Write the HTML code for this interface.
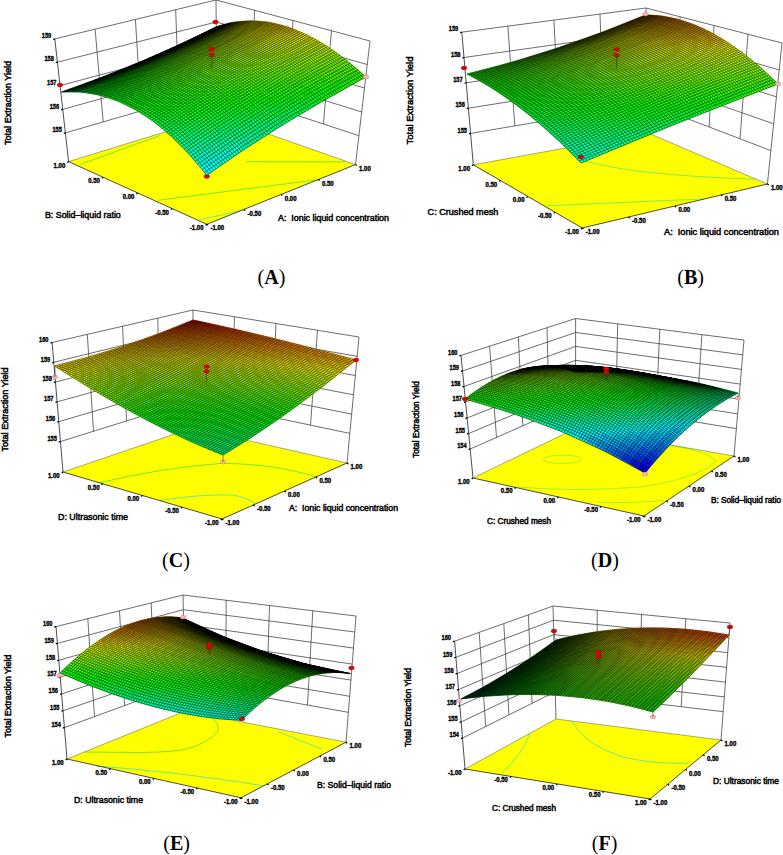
<!DOCTYPE html>
<html><head><meta charset="utf-8"><title>Response surface plots</title>
<style>
html,body{margin:0;padding:0;background:#fff;}
svg{display:block;font-family:"Liberation Sans",sans-serif;}
</style></head><body>
<svg width="783" height="855" viewBox="0 0 783 855">
<rect width="783" height="855" fill="#fff"/>
<g id="pA">
<polygon points="68.6,161.6 206.8,224.3 355.5,164.6 217,116" fill="#ffff00"/>
<path d="M80,164.5L160,135.5" fill="none" stroke="#38e038" stroke-width="0.7"/>
<path d="M158,200.3L318,179.7" fill="none" stroke="#38e038" stroke-width="0.7"/>
<path d="M199.9,219.7L244.4,210" fill="none" stroke="#30e0c0" stroke-width="0.7"/>
<path d="M246,161.7L345,161.9" fill="none" stroke="#38e038" stroke-width="0.7"/>
<path d="M68.6,161.6L217,116L355.5,164.6" fill="none" stroke="#555" stroke-width="0.5"/>
<path d="M95.1,29.2L103.2,121.9M254.5,10.2L252.3,100.6M135.4,19.4L141.1,110.9M293,20.5L287.8,112.3M175.7,9.7L178.9,99.9M331.5,30.8L323.4,124M216,0L217,116M370,41L355.5,164.6M54.8,38.9L216,0L370,41M57.4,62.2L216.2,22L367.2,64.5M60.1,85.6L216.4,44.1L364.5,88M62.7,109.4L216.6,66.7L361.7,112M65.4,132.9L216.8,88.9L358.9,135.7" fill="none" stroke="#3c3c3c" stroke-width="0.75"/>
<path d="M54.8,38.9L68.6,161.6L206.8,224.3L355.5,164.6" fill="none" stroke="#111" stroke-width="0.75"/>
<path d="M54.8,38.9l-1.6,0.4M57.4,62.2l-1.6,0.4M60.1,85.6l-1.6,0.4M62.7,109.4l-1.6,0.4M65.4,132.9l-1.6,0.4M68.6,161.6l-1.3,1.0M206.8,224.3l1.3,1.0M103.2,177.3l-1.3,1.0M244,209.4l1.3,1.0M137.7,192.9l-1.3,1.0M281.1,194.4l1.3,1.0M172.2,208.6l-1.3,1.0M318.3,179.5l1.3,1.0M206.8,224.3l-1.3,1.0M355.5,164.6l1.3,1.0" fill="none" stroke="#000" stroke-width="1.3"/>
<g fill="currentColor" stroke="currentColor" stroke-width="0.6"><polygon color="#0e1600" points="208.5,30.7 215.5,28.5 222.9,24.8 216,27"/><polygon color="#0c1500" points="201,34.4 208,32.2 215.5,28.5 208.5,30.7"/><polygon color="#2d3a00" points="215.5,28.5 222.5,26.8 229.9,23 222.9,24.8"/><polygon color="#0a1500" points="193.5,38 200.5,35.8 208,32.2 201,34.4"/><polygon color="#273a00" points="208,32.2 215.1,30.5 222.5,26.8 215.5,28.5"/><polygon color="#607000" points="222.5,26.8 229.6,25.5 237,21.8 229.9,23"/><polygon color="#081500" points="185.9,41.6 193,39.4 200.5,35.8 193.5,38"/><polygon color="#223a00" points="200.5,35.8 207.6,34.2 215.1,30.5 208,32.2"/><polygon color="#577000" points="215.1,30.5 222.2,29.3 229.6,25.5 222.5,26.8"/><polygon color="#acb600" points="229.6,25.5 236.7,24.8 244.1,21 237,21.8"/><polygon color="#061500" points="178.3,45.1 185.5,43 193,39.4 185.9,41.6"/><polygon color="#1d3a00" points="193,39.4 200.1,37.8 207.6,34.2 200.5,35.8"/><polygon color="#4e7000" points="207.6,34.2 214.7,33 222.2,29.3 215.1,30.5"/><polygon color="#9db700" points="222.2,29.3 229.3,28.6 236.7,24.8 229.6,25.5"/><polygon color="#f1ee00" points="236.7,24.8 243.9,24.6 251.2,20.8 244.1,21"/><polygon color="#051600" points="170.7,48.6 177.9,46.5 185.5,43 178.3,45.1"/><polygon color="#193b00" points="185.5,43 192.6,41.4 200.1,37.8 193,39.4"/><polygon color="#467200" points="200.1,37.8 207.3,36.7 214.7,33 207.6,34.2"/><polygon color="#90b900" points="214.7,33 221.9,32.3 229.3,28.6 222.2,29.3"/><polygon color="#e0f100" points="229.3,28.6 236.5,28.4 243.9,24.6 236.7,24.8"/><polygon color="#ffef00" points="243.9,24.6 251.1,24.9 258.5,21 251.2,20.8"/><polygon color="#031700" points="163.1,52 170.3,50 177.9,46.5 170.7,48.6"/><polygon color="#163d00" points="177.9,46.5 185.1,45 192.6,41.4 185.5,43"/><polygon color="#3e7500" points="192.6,41.4 199.8,40.4 207.3,36.7 200.1,37.8"/><polygon color="#83bc00" points="207.3,36.7 214.4,36.1 221.9,32.3 214.7,33"/><polygon color="#cef300" points="221.9,32.3 229,32.2 236.5,28.4 229.3,28.6"/><polygon color="#faff00" points="236.5,28.4 243.7,28.7 251.1,24.9 243.9,24.6"/><polygon color="#ffe500" points="251.1,24.9 258.3,25.7 265.8,21.7 258.5,21"/><polygon color="#021900" points="155.4,55.4 162.7,53.5 170.3,50 163.1,52"/><polygon color="#124000" points="170.3,50 177.5,48.6 185.1,45 177.9,46.5"/><polygon color="#377800" points="185.1,45 192.3,44 199.8,40.4 192.6,41.4"/><polygon color="#78c000" points="199.8,40.4 206.9,39.8 214.4,36.1 207.3,36.7"/><polygon color="#bdf500" points="214.4,36.1 221.6,36 229,32.2 221.9,32.3"/><polygon color="#e6ff00" points="229,32.2 236.2,32.6 243.7,28.7 236.5,28.4"/><polygon color="#fff900" points="243.7,28.7 250.9,29.6 258.3,25.7 251.1,24.9"/><polygon color="#ffe000" points="258.3,25.7 265.6,26.9 273.1,23 265.8,21.7"/><polygon color="#011c00" points="147.7,58.7 155,56.9 162.7,53.5 155.4,55.4"/><polygon color="#0f4400" points="162.7,53.5 169.9,52.1 177.5,48.6 170.3,50"/><polygon color="#317d00" points="177.5,48.6 184.7,47.6 192.3,44 185.1,45"/><polygon color="#6dc600" points="192.3,44 199.4,43.5 206.9,39.8 199.8,40.4"/><polygon color="#adf700" points="206.9,39.8 214.1,39.8 221.6,36 214.4,36.1"/><polygon color="#d3ff00" points="221.6,36 228.8,36.4 236.2,32.6 229,32.2"/><polygon color="#f0ff00" points="236.2,32.6 243.4,33.5 250.9,29.6 243.7,28.7"/><polygon color="#fff400" points="250.9,29.6 258.2,30.9 265.6,26.9 258.3,25.7"/><polygon color="#ffdf00" points="265.6,26.9 273,28.7 280.5,24.8 273.1,23"/><polygon color="#001e00" points="140,62 147.3,60.3 155,56.9 147.7,58.7"/><polygon color="#0b4800" points="155,56.9 162.3,55.6 169.9,52.1 162.7,53.5"/><polygon color="#2a8200" points="169.9,52.1 177.1,51.2 184.7,47.6 177.5,48.6"/><polygon color="#63cc00" points="184.7,47.6 191.9,47.2 199.4,43.5 192.3,44"/><polygon color="#9dfb00" points="199.4,43.5 206.6,43.5 214.1,39.8 206.9,39.8"/><polygon color="#c0ff00" points="214.1,39.8 221.3,40.3 228.8,36.4 221.6,36"/><polygon color="#ddff00" points="228.8,36.4 235.9,37.4 243.4,33.5 236.2,32.6"/><polygon color="#f6ff00" points="243.4,33.5 250.7,34.9 258.2,30.9 250.9,29.6"/><polygon color="#fff200" points="258.2,30.9 265.5,32.8 273,28.7 265.6,26.9"/><polygon color="#ffe100" points="273,28.7 280.4,31.1 288,27 280.5,24.8"/><polygon color="#002202" points="132.3,65.2 139.6,63.6 147.3,60.3 140,62"/><polygon color="#074d00" points="147.3,60.3 154.6,59 162.3,55.6 155,56.9"/><polygon color="#248900" points="162.3,55.6 169.5,54.8 177.1,51.2 169.9,52.1"/><polygon color="#59d400" points="177.1,51.2 184.3,50.9 191.9,47.2 184.7,47.6"/><polygon color="#8efe00" points="191.9,47.2 199.1,47.3 206.6,43.5 199.4,43.5"/><polygon color="#afff00" points="206.6,43.5 213.8,44.1 221.3,40.3 214.1,39.8"/><polygon color="#cbff00" points="221.3,40.3 228.4,41.3 235.9,37.4 228.8,36.4"/><polygon color="#e4ff00" points="235.9,37.4 243.1,38.8 250.7,34.9 243.4,33.5"/><polygon color="#f9ff00" points="250.7,34.9 257.9,36.8 265.5,32.8 258.2,30.9"/><polygon color="#fff400" points="265.5,32.8 272.8,35.1 280.4,31.1 273,28.7"/><polygon color="#ffe700" points="280.4,31.1 287.8,33.9 295.5,29.8 288,27"/><polygon color="#002704" points="124.5,68.4 131.9,66.9 139.6,63.6 132.3,65.2"/><polygon color="#045400" points="139.6,63.6 147,62.5 154.6,59 147.3,60.3"/><polygon color="#1e9100" points="154.6,59 161.9,58.3 169.5,54.8 162.3,55.6"/><polygon color="#4eda00" points="169.5,54.8 176.8,54.5 184.3,50.9 177.1,51.2"/><polygon color="#7eff00" points="184.3,50.9 191.5,51 199.1,47.3 191.9,47.2"/><polygon color="#9dff00" points="199.1,47.3 206.2,47.9 213.8,44.1 206.6,43.5"/><polygon color="#baff00" points="213.8,44.1 220.9,45.2 228.4,41.3 221.3,40.3"/><polygon color="#d2ff00" points="228.4,41.3 235.6,42.8 243.1,38.8 235.9,37.4"/><polygon color="#e7ff00" points="243.1,38.8 250.4,40.8 257.9,36.8 250.7,34.9"/><polygon color="#f7ff00" points="257.9,36.8 265.2,39.2 272.8,35.1 265.5,32.8"/><polygon color="#fffa00" points="272.8,35.1 280.2,38 287.8,33.9 280.4,31.1"/><polygon color="#fff200" points="287.8,33.9 295.3,37.2 303.1,33 295.5,29.8"/><polygon color="#002c07" points="116.7,71.5 124.1,70.1 131.9,66.9 124.5,68.4"/><polygon color="#005b00" points="131.9,66.9 139.3,65.9 147,62.5 139.6,63.6"/><polygon color="#179a00" points="147,62.5 154.3,61.9 161.9,58.3 154.6,59"/><polygon color="#42e000" points="161.9,58.3 169.2,58.2 176.8,54.5 169.5,54.8"/><polygon color="#6eff00" points="176.8,54.5 184,54.8 191.5,51 184.3,50.9"/><polygon color="#8dff00" points="191.5,51 198.7,51.7 206.2,47.9 199.1,47.3"/><polygon color="#a8ff00" points="206.2,47.9 213.4,49.1 220.9,45.2 213.8,44.1"/><polygon color="#c1ff00" points="220.9,45.2 228.1,46.7 235.6,42.8 228.4,41.3"/><polygon color="#d5ff00" points="235.6,42.8 242.8,44.8 250.4,40.8 243.1,38.8"/><polygon color="#e5ff00" points="250.4,40.8 257.6,43.3 265.2,39.2 257.9,36.8"/><polygon color="#f1ff00" points="265.2,39.2 272.5,42.1 280.2,38 272.8,35.1"/><polygon color="#faff00" points="280.2,38 287.6,41.4 295.3,37.2 287.8,33.9"/><polygon color="#fdff00" points="295.3,37.2 302.9,41 310.8,36.8 303.1,33"/><polygon color="#00320a" points="108.9,74.6 116.4,73.3 124.1,70.1 116.7,71.5"/><polygon color="#006304" points="124.1,70.1 131.5,69.2 139.3,65.9 131.9,66.9"/><polygon color="#10a400" points="139.3,65.9 146.6,65.4 154.3,61.9 147,62.5"/><polygon color="#37e500" points="154.3,61.9 161.5,61.8 169.2,58.2 161.9,58.3"/><polygon color="#5fff00" points="169.2,58.2 176.4,58.5 184,54.8 176.8,54.5"/><polygon color="#7dff00" points="184,54.8 191.1,55.6 198.7,51.7 191.5,51"/><polygon color="#98ff00" points="198.7,51.7 205.9,52.9 213.4,49.1 206.2,47.9"/><polygon color="#b0ff00" points="213.4,49.1 220.5,50.7 228.1,46.7 220.9,45.2"/><polygon color="#c4ff00" points="228.1,46.7 235.2,48.9 242.8,44.8 235.6,42.8"/><polygon color="#d4ff00" points="242.8,44.8 250,47.4 257.6,43.3 250.4,40.8"/><polygon color="#e0ff00" points="257.6,43.3 264.8,46.3 272.5,42.1 265.2,39.2"/><polygon color="#e8ff00" points="272.5,42.1 279.8,45.6 287.6,41.4 280.2,38"/><polygon color="#ecff00" points="287.6,41.4 295,45.3 302.9,41 295.3,37.2"/><polygon color="#ebff00" points="302.9,41 310.5,45.3 318.5,41 310.8,36.8"/><polygon color="#003a0d" points="101.1,77.6 108.6,76.5 116.4,73.3 108.9,74.6"/><polygon color="#006d09" points="116.4,73.3 123.8,72.5 131.5,69.2 124.1,70.1"/><polygon color="#09b000" points="131.5,69.2 138.9,68.8 146.6,65.4 139.3,65.9"/><polygon color="#2dec00" points="146.6,65.4 153.9,65.4 161.5,61.8 154.3,61.9"/><polygon color="#50ff00" points="161.5,61.8 168.8,62.2 176.4,58.5 169.2,58.2"/><polygon color="#6eff00" points="176.4,58.5 183.6,59.4 191.1,55.6 184,54.8"/><polygon color="#88ff00" points="191.1,55.6 198.3,56.8 205.9,52.9 198.7,51.7"/><polygon color="#9fff00" points="205.9,52.9 213,54.7 220.5,50.7 213.4,49.1"/><polygon color="#b3ff00" points="220.5,50.7 227.7,52.9 235.2,48.9 228.1,46.7"/><polygon color="#c3ff00" points="235.2,48.9 242.4,51.5 250,47.4 242.8,44.8"/><polygon color="#cfff00" points="250,47.4 257.2,50.5 264.8,46.3 257.6,43.3"/><polygon color="#d7ff00" points="264.8,46.3 272.1,49.8 279.8,45.6 272.5,42.1"/><polygon color="#dbff00" points="279.8,45.6 287.2,49.6 295,45.3 287.6,41.4"/><polygon color="#daff00" points="295,45.3 302.5,49.7 310.5,45.3 302.9,41"/><polygon color="#d6ff00" points="310.5,45.3 318.1,50.2 326.2,45.8 318.5,41"/><polygon color="#004211" points="93.2,80.6 100.7,79.6 108.6,76.5 101.1,77.6"/><polygon color="#00780f" points="108.6,76.5 116,75.8 123.8,72.5 116.4,73.3"/><polygon color="#02be00" points="123.8,72.5 131.2,72.3 138.9,68.8 131.5,69.2"/><polygon color="#22f300" points="138.9,68.8 146.2,69 153.9,65.4 146.6,65.4"/><polygon color="#42ff00" points="153.9,65.4 161.1,65.9 168.8,62.2 161.5,61.8"/><polygon color="#5fff00" points="168.8,62.2 176,63.2 183.6,59.4 176.4,58.5"/><polygon color="#79ff00" points="183.6,59.4 190.7,60.7 198.3,56.8 191.1,55.6"/><polygon color="#8fff00" points="198.3,56.8 205.4,58.7 213,54.7 205.9,52.9"/><polygon color="#a2ff00" points="213,54.7 220.1,56.9 227.7,52.9 220.5,50.7"/><polygon color="#b2ff00" points="227.7,52.9 234.8,55.6 242.4,51.5 235.2,48.9"/><polygon color="#beff00" points="242.4,51.5 249.5,54.6 257.2,50.5 250,47.4"/><polygon color="#c6ff00" points="257.2,50.5 264.4,54 272.1,49.8 264.8,46.3"/><polygon color="#c9ff00" points="272.1,49.8 279.4,53.8 287.2,49.6 279.8,45.6"/><polygon color="#c9ff00" points="287.2,49.6 294.6,54 302.5,49.7 295,45.3"/><polygon color="#c5ff00" points="302.5,49.7 310,54.6 318.1,50.2 310.5,45.3"/><polygon color="#bcff00" points="318.1,50.2 325.8,55.5 334.1,51 326.2,45.8"/><polygon color="#004c16" points="85.3,83.5 92.9,82.7 100.7,79.6 93.2,80.6"/><polygon color="#008515" points="100.7,79.6 108.2,79.1 116,75.8 108.6,76.5"/><polygon color="#00cd05" points="116,75.8 123.4,75.7 131.2,72.3 123.8,72.5"/><polygon color="#17fb00" points="131.2,72.3 138.5,72.5 146.2,69 138.9,68.8"/><polygon color="#36ff00" points="146.2,69 153.5,69.6 161.1,65.9 153.9,65.4"/><polygon color="#51ff00" points="161.1,65.9 168.3,67 176,63.2 168.8,62.2"/><polygon color="#6aff00" points="176,63.2 183.1,64.6 190.7,60.7 183.6,59.4"/><polygon color="#80ff00" points="190.7,60.7 197.8,62.6 205.4,58.7 198.3,56.8"/><polygon color="#92ff00" points="205.4,58.7 212.5,61 220.1,56.9 213,54.7"/><polygon color="#a1ff00" points="220.1,56.9 227.2,59.7 234.8,55.6 227.7,52.9"/><polygon color="#adff00" points="234.8,55.6 241.9,58.8 249.5,54.6 242.4,51.5"/><polygon color="#b5ff00" points="249.5,54.6 256.7,58.3 264.4,54 257.2,50.5"/><polygon color="#b9ff00" points="264.4,54 271.6,58.2 279.4,53.8 272.1,49.8"/><polygon color="#b8ff00" points="279.4,53.8 286.7,58.4 294.6,54 287.2,49.6"/><polygon color="#b4ff00" points="294.6,54 302,59 310,54.6 302.5,49.7"/><polygon color="#abff00" points="310,54.6 317.6,60 325.8,55.5 318.1,50.2"/><polygon color="#9eff00" points="325.8,55.5 333.5,61.3 342,56.8 334.1,51"/><polygon color="#00581b" points="77.4,86.4 85,85.7 92.9,82.7 85.3,83.5"/><polygon color="#00941b" points="92.9,82.7 100.4,82.3 108.2,79.1 100.7,79.6"/><polygon color="#00dd0e" points="108.2,79.1 115.6,79.1 123.4,75.7 116,75.8"/><polygon color="#0dff00" points="123.4,75.7 130.8,76.1 138.5,72.5 131.2,72.3"/><polygon color="#29ff00" points="138.5,72.5 145.8,73.3 153.5,69.6 146.2,69"/><polygon color="#44ff00" points="153.5,69.6 160.7,70.8 168.3,67 161.1,65.9"/><polygon color="#5bff00" points="168.3,67 175.5,68.5 183.1,64.6 176,63.2"/><polygon color="#71ff00" points="183.1,64.6 190.2,66.6 197.8,62.6 190.7,60.7"/><polygon color="#83ff00" points="197.8,62.6 204.9,65.1 212.5,61 205.4,58.7"/><polygon color="#91ff00" points="212.5,61 219.6,63.9 227.2,59.7 220.1,56.9"/><polygon color="#9dff00" points="227.2,59.7 234.3,63 241.9,58.8 234.8,55.6"/><polygon color="#a4ff00" points="241.9,58.8 249,62.6 256.7,58.3 249.5,54.6"/><polygon color="#a8ff00" points="256.7,58.3 263.8,62.5 271.6,58.2 264.4,54"/><polygon color="#a7ff00" points="271.6,58.2 278.8,62.8 286.7,58.4 279.4,53.8"/><polygon color="#a3ff00" points="286.7,58.4 294,63.5 302,59 294.6,54"/><polygon color="#9bff00" points="302,59 309.4,64.5 317.6,60 310,54.6"/><polygon color="#8eff00" points="317.6,60 325.2,65.9 333.5,61.3 325.8,55.5"/><polygon color="#7dff00" points="333.5,61.3 341.3,67.7 349.9,63 342,56.8"/><polygon color="#006621" points="69.5,89.2 77.1,88.7 85,85.7 77.4,86.4"/><polygon color="#00a423" points="85,85.7 92.5,85.5 100.4,82.3 92.9,82.7"/><polygon color="#00e616" points="100.4,82.3 107.8,82.5 115.6,79.1 108.2,79.1"/><polygon color="#03ff00" points="115.6,79.1 123,79.6 130.8,76.1 123.4,75.7"/><polygon color="#1eff00" points="130.8,76.1 138.1,76.9 145.8,73.3 138.5,72.5"/><polygon color="#37ff00" points="145.8,73.3 153,74.5 160.7,70.8 153.5,69.6"/><polygon color="#4eff00" points="160.7,70.8 167.9,72.4 175.5,68.5 168.3,67"/><polygon color="#62ff00" points="175.5,68.5 182.6,70.6 190.2,66.6 183.1,64.6"/><polygon color="#73ff00" points="190.2,66.6 197.3,69.1 204.9,65.1 197.8,62.6"/><polygon color="#82ff00" points="204.9,65.1 212,68 219.6,63.9 212.5,61"/><polygon color="#8dff00" points="219.6,63.9 226.7,67.2 234.3,63 227.2,59.7"/><polygon color="#94ff00" points="234.3,63 241.3,66.8 249,62.6 241.9,58.8"/><polygon color="#97ff00" points="249,62.6 256.1,66.8 263.8,62.5 256.7,58.3"/><polygon color="#97ff00" points="263.8,62.5 271,67.2 278.8,62.8 271.6,58.2"/><polygon color="#92ff00" points="278.8,62.8 286,67.9 294,63.5 286.7,58.4"/><polygon color="#8aff00" points="294,63.5 301.3,69.1 309.4,64.5 302,59"/><polygon color="#7dff00" points="309.4,64.5 316.9,70.5 325.2,65.9 317.6,60"/><polygon color="#6dff00" points="325.2,65.9 332.8,72.4 341.3,67.7 333.5,61.3"/><polygon color="#58ff00" points="341.3,67.7 349.1,74.5 357.9,69.8 349.9,63"/><polygon color="#007528" points="61.5,92 69.1,91.7 77.1,88.7 69.5,89.2"/><polygon color="#00b72a" points="77.1,88.7 84.6,88.7 92.5,85.5 85,85.7"/><polygon color="#00f01e" points="92.5,85.5 100,85.8 107.8,82.5 100.4,82.3"/><polygon color="#00ff05" points="107.8,82.5 115.2,83.1 123,79.6 115.6,79.1"/><polygon color="#13ff00" points="123,79.6 130.4,80.6 138.1,76.9 130.8,76.1"/><polygon color="#2bff00" points="138.1,76.9 145.4,78.3 153,74.5 145.8,73.3"/><polygon color="#41ff00" points="153,74.5 160.2,76.3 167.9,72.4 160.7,70.8"/><polygon color="#54ff00" points="167.9,72.4 175,74.6 182.6,70.6 175.5,68.5"/><polygon color="#65ff00" points="182.6,70.6 189.7,73.2 197.3,69.1 190.2,66.6"/><polygon color="#72ff00" points="197.3,69.1 204.4,72.2 212,68 204.9,65.1"/><polygon color="#7dff00" points="212,68 219,71.5 226.7,67.2 219.6,63.9"/><polygon color="#84ff00" points="226.7,67.2 233.7,71.1 241.3,66.8 234.3,63"/><polygon color="#87ff00" points="241.3,66.8 248.4,71.2 256.1,66.8 249,62.6"/><polygon color="#87ff00" points="256.1,66.8 263.2,71.6 271,67.2 263.8,62.5"/><polygon color="#82ff00" points="271,67.2 278.1,72.4 286,67.9 278.8,62.8"/><polygon color="#79ff00" points="286,67.9 293.2,73.6 301.3,69.1 294,63.5"/><polygon color="#6dff00" points="301.3,69.1 308.6,75.2 316.9,70.5 309.4,64.5"/><polygon color="#5cff00" points="316.9,70.5 324.3,77.1 332.8,72.4 325.2,65.9"/><polygon color="#47ff00" points="332.8,72.4 340.4,79.3 349.1,74.5 341.3,67.7"/><polygon color="#2fff00" points="349.1,74.5 357,81.9 366,77 357.9,69.8"/><polygon color="#00cb33" points="69.1,91.7 76.7,91.8 84.6,88.7 77.1,88.7"/><polygon color="#00fb26" points="84.6,88.7 92.1,89.1 100,85.8 92.5,85.5"/><polygon color="#00ff0e" points="100,85.8 107.4,86.6 115.2,83.1 107.8,82.5"/><polygon color="#09ff00" points="115.2,83.1 122.6,84.2 130.4,80.6 123,79.6"/><polygon color="#1fff00" points="130.4,80.6 137.6,82.1 145.4,78.3 138.1,76.9"/><polygon color="#34ff00" points="145.4,78.3 152.6,80.2 160.2,76.3 153,74.5"/><polygon color="#46ff00" points="160.2,76.3 167.4,78.6 175,74.6 167.9,72.4"/><polygon color="#56ff00" points="175,74.6 182.1,77.3 189.7,73.2 182.6,70.6"/><polygon color="#63ff00" points="189.7,73.2 196.8,76.3 204.4,72.2 197.3,69.1"/><polygon color="#6dff00" points="204.4,72.2 211.4,75.7 219,71.5 212,68"/><polygon color="#74ff00" points="219,71.5 226,75.4 233.7,71.1 226.7,67.2"/><polygon color="#77ff00" points="233.7,71.1 240.7,75.6 248.4,71.2 241.3,66.8"/><polygon color="#76ff00" points="248.4,71.2 255.4,76 263.2,71.6 256.1,66.8"/><polygon color="#72ff00" points="263.2,71.6 270.2,76.9 278.1,72.4 271,67.2"/><polygon color="#69ff00" points="278.1,72.4 285.2,78.2 293.2,73.6 286,67.9"/><polygon color="#5cff00" points="293.2,73.6 300.5,79.8 308.6,75.2 301.3,69.1"/><polygon color="#4cff00" points="308.6,75.2 316,81.8 324.3,77.1 316.9,70.5"/><polygon color="#37ff00" points="324.3,77.1 331.8,84.1 340.4,79.3 332.8,72.4"/><polygon color="#1eff00" points="340.4,79.3 348.1,86.8 357,81.9 349.1,74.5"/><polygon color="#00ff2c" points="76.7,91.8 84.2,92.4 92.1,89.1 84.6,88.7"/><polygon color="#00ff15" points="92.1,89.1 99.6,90.1 107.4,86.6 100,85.8"/><polygon color="#00ff00" points="107.4,86.6 114.8,87.9 122.6,84.2 115.2,83.1"/><polygon color="#15ff00" points="122.6,84.2 129.9,85.9 137.6,82.1 130.4,80.6"/><polygon color="#28ff00" points="137.6,82.1 144.9,84.1 152.6,80.2 145.4,78.3"/><polygon color="#39ff00" points="152.6,80.2 159.8,82.6 167.4,78.6 160.2,76.3"/><polygon color="#48ff00" points="167.4,78.6 174.5,81.4 182.1,77.3 175,74.6"/><polygon color="#55ff00" points="182.1,77.3 189.2,80.5 196.8,76.3 189.7,73.2"/><polygon color="#5eff00" points="196.8,76.3 203.8,79.9 211.4,75.7 204.4,72.2"/><polygon color="#64ff00" points="211.4,75.7 218.4,79.8 226,75.4 219,71.5"/><polygon color="#67ff00" points="226,75.4 233,79.9 240.7,75.6 233.7,71.1"/><polygon color="#66ff00" points="240.7,75.6 247.7,80.5 255.4,76 248.4,71.2"/><polygon color="#62ff00" points="255.4,76 262.4,81.4 270.2,76.9 263.2,71.6"/><polygon color="#59ff00" points="270.2,76.9 277.3,82.7 285.2,78.2 278.1,72.4"/><polygon color="#4cff00" points="285.2,78.2 292.4,84.4 300.5,79.8 293.2,73.6"/><polygon color="#3cff00" points="300.5,79.8 307.7,86.5 316,81.8 308.6,75.2"/><polygon color="#27ff00" points="316,81.8 323.3,88.9 331.8,84.1 324.3,77.1"/><polygon color="#0eff00" points="331.8,84.1 339.4,91.7 348.1,86.8 340.4,79.3"/><polygon color="#00ff1c" points="84.2,92.4 91.7,93.5 99.6,90.1 92.1,89.1"/><polygon color="#00ff08" points="99.6,90.1 107,91.5 114.8,87.9 107.4,86.6"/><polygon color="#0bff00" points="114.8,87.9 122.2,89.6 129.9,85.9 122.6,84.2"/><polygon color="#1dff00" points="129.9,85.9 137.2,88 144.9,84.1 137.6,82.1"/><polygon color="#2dff00" points="144.9,84.1 152.1,86.6 159.8,82.6 152.6,80.2"/><polygon color="#3bff00" points="159.8,82.6 166.9,85.5 174.5,81.4 167.4,78.6"/><polygon color="#47ff00" points="174.5,81.4 181.6,84.7 189.2,80.5 182.1,77.3"/><polygon color="#4fff00" points="189.2,80.5 196.2,84.2 203.8,79.9 196.8,76.3"/><polygon color="#55ff00" points="203.8,79.9 210.8,84.1 218.4,79.8 211.4,75.7"/><polygon color="#58ff00" points="218.4,79.8 225.4,84.3 233,79.9 226,75.4"/><polygon color="#56ff00" points="233,79.9 240,85 247.7,80.5 240.7,75.6"/><polygon color="#51ff00" points="247.7,80.5 254.6,86 262.4,81.4 255.4,76"/><polygon color="#49ff00" points="262.4,81.4 269.4,87.3 277.3,82.7 270.2,76.9"/><polygon color="#3cff00" points="277.3,82.7 284.3,89.1 292.4,84.4 285.2,78.2"/><polygon color="#2bff00" points="292.4,84.4 299.5,91.2 307.7,86.5 300.5,79.8"/><polygon color="#17ff00" points="307.7,86.5 314.9,93.7 323.3,88.9 316,81.8"/><polygon color="#00ff01" points="323.3,88.9 330.7,96.6 339.4,91.7 331.8,84.1"/><polygon color="#00ff10" points="91.7,93.5 99.2,95.1 107,91.5 99.6,90.1"/><polygon color="#01ff00" points="107,91.5 114.4,93.4 122.2,89.6 114.8,87.9"/><polygon color="#12ff00" points="122.2,89.6 129.5,91.9 137.2,88 129.9,85.9"/><polygon color="#21ff00" points="137.2,88 144.5,90.6 152.1,86.6 144.9,84.1"/><polygon color="#2eff00" points="152.1,86.6 159.3,89.6 166.9,85.5 159.8,82.6"/><polygon color="#39ff00" points="166.9,85.5 174,88.9 181.6,84.7 174.5,81.4"/><polygon color="#41ff00" points="181.6,84.7 188.6,88.5 196.2,84.2 189.2,80.5"/><polygon color="#46ff00" points="196.2,84.2 203.2,88.4 210.8,84.1 203.8,79.9"/><polygon color="#48ff00" points="210.8,84.1 217.7,88.8 225.4,84.3 218.4,79.8"/><polygon color="#47ff00" points="225.4,84.3 232.3,89.4 240,85 233,79.9"/><polygon color="#42ff00" points="240,85 246.9,90.5 254.6,86 247.7,80.5"/><polygon color="#39ff00" points="254.6,86 261.5,91.9 269.4,87.3 262.4,81.4"/><polygon color="#2cff00" points="269.4,87.3 276.4,93.8 284.3,89.1 277.3,82.7"/><polygon color="#1bff00" points="284.3,89.1 291.3,96 299.5,91.2 292.4,84.4"/><polygon color="#06ff00" points="299.5,91.2 306.6,98.5 314.9,93.7 307.7,86.5"/><polygon color="#00ff11" points="314.9,93.7 322.1,101.5 330.7,96.6 323.3,88.9"/><polygon color="#00ff07" points="99.2,95.1 106.6,97.1 114.4,93.4 107,91.5"/><polygon color="#07ff00" points="114.4,93.4 121.8,95.7 129.5,91.9 122.2,89.6"/><polygon color="#15ff00" points="129.5,91.9 136.8,94.6 144.5,90.6 137.2,88"/><polygon color="#21ff00" points="144.5,90.6 151.6,93.7 159.3,89.6 152.1,86.6"/><polygon color="#2bff00" points="159.3,89.6 166.4,93.1 174,88.9 166.9,85.5"/><polygon color="#33ff00" points="174,88.9 181.1,92.8 188.6,88.5 181.6,84.7"/><polygon color="#37ff00" points="188.6,88.5 195.6,92.8 203.2,88.4 196.2,84.2"/><polygon color="#39ff00" points="203.2,88.4 210.2,93.2 217.7,88.8 210.8,84.1"/><polygon color="#37ff00" points="217.7,88.8 224.7,93.9 232.3,89.4 225.4,84.3"/><polygon color="#32ff00" points="232.3,89.4 239.2,95.1 246.9,90.5 240,85"/><polygon color="#29ff00" points="246.9,90.5 253.8,96.6 261.5,91.9 254.6,86"/><polygon color="#1cff00" points="261.5,91.9 268.4,98.4 276.4,93.8 269.4,87.3"/><polygon color="#0bff00" points="276.4,93.8 283.3,100.7 291.3,96 284.3,89.1"/><polygon color="#00ff09" points="291.3,96 298.4,103.4 306.6,98.5 299.5,91.2"/><polygon color="#00ff21" points="306.6,98.5 313.7,106.4 322.1,101.5 314.9,93.7"/><polygon color="#00ff01" points="106.6,97.1 114,99.6 121.8,95.7 114.4,93.4"/><polygon color="#0aff00" points="121.8,95.7 129.1,98.6 136.8,94.6 129.5,91.9"/><polygon color="#15ff00" points="136.8,94.6 144,97.8 151.6,93.7 144.5,90.6"/><polygon color="#1eff00" points="151.6,93.7 158.8,97.3 166.4,93.1 159.3,89.6"/><polygon color="#25ff00" points="166.4,93.1 173.5,97.1 181.1,92.8 174,88.9"/><polygon color="#29ff00" points="181.1,92.8 188.1,97.2 195.6,92.8 188.6,88.5"/><polygon color="#2aff00" points="195.6,92.8 202.6,97.6 210.2,93.2 203.2,88.4"/><polygon color="#28ff00" points="210.2,93.2 217.1,98.4 224.7,93.9 217.7,88.8"/><polygon color="#22ff00" points="224.7,93.9 231.5,99.6 239.2,95.1 232.3,89.4"/><polygon color="#19ff00" points="239.2,95.1 246,101.2 253.8,96.6 246.9,90.5"/><polygon color="#0cff00" points="253.8,96.6 260.6,103.1 268.4,98.4 261.5,91.9"/><polygon color="#00ff04" points="268.4,98.4 275.3,105.5 283.3,100.7 276.4,93.8"/><polygon color="#00ff19" points="283.3,100.7 290.2,108.2 298.4,103.4 291.3,96"/><polygon color="#00ff31" points="298.4,103.4 305.4,111.3 313.7,106.4 306.6,98.5"/><polygon color="#00ff00" points="114,99.6 121.4,102.6 129.1,98.6 121.8,95.7"/><polygon color="#09ff00" points="129.1,98.6 136.4,101.9 144,97.8 136.8,94.6"/><polygon color="#11ff00" points="144,97.8 151.2,101.5 158.8,97.3 151.6,93.7"/><polygon color="#17ff00" points="158.8,97.3 165.9,101.4 173.5,97.1 166.4,93.1"/><polygon color="#1aff00" points="173.5,97.1 180.5,101.6 188.1,97.2 181.1,92.8"/><polygon color="#1bff00" points="188.1,97.2 195,102.1 202.6,97.6 195.6,92.8"/><polygon color="#18ff00" points="202.6,97.6 209.5,103 217.1,98.4 210.2,93.2"/><polygon color="#13ff00" points="217.1,98.4 223.9,104.2 231.5,99.6 224.7,93.9"/><polygon color="#09ff00" points="231.5,99.6 238.4,105.8 246,101.2 239.2,95.1"/><polygon color="#00ff03" points="246,101.2 252.8,107.8 260.6,103.1 253.8,96.6"/><polygon color="#00ff14" points="260.6,103.1 267.4,110.2 275.3,105.5 268.4,98.4"/><polygon color="#00ff29" points="275.3,105.5 282.2,113 290.2,108.2 283.3,100.7"/><polygon color="#00ff41" points="290.2,108.2 297.1,116.2 305.4,111.3 298.4,103.4"/><polygon color="#00ff01" points="121.4,102.6 128.7,106.1 136.4,101.9 129.1,98.6"/><polygon color="#05ff00" points="136.4,101.9 143.6,105.8 151.2,101.5 144,97.8"/><polygon color="#0aff00" points="151.2,101.5 158.3,105.7 165.9,101.4 158.8,97.3"/><polygon color="#0cff00" points="165.9,101.4 173,106 180.5,101.6 173.5,97.1"/><polygon color="#0cff00" points="180.5,101.6 187.5,106.6 195,102.1 188.1,97.2"/><polygon color="#09ff00" points="195,102.1 201.9,107.5 209.5,103 202.6,97.6"/><polygon color="#03ff00" points="209.5,103 216.3,108.8 223.9,104.2 217.1,98.4"/><polygon color="#00ff05" points="223.9,104.2 230.7,110.5 238.4,105.8 231.5,99.6"/><polygon color="#00ff13" points="238.4,105.8 245.1,112.6 252.8,107.8 246,101.2"/><polygon color="#00ff24" points="252.8,107.8 259.6,115 267.4,110.2 260.6,103.1"/><polygon color="#00ff38" points="267.4,110.2 274.2,117.9 282.2,113 275.3,105.5"/><polygon color="#00ff51" points="282.2,113 289,121.1 297.1,116.2 290.2,108.2"/><polygon color="#00ff06" points="128.7,106.1 136,110 143.6,105.8 136.4,101.9"/><polygon color="#00ff02" points="143.6,105.8 150.8,110.1 158.3,105.7 151.2,101.5"/><polygon color="#00ff00" points="158.3,105.7 165.5,110.4 173,106 165.9,101.4"/><polygon color="#00ff01" points="173,106 180,111.1 187.5,106.6 180.5,101.6"/><polygon color="#00ff04" points="187.5,106.6 194.4,112.1 201.9,107.5 195,102.1"/><polygon color="#00ff0b" points="201.9,107.5 208.8,113.4 216.3,108.8 209.5,103"/><polygon color="#00ff15" points="216.3,108.8 223.2,115.2 230.7,110.5 223.9,104.2"/><polygon color="#00ff22" points="230.7,110.5 237.5,117.3 245.1,112.6 238.4,105.8"/><polygon color="#00ff33" points="245.1,112.6 251.9,119.8 259.6,115 252.8,107.8"/><polygon color="#00ff48" points="259.6,115 266.4,122.7 274.2,117.9 267.4,110.2"/><polygon color="#00ff61" points="274.2,117.9 281,126 289,121.1 282.2,113"/><polygon color="#00ff0f" points="136,110 143.2,114.4 150.8,110.1 143.6,105.8"/><polygon color="#00ff0e" points="150.8,110.1 157.9,114.8 165.5,110.4 158.3,105.7"/><polygon color="#00ff0f" points="165.5,110.4 172.5,115.6 180,111.1 173,106"/><polygon color="#00ff13" points="180,111.1 187,116.6 194.4,112.1 187.5,106.6"/><polygon color="#00ff1a" points="194.4,112.1 201.3,118.1 208.8,113.4 201.9,107.5"/><polygon color="#00ff24" points="208.8,113.4 215.7,119.9 223.2,115.2 216.3,108.8"/><polygon color="#00ff32" points="223.2,115.2 229.9,122 237.5,117.3 230.7,110.5"/><polygon color="#00ff43" points="237.5,117.3 244.3,124.6 251.9,119.8 245.1,112.6"/><polygon color="#00ff58" points="251.9,119.8 258.6,127.6 266.4,122.7 259.6,115"/><polygon color="#00ff71" points="266.4,122.7 273.1,130.9 281,126 274.2,117.9"/><polygon color="#00ff1b" points="143.2,114.4 150.5,119.3 157.9,114.8 150.8,110.1"/><polygon color="#00ff1d" points="157.9,114.8 165.1,120.1 172.5,115.6 165.5,110.4"/><polygon color="#00ff22" points="172.5,115.6 179.5,121.2 187,116.6 180,111.1"/><polygon color="#00ff29" points="187,116.6 193.9,122.7 201.3,118.1 194.4,112.1"/><polygon color="#00ff33" points="201.3,118.1 208.2,124.6 215.7,119.9 208.8,113.4"/><polygon color="#00ff41" points="215.7,119.9 222.4,126.8 229.9,122 223.2,115.2"/><polygon color="#00ff53" points="229.9,122 236.7,129.4 244.3,124.6 237.5,117.3"/><polygon color="#00ff68" points="244.3,124.6 250.9,132.4 258.6,127.6 251.9,119.8"/><polygon color="#00ff81" points="258.6,127.6 265.3,135.8 273.1,130.9 266.4,122.7"/><polygon color="#00ff2b" points="150.5,119.3 157.6,124.6 165.1,120.1 157.9,114.8"/><polygon color="#00ff30" points="165.1,120.1 172.1,125.8 179.5,121.2 172.5,115.6"/><polygon color="#00ff38" points="179.5,121.2 186.5,127.4 193.9,122.7 187,116.6"/><polygon color="#00ff43" points="193.9,122.7 200.8,129.3 208.2,124.6 201.3,118.1"/><polygon color="#00ff51" points="208.2,124.6 215,131.6 222.4,126.8 215.7,119.9"/><polygon color="#00ff62" points="222.4,126.8 229.2,134.2 236.7,129.4 229.9,122"/><polygon color="#00ff77" points="236.7,129.4 243.4,137.3 250.9,132.4 244.3,124.6"/><polygon color="#00ff90" points="250.9,132.4 257.6,140.8 265.3,135.8 258.6,127.6"/><polygon color="#00ff3e" points="157.6,124.6 164.8,130.4 172.1,125.8 165.1,120.1"/><polygon color="#00ff47" points="172.1,125.8 179.2,132 186.5,127.4 179.5,121.2"/><polygon color="#00ff52" points="186.5,127.4 193.5,134 200.8,129.3 193.9,122.7"/><polygon color="#00ff60" points="200.8,129.3 207.6,136.3 215,131.6 208.2,124.6"/><polygon color="#00ff72" points="215,131.6 221.8,139.1 229.2,134.2 222.4,126.8"/><polygon color="#00ff87" points="229.2,134.2 235.9,142.2 243.4,137.3 236.7,129.4"/><polygon color="#00ffa0" points="243.4,137.3 250,145.7 257.6,140.8 250.9,132.4"/><polygon color="#00ff55" points="164.8,130.4 171.9,136.7 179.2,132 172.1,125.8"/><polygon color="#00ff61" points="179.2,132 186.2,138.7 193.5,134 186.5,127.4"/><polygon color="#00ff6f" points="193.5,134 200.3,141.1 207.6,136.3 200.8,129.3"/><polygon color="#00ff81" points="207.6,136.3 214.4,143.9 221.8,139.1 215,131.6"/><polygon color="#00ff96" points="221.8,139.1 228.5,147 235.9,142.2 229.2,134.2"/><polygon color="#00ffaf" points="235.9,142.2 242.6,150.6 250,145.7 243.4,137.3"/><polygon color="#00ff70" points="171.9,136.7 178.9,143.5 186.2,138.7 179.2,132"/><polygon color="#00ff7e" points="186.2,138.7 193.1,145.9 200.3,141.1 193.5,134"/><polygon color="#00ff90" points="200.3,141.1 207.2,148.7 214.4,143.9 207.6,136.3"/><polygon color="#00ffa6" points="214.4,143.9 221.2,151.9 228.5,147 221.8,139.1"/><polygon color="#00ffbf" points="228.5,147 235.2,155.5 242.6,150.6 235.9,142.2"/><polygon color="#00ff8d" points="178.9,143.5 185.9,150.7 193.1,145.9 186.2,138.7"/><polygon color="#00ffa0" points="193.1,145.9 200,153.6 207.2,148.7 200.3,141.1"/><polygon color="#00ffb5" points="207.2,148.7 214,156.8 221.2,151.9 214.4,143.9"/><polygon color="#00ffce" points="221.2,151.9 227.9,160.5 235.2,155.5 228.5,147"/><polygon color="#00ffaf" points="185.9,150.7 192.9,158.5 200,153.6 193.1,145.9"/><polygon color="#00ffc4" points="200,153.6 206.9,161.7 214,156.8 207.2,148.7"/><polygon color="#00ffde" points="214,156.8 220.8,165.4 227.9,160.5 221.2,151.9"/><polygon color="#00ffd4" points="192.9,158.5 199.9,166.6 206.9,161.7 200,153.6"/><polygon color="#00ffed" points="206.9,161.7 213.7,170.4 220.8,165.4 214,156.8"/><polygon color="#00fffc" points="199.9,166.6 206.8,175.3 213.7,170.4 206.9,161.7"/></g>
<g fill="none" stroke="#000" stroke-opacity="0.56" stroke-width="0.85"><path d="M61.5,92Q141.2,64.5 216,27"/><path d="M61.5,92Q137.8,86.3 206.8,175.3"/><path d="M63.2,91.9Q142.9,64 217.5,26.5"/><path d="M64.2,91.1Q140.4,84.8 209.1,173.7"/><path d="M64.9,91.8Q144.6,63.5 219.1,25.9"/><path d="M66.8,90.2Q143,83.3 211.4,172"/><path d="M66.6,91.7Q146.2,63 220.7,25.4"/><path d="M69.4,89.2Q145.5,81.8 213.7,170.4"/><path d="M68.4,91.7Q147.9,62.5 222.2,24.9"/><path d="M72,88.3Q148.1,80.2 216,168.8"/><path d="M70.1,91.7Q149.6,62.1 223.8,24.5"/><path d="M74.6,87.4Q150.6,78.7 218.3,167.2"/><path d="M71.9,91.7Q151.3,61.7 225.4,24.1"/><path d="M77.2,86.5Q153.1,77.3 220.6,165.6"/><path d="M73.6,91.7Q153,61.3 227.1,23.7"/><path d="M79.7,85.6Q155.6,75.8 222.9,164"/><path d="M75.4,91.8Q154.7,60.9 228.7,23.3"/><path d="M82.3,84.6Q158.1,74.3 225.2,162.4"/><path d="M77.2,91.8Q156.4,60.6 230.4,22.9"/><path d="M84.8,83.7Q160.5,72.9 227.5,160.8"/><path d="M79,92Q158.2,60.3 232,22.6"/><path d="M87.3,82.8Q162.9,71.4 229.8,159.2"/><path d="M80.8,92.1Q159.9,60 233.7,22.3"/><path d="M89.8,81.9Q165.4,70 232.1,157.6"/><path d="M82.6,92.3Q161.6,59.8 235.4,22"/><path d="M92.3,80.9Q167.8,68.6 234.4,156.1"/><path d="M84.4,92.5Q163.4,59.6 237.1,21.7"/><path d="M94.8,80Q170.2,67.2 236.7,154.5"/><path d="M86.2,92.7Q165.1,59.4 238.8,21.5"/><path d="M97.3,79.1Q172.5,65.8 239,153"/><path d="M88,92.9Q166.9,59.3 240.6,21.3"/><path d="M99.7,78.1Q174.9,64.4 241.3,151.5"/><path d="M89.9,93.2Q168.6,59.1 242.3,21.1"/><path d="M102.1,77.2Q177.2,63 243.6,149.9"/><path d="M91.7,93.5Q170.4,59.1 244.1,21"/><path d="M104.5,76.3Q179.5,61.7 245.9,148.4"/><path d="M93.6,93.9Q172.2,59 245.9,20.9"/><path d="M106.9,75.4Q181.9,60.3 248.1,146.9"/><path d="M95.5,94.2Q174,59 247.7,20.8"/><path d="M109.3,74.4Q184.2,59 250.4,145.4"/><path d="M97.4,94.7Q175.8,59 249.5,20.8"/><path d="M111.7,73.5Q186.4,57.6 252.7,143.9"/><path d="M99.3,95.1Q177.6,59.1 251.3,20.8"/><path d="M114.1,72.6Q188.7,56.3 255,142.4"/><path d="M101.2,95.6Q179.4,59.2 253.1,20.8"/><path d="M116.4,71.6Q190.9,55 257.3,141"/><path d="M103.1,96.1Q181.2,59.3 255,20.8"/><path d="M118.7,70.7Q193.2,53.7 259.6,139.5"/><path d="M105,96.6Q183,59.5 256.9,20.9"/><path d="M121,69.8Q195.4,52.4 261.9,138"/><path d="M106.9,97.2Q184.8,59.7 258.8,21"/><path d="M123.3,68.9Q197.6,51.2 264.1,136.6"/><path d="M108.9,97.8Q186.7,59.9 260.7,21.2"/><path d="M125.6,67.9Q199.8,49.9 266.4,135.1"/><path d="M110.8,98.5Q188.5,60.2 262.6,21.4"/><path d="M127.9,67Q202,48.6 268.7,133.7"/><path d="M112.8,99.2Q190.3,60.6 264.5,21.6"/><path d="M130.2,66.1Q204.1,47.4 271,132.3"/><path d="M114.7,99.9Q192.2,60.9 266.5,21.8"/><path d="M132.4,65.2Q206.3,46.2 273.2,130.8"/><path d="M116.7,100.7Q194,61.3 268.4,22.1"/><path d="M134.6,64.2Q208.4,44.9 275.5,129.4"/><path d="M118.7,101.5Q195.9,61.8 270.4,22.5"/><path d="M136.8,63.3Q210.5,43.7 277.8,128"/><path d="M120.7,102.3Q197.7,62.3 272.4,22.9"/><path d="M139,62.4Q212.6,42.5 280,126.6"/><path d="M122.7,103.2Q199.6,62.8 274.4,23.3"/><path d="M141.2,61.5Q214.7,41.3 282.3,125.2"/><path d="M124.7,104.1Q201.5,63.4 276.4,23.7"/><path d="M143.4,60.6Q216.7,40.1 284.5,123.8"/><path d="M126.7,105.1Q203.4,64 278.5,24.2"/><path d="M145.6,59.6Q218.8,39 286.8,122.5"/><path d="M128.7,106.1Q205.2,64.7 280.5,24.8"/><path d="M147.7,58.7Q220.8,37.8 289,121.1"/><path d="M130.7,107.1Q207.1,65.4 282.6,25.3"/><path d="M149.8,57.8Q222.9,36.6 291.3,119.7"/><path d="M132.8,108.2Q209,66.2 284.7,25.9"/><path d="M152,56.9Q224.9,35.5 293.5,118.4"/><path d="M134.8,109.3Q210.9,67 286.8,26.6"/><path d="M154.1,56Q226.9,34.4 295.7,117"/><path d="M136.9,110.5Q212.8,67.9 288.9,27.3"/><path d="M156.2,55.1Q228.9,33.2 297.9,115.7"/><path d="M139,111.7Q214.7,68.8 291.1,28.1"/><path d="M158.2,54.2Q230.8,32.1 300.2,114.4"/><path d="M141,113Q216.6,69.8 293.2,28.9"/><path d="M160.3,53.2Q232.8,31 302.4,113"/><path d="M143.1,114.3Q218.6,70.8 295.4,29.7"/><path d="M162.3,52.3Q234.7,29.9 304.6,111.7"/><path d="M145.2,115.7Q220.5,71.8 297.6,30.6"/><path d="M164.4,51.4Q236.6,28.8 306.8,110.4"/><path d="M147.3,117.1Q222.4,73 299.8,31.5"/><path d="M166.4,50.5Q238.5,27.8 309,109.1"/><path d="M149.4,118.5Q224.3,74.1 302,32.5"/><path d="M168.4,49.6Q240.4,26.7 311.2,107.8"/><path d="M151.5,120Q226.3,75.4 304.3,33.5"/><path d="M170.4,48.7Q242.3,25.6 313.4,106.5"/><path d="M153.6,121.6Q228.2,76.7 306.5,34.6"/><path d="M172.4,47.8Q244.2,24.6 315.6,105.3"/><path d="M155.8,123.2Q230.1,78 308.8,35.7"/><path d="M174.4,46.9Q246.1,23.5 317.8,104"/><path d="M157.9,124.8Q232.1,79.4 311.1,36.9"/><path d="M176.3,46Q247.9,22.5 319.9,102.7"/><path d="M160.1,126.6Q234,80.8 313.4,38.1"/><path d="M178.3,45.1Q249.7,21.5 322.1,101.5"/><path d="M162.2,128.3Q236,82.3 315.7,39.4"/><path d="M180.2,44.3Q251.5,20.5 324.3,100.3"/><path d="M164.4,130.1Q237.9,83.9 318.1,40.8"/><path d="M182.1,43.4Q253.3,19.5 326.4,99"/><path d="M166.5,132Q239.9,85.5 320.4,42.1"/><path d="M184,42.5Q255.1,18.5 328.6,97.8"/><path d="M168.7,133.9Q241.9,87.2 322.8,43.6"/><path d="M185.9,41.6Q256.9,17.5 330.7,96.6"/><path d="M170.9,135.9Q243.8,89 325.2,45.1"/><path d="M187.8,40.7Q258.7,16.5 332.8,95.4"/><path d="M173.1,137.9Q245.8,90.8 327.6,46.6"/><path d="M189.6,39.8Q260.4,15.5 335,94.1"/><path d="M175.3,140Q247.8,92.6 330,48.2"/><path d="M191.5,39Q262.1,14.6 337.1,93"/><path d="M177.5,142.1Q249.7,94.6 332.5,49.9"/><path d="M193.3,38.1Q263.8,13.6 339.2,91.8"/><path d="M179.7,144.3Q251.7,96.6 335,51.6"/><path d="M195.1,37.2Q265.6,12.7 341.3,90.6"/><path d="M181.9,146.5Q253.7,98.6 337.4,53.4"/><path d="M196.9,36.4Q267.2,11.7 343.4,89.4"/><path d="M184.2,148.8Q255.7,100.8 339.9,55.2"/><path d="M198.7,35.5Q268.9,10.8 345.5,88.2"/><path d="M186.4,151.2Q257.7,103 342.5,57.1"/><path d="M200.5,34.6Q270.6,9.9 347.6,87.1"/><path d="M188.6,153.6Q259.6,105.2 345,59.1"/><path d="M202.3,33.8Q272.2,9 349.7,85.9"/><path d="M190.9,156.1Q261.6,107.6 347.6,61.1"/><path d="M204.1,32.9Q273.9,8.1 351.7,84.8"/><path d="M193.1,158.7Q263.6,110 350.1,63.2"/><path d="M205.8,32.1Q275.5,7.2 353.8,83.7"/><path d="M195.4,161.3Q265.6,112.4 352.7,65.3"/><path d="M207.5,31.2Q277.1,6.3 355.9,82.5"/><path d="M197.7,164Q267.6,115 355.4,67.5"/><path d="M209.3,30.4Q278.7,5.4 357.9,81.4"/><path d="M199.9,166.7Q269.6,117.6 358,69.8"/><path d="M211,29.5Q280.3,4.6 359.9,80.3"/><path d="M202.2,169.5Q271.6,120.3 360.6,72.1"/><path d="M212.7,28.7Q281.9,3.7 362,79.2"/><path d="M204.5,172.4Q273.6,123 363.3,74.5"/><path d="M214.3,27.8Q283.5,2.8 364,78.1"/><path d="M206.8,175.3Q275.6,125.8 366,77"/><path d="M216,27Q285,2 366,77"/></g>
<ellipse cx="60" cy="85" rx="2.8" ry="1.9" fill="#e60000" stroke="#701010" stroke-width="0.4"/>
<ellipse cx="206.8" cy="176.5" rx="2.8" ry="1.9" fill="#e60000" stroke="#701010" stroke-width="0.4"/>
<ellipse cx="215.5" cy="22" rx="2.8" ry="1.9" fill="#e60000" stroke="#701010" stroke-width="0.4"/>
<ellipse cx="211.7" cy="49.3" rx="2.8" ry="1.9" fill="#e60000" stroke="#701010" stroke-width="0.4"/>
<ellipse cx="211.7" cy="54.9" rx="2.8" ry="1.9" fill="#e60000" stroke="#701010" stroke-width="0.4"/>
<ellipse cx="366" cy="77" rx="2.8" ry="1.9" fill="#ffb4bc" stroke="#b07070" stroke-width="0.4"/>
<path d="M211.7,55L211.7,68" stroke="#222" stroke-width="0.5"/>
<g font-size="6.4" font-weight="bold" fill="#000" stroke="#000" stroke-width="0.35"><text x="51.2" y="38.1" text-anchor="end" textLength="9.4" lengthAdjust="spacingAndGlyphs">159</text><text x="53.8" y="61.4" text-anchor="end" textLength="9.4" lengthAdjust="spacingAndGlyphs">158</text><text x="56.5" y="84.8" text-anchor="end" textLength="9.4" lengthAdjust="spacingAndGlyphs">157</text><text x="59.1" y="108.6" text-anchor="end" textLength="9.4" lengthAdjust="spacingAndGlyphs">156</text><text x="61.8" y="132.1" text-anchor="end" textLength="9.4" lengthAdjust="spacingAndGlyphs">155</text><text x="65.3" y="167.5" text-anchor="end" textLength="11.7" lengthAdjust="spacingAndGlyphs">1.00</text><text x="99.9" y="183.2" text-anchor="end" textLength="11.7" lengthAdjust="spacingAndGlyphs">0.50</text><text x="134.4" y="198.8" text-anchor="end" textLength="11.7" lengthAdjust="spacingAndGlyphs">0.00</text><text x="168.9" y="214.5" text-anchor="end" textLength="13.7" lengthAdjust="spacingAndGlyphs">-0.50</text><text x="203.5" y="230.2" text-anchor="end" textLength="13.7" lengthAdjust="spacingAndGlyphs">-1.00</text><text x="210.4" y="230.4" textLength="13.7" lengthAdjust="spacingAndGlyphs">-1.00</text><text x="247.6" y="215.5" textLength="13.7" lengthAdjust="spacingAndGlyphs">-0.50</text><text x="284.8" y="200.5" textLength="11.7" lengthAdjust="spacingAndGlyphs">0.00</text><text x="321.9" y="185.6" textLength="11.7" lengthAdjust="spacingAndGlyphs">0.50</text><text x="359.1" y="170.7" textLength="11.7" lengthAdjust="spacingAndGlyphs">1.00</text></g>
<g font-size="9" fill="#111" stroke="#000" stroke-width="0.5"><text x="44.9" y="217.5" textLength="75.9" lengthAdjust="spacingAndGlyphs">B: Solid–liquid ratio</text><text x="278" y="220.6" textLength="111" lengthAdjust="spacingAndGlyphs" xml:space="preserve">A:  Ionic liquid concentration</text><text transform="translate(10.9,145) rotate(-90)" textLength="84" lengthAdjust="spacingAndGlyphs">Total Extraction Yield</text></g>
<text x="271.5" y="283.8" text-anchor="middle" font-family="'Liberation Serif',serif" font-size="20" fill="#000">(<tspan font-weight="bold">A</tspan>)</text>
</g>
<g id="pB">
<polygon points="473.3,164.8 582.2,228 767.4,184 648,133" fill="#ffff00"/>
<path d="M585,161Q610,168 649,172.4T755,179.3" fill="none" stroke="#48e878" stroke-width="0.7"/>
<path d="M547.4,205.7L704,198.9" fill="none" stroke="#48e878" stroke-width="0.7"/>
<path d="M473.3,164.8L648,133L767.4,184" fill="none" stroke="#555" stroke-width="0.5"/>
<path d="M507.9,26.2L514.8,125.9M680,16.8L678.4,115.2M553.9,20.1L559.1,118.4M714,25.5L709.2,127M600,14.1L603.3,110.9M748,34.2L740,138.8M646,8L648,133M782,43L767.4,184M461.8,32.2L646,8L782,43M464,57.5L646.4,31.8L779.2,69.9M466.2,82.8L646.8,55.7L776.4,96.8M468.4,108.2L647.1,79.6L773.6,123.8M470.6,133.4L647.5,103.4L770.9,150.6" fill="none" stroke="#3c3c3c" stroke-width="0.75"/>
<path d="M461.8,32.2L473.3,164.8L582.2,228L767.4,184" fill="none" stroke="#111" stroke-width="0.75"/>
<path d="M461.8,32.2l-1.6,0.4M464,57.5l-1.6,0.4M466.2,82.8l-1.6,0.4M468.4,108.2l-1.6,0.4M470.6,133.4l-1.6,0.4M473.3,164.8l-1.3,1.0M582.2,228l1.3,1.0M500.5,180.6l-1.3,1.0M628.5,217l1.3,1.0M527.8,196.4l-1.3,1.0M674.8,206l1.3,1.0M555,212.2l-1.3,1.0M721.1,195l1.3,1.0M582.2,228l-1.3,1.0M767.4,184l1.3,1.0" fill="none" stroke="#000" stroke-width="1.3"/>
<g fill="currentColor" stroke="currentColor" stroke-width="0.6"><polygon color="#be8100" points="636.4,18.7 642.7,18.8 651.7,15.1 645.4,15"/><polygon color="#b89000" points="627.5,22.3 633.8,22.4 642.7,18.8 636.4,18.7"/><polygon color="#d98c00" points="642.7,18.8 649.1,19.2 658,15.6 651.7,15.1"/><polygon color="#b39f00" points="618.5,25.9 624.8,25.9 633.8,22.4 627.5,22.3"/><polygon color="#d49e00" points="633.8,22.4 640.1,22.8 649.1,19.2 642.7,18.8"/><polygon color="#f59700" points="649.1,19.2 655.4,20 664.4,16.4 658,15.6"/><polygon color="#afad00" points="609.6,29.4 615.9,29.4 624.8,25.9 618.5,25.9"/><polygon color="#d0b000" points="624.8,25.9 631.1,26.4 640.1,22.8 633.8,22.4"/><polygon color="#f1ac00" points="640.1,22.8 646.4,23.6 655.4,20 649.1,19.2"/><polygon color="#ff9900" points="655.4,20 661.8,21.2 670.8,17.6 664.4,16.4"/><polygon color="#9fad00" points="600.6,32.8 606.9,32.8 615.9,29.4 609.6,29.4"/><polygon color="#cdc100" points="615.9,29.4 622.1,29.9 631.1,26.4 624.8,25.9"/><polygon color="#edc100" points="631.1,26.4 637.4,27.1 646.4,23.6 640.1,22.8"/><polygon color="#ffb100" points="646.4,23.6 652.8,24.7 661.8,21.2 655.4,20"/><polygon color="#ff9800" points="661.8,21.2 668.2,22.7 677.3,19.1 670.8,17.6"/><polygon color="#8fad00" points="591.7,36.1 597.9,36.2 606.9,32.8 600.6,32.8"/><polygon color="#c6cc00" points="606.9,32.8 613.2,33.3 622.1,29.9 615.9,29.4"/><polygon color="#ecd500" points="622.1,29.9 628.4,30.6 637.4,27.1 631.1,26.4"/><polygon color="#ffc900" points="637.4,27.1 643.8,28.3 652.8,24.7 646.4,23.6"/><polygon color="#ffaf00" points="652.8,24.7 659.2,26.2 668.2,22.7 661.8,21.2"/><polygon color="#ff9900" points="668.2,22.7 674.7,24.5 683.8,21 677.3,19.1"/><polygon color="#81ad00" points="582.8,39.3 589,39.5 597.9,36.2 591.7,36.1"/><polygon color="#b4cc00" points="597.9,36.2 604.2,36.7 613.2,33.3 606.9,32.8"/><polygon color="#ebe900" points="613.2,33.3 619.4,34.1 628.4,30.6 622.1,29.9"/><polygon color="#ffdf00" points="628.4,30.6 634.8,31.8 643.8,28.3 637.4,27.1"/><polygon color="#ffc500" points="643.8,28.3 650.1,29.8 659.2,26.2 652.8,24.7"/><polygon color="#ffaf00" points="659.2,26.2 665.6,28.1 674.7,24.5 668.2,22.7"/><polygon color="#ff9d00" points="674.7,24.5 681.2,26.7 690.3,23.2 683.8,21"/><polygon color="#75af00" points="573.8,42.4 580,42.7 589,39.5 582.8,39.3"/><polygon color="#a4cd00" points="589,39.5 595.2,40.1 604.2,36.7 597.9,36.2"/><polygon color="#d9eb00" points="604.2,36.7 610.4,37.6 619.4,34.1 613.2,33.3"/><polygon color="#fff500" points="619.4,34.1 625.7,35.3 634.8,31.8 628.4,30.6"/><polygon color="#ffdb00" points="634.8,31.8 641.1,33.3 650.1,29.8 643.8,28.3"/><polygon color="#ffc500" points="650.1,29.8 656.5,31.6 665.6,28.1 659.2,26.2"/><polygon color="#ffb200" points="665.6,28.1 672,30.3 681.2,26.7 674.7,24.5"/><polygon color="#ffa300" points="681.2,26.7 687.7,29.3 696.8,25.8 690.3,23.2"/><polygon color="#6ab300" points="564.9,45.5 571.1,45.9 580,42.7 573.8,42.4"/><polygon color="#96d000" points="580,42.7 586.2,43.4 595.2,40.1 589,39.5"/><polygon color="#c7ed00" points="595.2,40.1 601.4,41 610.4,37.6 604.2,36.7"/><polygon color="#f2ff00" points="610.4,37.6 616.7,38.8 625.7,35.3 619.4,34.1"/><polygon color="#fff100" points="625.7,35.3 632,36.9 641.1,33.3 634.8,31.8"/><polygon color="#ffda00" points="641.1,33.3 647.4,35.2 656.5,31.6 650.1,29.8"/><polygon color="#ffc700" points="656.5,31.6 662.9,33.8 672,30.3 665.6,28.1"/><polygon color="#ffb800" points="672,30.3 678.5,32.9 687.7,29.3 681.2,26.7"/><polygon color="#ffad00" points="687.7,29.3 694.2,32.2 703.4,28.7 696.8,25.8"/><polygon color="#61b800" points="556,48.5 562.1,49 571.1,45.9 564.9,45.5"/><polygon color="#89d400" points="571.1,45.9 577.2,46.7 586.2,43.4 580,42.7"/><polygon color="#b7f000" points="586.2,43.4 592.4,44.4 601.4,41 595.2,40.1"/><polygon color="#deff00" points="601.4,41 607.6,42.3 616.7,38.8 610.4,37.6"/><polygon color="#f7ff00" points="616.7,38.8 622.9,40.4 632,36.9 625.7,35.3"/><polygon color="#ffef00" points="632,36.9 638.3,38.8 647.4,35.2 641.1,33.3"/><polygon color="#ffdc00" points="647.4,35.2 653.8,37.4 662.9,33.8 656.5,31.6"/><polygon color="#ffcc00" points="662.9,33.8 669.3,36.4 678.5,32.9 672,30.3"/><polygon color="#ffc000" points="678.5,32.9 685,35.8 694.2,32.2 687.7,29.3"/><polygon color="#ffb800" points="694.2,32.2 700.7,35.5 710,32 703.4,28.7"/><polygon color="#58bf00" points="547.1,51.4 553.1,52.1 562.1,49 556,48.5"/><polygon color="#7dd900" points="562.1,49 568.2,49.9 577.2,46.7 571.1,45.9"/><polygon color="#a8f400" points="577.2,46.7 583.3,47.8 592.4,44.4 586.2,43.4"/><polygon color="#caff00" points="592.4,44.4 598.6,45.8 607.6,42.3 601.4,41"/><polygon color="#e3ff00" points="607.6,42.3 613.8,43.9 622.9,40.4 616.7,38.8"/><polygon color="#faff00" points="622.9,40.4 629.2,42.3 638.3,38.8 632,36.9"/><polygon color="#fff000" points="638.3,38.8 644.6,41 653.8,37.4 647.4,35.2"/><polygon color="#ffe000" points="653.8,37.4 660.1,40 669.3,36.4 662.9,33.8"/><polygon color="#ffd300" points="669.3,36.4 675.8,39.4 685,35.8 678.5,32.9"/><polygon color="#ffcb00" points="685,35.8 691.5,39.1 700.7,35.5 694.2,32.2"/><polygon color="#ffc700" points="700.7,35.5 707.3,39.2 716.6,35.6 710,32"/><polygon color="#50c700" points="538.2,54.2 544.2,55.1 553.1,52.1 547.1,51.4"/><polygon color="#72e000" points="553.1,52.1 559.2,53.1 568.2,49.9 562.1,49"/><polygon color="#9afa00" points="568.2,49.9 574.3,51.1 583.3,47.8 577.2,46.7"/><polygon color="#b7ff00" points="583.3,47.8 589.5,49.2 598.6,45.8 592.4,44.4"/><polygon color="#d0ff00" points="598.6,45.8 604.7,47.5 613.8,43.9 607.6,42.3"/><polygon color="#e6ff00" points="613.8,43.9 620.1,45.9 629.2,42.3 622.9,40.4"/><polygon color="#f9ff00" points="629.2,42.3 635.5,44.7 644.6,41 638.3,38.8"/><polygon color="#fff300" points="644.6,41 650.9,43.7 660.1,40 653.8,37.4"/><polygon color="#ffe600" points="660.1,40 666.5,43 675.8,39.4 669.3,36.4"/><polygon color="#ffdd00" points="675.8,39.4 682.2,42.7 691.5,39.1 685,35.8"/><polygon color="#ffd800" points="691.5,39.1 698,42.7 707.3,39.2 700.7,35.5"/><polygon color="#ffd700" points="707.3,39.2 713.9,43.1 723.3,39.6 716.6,35.6"/><polygon color="#49d100" points="529.3,57 535.2,58 544.2,55.1 538.2,54.2"/><polygon color="#68e800" points="544.2,55.1 550.2,56.3 559.2,53.1 553.1,52.1"/><polygon color="#8cff00" points="559.2,53.1 565.3,54.4 574.3,51.1 568.2,49.9"/><polygon color="#a5ff00" points="574.3,51.1 580.4,52.7 589.5,49.2 583.3,47.8"/><polygon color="#bdff00" points="589.5,49.2 595.6,51 604.7,47.5 598.6,45.8"/><polygon color="#d2ff00" points="604.7,47.5 610.9,49.5 620.1,45.9 613.8,43.9"/><polygon color="#e6ff00" points="620.1,45.9 626.3,48.3 635.5,44.7 629.2,42.3"/><polygon color="#f6ff00" points="635.5,44.7 641.7,47.3 650.9,43.7 644.6,41"/><polygon color="#fff900" points="650.9,43.7 657.3,46.6 666.5,43 660.1,40"/><polygon color="#fff000" points="666.5,43 672.9,46.3 682.2,42.7 675.8,39.4"/><polygon color="#ffea00" points="682.2,42.7 688.7,46.3 698,42.7 691.5,39.1"/><polygon color="#ffe800" points="698,42.7 704.6,46.7 713.9,43.1 707.3,39.2"/><polygon color="#ffeb00" points="713.9,43.1 720.6,47.5 730,43.9 723.3,39.6"/><polygon color="#42dc00" points="520.4,59.7 526.3,60.9 535.2,58 529.3,57"/><polygon color="#5ff200" points="535.2,58 541.2,59.4 550.2,56.3 544.2,55.1"/><polygon color="#7cff00" points="550.2,56.3 556.2,57.7 565.3,54.4 559.2,53.1"/><polygon color="#93ff00" points="565.3,54.4 571.3,56.1 580.4,52.7 574.3,51.1"/><polygon color="#aaff00" points="580.4,52.7 586.5,54.6 595.6,51 589.5,49.2"/><polygon color="#bfff00" points="595.6,51 601.8,53.2 610.9,49.5 604.7,47.5"/><polygon color="#d3ff00" points="610.9,49.5 617.1,52 626.3,48.3 620.1,45.9"/><polygon color="#e3ff00" points="626.3,48.3 632.5,51 641.7,47.3 635.5,44.7"/><polygon color="#f1ff00" points="641.7,47.3 648,50.3 657.3,46.6 650.9,43.7"/><polygon color="#fbff00" points="657.3,46.6 663.6,50 672.9,46.3 666.5,43"/><polygon color="#fffc00" points="672.9,46.3 679.3,50 688.7,46.3 682.2,42.7"/><polygon color="#fffa00" points="688.7,46.3 695.2,50.4 704.6,46.7 698,42.7"/><polygon color="#fffb00" points="704.6,46.7 711.1,51.1 720.6,47.5 713.9,43.1"/><polygon color="#fcff00" points="720.6,47.5 727.3,52.2 736.8,48.6 730,43.9"/><polygon color="#3ce900" points="511.4,62.2 517.3,63.7 526.3,60.9 520.4,59.7"/><polygon color="#56fc00" points="526.3,60.9 532.2,62.4 541.2,59.4 535.2,58"/><polygon color="#6cff00" points="541.2,59.4 547.1,61 556.2,57.7 550.2,56.3"/><polygon color="#82ff00" points="556.2,57.7 562.2,59.5 571.3,56.1 565.3,54.4"/><polygon color="#98ff00" points="571.3,56.1 577.4,58.1 586.5,54.6 580.4,52.7"/><polygon color="#adff00" points="586.5,54.6 592.6,56.8 601.8,53.2 595.6,51"/><polygon color="#c0ff00" points="601.8,53.2 607.9,55.6 617.1,52 610.9,49.5"/><polygon color="#d0ff00" points="617.1,52 623.3,54.7 632.5,51 626.3,48.3"/><polygon color="#deff00" points="632.5,51 638.8,54.1 648,50.3 641.7,47.3"/><polygon color="#e8ff00" points="648,50.3 654.3,53.7 663.6,50 657.3,46.6"/><polygon color="#efff00" points="663.6,50 670,53.7 679.3,50 672.9,46.3"/><polygon color="#f2ff00" points="679.3,50 685.8,54.1 695.2,50.4 688.7,46.3"/><polygon color="#f1ff00" points="695.2,50.4 701.7,54.8 711.1,51.1 704.6,46.7"/><polygon color="#ecff00" points="711.1,51.1 717.7,55.8 727.3,52.2 720.6,47.5"/><polygon color="#e3ff00" points="727.3,52.2 734,57.2 743.6,53.6 736.8,48.6"/><polygon color="#36f700" points="502.6,64.8 508.3,66.5 517.3,63.7 511.4,62.2"/><polygon color="#4aff00" points="517.3,63.7 523.2,65.4 532.2,62.4 526.3,60.9"/><polygon color="#5eff00" points="532.2,62.4 538.1,64.2 547.1,61 541.2,59.4"/><polygon color="#72ff00" points="547.1,61 553.1,62.9 562.2,59.5 556.2,57.7"/><polygon color="#87ff00" points="562.2,59.5 568.2,61.6 577.4,58.1 571.3,56.1"/><polygon color="#9bff00" points="577.4,58.1 583.4,60.4 592.6,56.8 586.5,54.6"/><polygon color="#adff00" points="592.6,56.8 598.7,59.3 607.9,55.6 601.8,53.2"/><polygon color="#bdff00" points="607.9,55.6 614.1,58.5 623.3,54.7 617.1,52"/><polygon color="#cbff00" points="623.3,54.7 629.5,57.8 638.8,54.1 632.5,51"/><polygon color="#d6ff00" points="638.8,54.1 645,57.5 654.3,53.7 648,50.3"/><polygon color="#ddff00" points="654.3,53.7 660.6,57.5 670,53.7 663.6,50"/><polygon color="#e1ff00" points="670,53.7 676.3,57.8 685.8,54.1 679.3,50"/><polygon color="#e0ff00" points="685.8,54.1 692.2,58.5 701.7,54.8 695.2,50.4"/><polygon color="#dcff00" points="701.7,54.8 708.2,59.5 717.7,55.8 711.1,51.1"/><polygon color="#d4ff00" points="717.7,55.8 724.3,60.9 734,57.2 727.3,52.2"/><polygon color="#c8ff00" points="734,57.2 740.7,62.7 750.4,59 743.6,53.6"/><polygon color="#30ff00" points="493.7,67.2 499.4,69.1 508.3,66.5 502.6,64.8"/><polygon color="#3fff00" points="508.3,66.5 514.1,68.4 523.2,65.4 517.3,63.7"/><polygon color="#50ff00" points="523.2,65.4 529,67.4 538.1,64.2 532.2,62.4"/><polygon color="#63ff00" points="538.1,64.2 544,66.3 553.1,62.9 547.1,61"/><polygon color="#76ff00" points="553.1,62.9 559.1,65.2 568.2,61.6 562.2,59.5"/><polygon color="#89ff00" points="568.2,61.6 574.2,64.1 583.4,60.4 577.4,58.1"/><polygon color="#9bff00" points="583.4,60.4 589.5,63.1 598.7,59.3 592.6,56.8"/><polygon color="#abff00" points="598.7,59.3 604.8,62.2 614.1,58.5 607.9,55.6"/><polygon color="#b8ff00" points="614.1,58.5 620.2,61.6 629.5,57.8 623.3,54.7"/><polygon color="#c3ff00" points="629.5,57.8 635.7,61.3 645,57.5 638.8,54.1"/><polygon color="#cbff00" points="645,57.5 651.3,61.3 660.6,57.5 654.3,53.7"/><polygon color="#cfff00" points="660.6,57.5 666.9,61.6 676.3,57.8 670,53.7"/><polygon color="#d0ff00" points="676.3,57.8 682.7,62.2 692.2,58.5 685.8,54.1"/><polygon color="#ccff00" points="692.2,58.5 698.6,63.2 708.2,59.5 701.7,54.8"/><polygon color="#c5ff00" points="708.2,59.5 714.7,64.6 724.3,60.9 717.7,55.8"/><polygon color="#b9ff00" points="724.3,60.9 731,66.4 740.7,62.7 734,57.2"/><polygon color="#aaff00" points="740.7,62.7 747.4,68.4 757.2,64.7 750.4,59"/><polygon color="#28ff00" points="484.8,69.5 490.4,71.8 499.4,69.1 493.7,67.2"/><polygon color="#35ff00" points="499.4,69.1 505.1,71.3 514.1,68.4 508.3,66.5"/><polygon color="#44ff00" points="514.1,68.4 519.9,70.6 529,67.4 523.2,65.4"/><polygon color="#54ff00" points="529,67.4 534.9,69.7 544,66.3 538.1,64.2"/><polygon color="#66ff00" points="544,66.3 549.9,68.7 559.1,65.2 553.1,62.9"/><polygon color="#78ff00" points="559.1,65.2 565,67.7 574.2,64.1 568.2,61.6"/><polygon color="#89ff00" points="574.2,64.1 580.2,66.8 589.5,63.1 583.4,60.4"/><polygon color="#98ff00" points="589.5,63.1 595.5,66 604.8,62.2 598.7,59.3"/><polygon color="#a6ff00" points="604.8,62.2 610.9,65.4 620.2,61.6 614.1,58.5"/><polygon color="#b1ff00" points="620.2,61.6 626.3,65.1 635.7,61.3 629.5,57.8"/><polygon color="#b9ff00" points="635.7,61.3 641.9,65.1 651.3,61.3 645,57.5"/><polygon color="#beff00" points="651.3,61.3 657.5,65.4 666.9,61.6 660.6,57.5"/><polygon color="#bfff00" points="666.9,61.6 673.2,66 682.7,62.2 676.3,57.8"/><polygon color="#bcff00" points="682.7,62.2 689.1,67 698.6,63.2 692.2,58.5"/><polygon color="#b5ff00" points="698.6,63.2 705.1,68.4 714.7,64.6 708.2,59.5"/><polygon color="#abff00" points="714.7,64.6 721.3,70.1 731,66.4 724.3,60.9"/><polygon color="#9cff00" points="731,66.4 737.6,72.2 747.4,68.4 740.7,62.7"/><polygon color="#8aff00" points="747.4,68.4 754.2,74.5 764.1,70.8 757.2,64.7"/><polygon color="#22ff00" points="475.9,71.8 481.5,74.3 490.4,71.8 484.8,69.5"/><polygon color="#2bff00" points="490.4,71.8 496.1,74.2 505.1,71.3 499.4,69.1"/><polygon color="#38ff00" points="505.1,71.3 510.9,73.7 519.9,70.6 514.1,68.4"/><polygon color="#46ff00" points="519.9,70.6 525.8,73.1 534.9,69.7 529,67.4"/><polygon color="#56ff00" points="534.9,69.7 540.7,72.2 549.9,68.7 544,66.3"/><polygon color="#67ff00" points="549.9,68.7 555.8,71.4 565,67.7 559.1,65.2"/><polygon color="#77ff00" points="565,67.7 571,70.5 580.2,66.8 574.2,64.1"/><polygon color="#86ff00" points="580.2,66.8 586.3,69.8 595.5,66 589.5,63.1"/><polygon color="#94ff00" points="595.5,66 601.6,69.3 610.9,65.4 604.8,62.2"/><polygon color="#9fff00" points="610.9,65.4 617,69 626.3,65.1 620.2,61.6"/><polygon color="#a7ff00" points="626.3,65.1 632.5,69 641.9,65.1 635.7,61.3"/><polygon color="#acff00" points="641.9,65.1 648.1,69.2 657.5,65.4 651.3,61.3"/><polygon color="#aeff00" points="657.5,65.4 663.8,69.9 673.2,66 666.9,61.6"/><polygon color="#abff00" points="673.2,66 679.6,70.8 689.1,67 682.7,62.2"/><polygon color="#a5ff00" points="689.1,67 695.5,72.2 705.1,68.4 698.6,63.2"/><polygon color="#9bff00" points="705.1,68.4 711.6,73.9 721.3,70.1 714.7,64.6"/><polygon color="#8eff00" points="721.3,70.1 727.9,75.9 737.6,72.2 731,66.4"/><polygon color="#7cff00" points="737.6,72.2 744.3,78.3 754.2,74.5 747.4,68.4"/><polygon color="#67ff00" points="754.2,74.5 761,81 771,77.2 764.1,70.8"/><polygon color="#1eff00" points="467,74 472.5,76.8 481.5,74.3 475.9,71.8"/><polygon color="#23ff00" points="481.5,74.3 487.1,77 496.1,74.2 490.4,71.8"/><polygon color="#2dff00" points="496.1,74.2 501.8,76.9 510.9,73.7 505.1,71.3"/><polygon color="#39ff00" points="510.9,73.7 516.6,76.4 525.8,73.1 519.9,70.6"/><polygon color="#48ff00" points="525.8,73.1 531.6,75.8 540.7,72.2 534.9,69.7"/><polygon color="#57ff00" points="540.7,72.2 546.6,75 555.8,71.4 549.9,68.7"/><polygon color="#66ff00" points="555.8,71.4 561.8,74.3 571,70.5 565,67.7"/><polygon color="#74ff00" points="571,70.5 577,73.7 586.3,69.8 580.2,66.8"/><polygon color="#81ff00" points="586.3,69.8 592.3,73.2 601.6,69.3 595.5,66"/><polygon color="#8cff00" points="601.6,69.3 607.6,72.9 617,69 610.9,65.4"/><polygon color="#95ff00" points="617,69 623.1,72.9 632.5,69 626.3,65.1"/><polygon color="#9aff00" points="632.5,69 638.6,73.2 648.1,69.2 641.9,65.1"/><polygon color="#9cff00" points="648.1,69.2 654.3,73.8 663.8,69.9 657.5,65.4"/><polygon color="#9bff00" points="663.8,69.9 670,74.7 679.6,70.8 673.2,66"/><polygon color="#96ff00" points="679.6,70.8 685.9,76 695.5,72.2 689.1,67"/><polygon color="#8cff00" points="695.5,72.2 701.9,77.7 711.6,73.9 705.1,68.4"/><polygon color="#7fff00" points="711.6,73.9 718.1,79.7 727.9,75.9 721.3,70.1"/><polygon color="#6eff00" points="727.9,75.9 734.4,82.1 744.3,78.3 737.6,72.2"/><polygon color="#59ff00" points="744.3,78.3 751,84.8 761,81 754.2,74.5"/><polygon color="#41ff00" points="761,81 767.9,87.9 778,84 771,77.2"/><polygon color="#1cff00" points="472.5,76.8 478,79.8 487.1,77 481.5,74.3"/><polygon color="#23ff00" points="487.1,77 492.7,80 501.8,76.9 496.1,74.2"/><polygon color="#2dff00" points="501.8,76.9 507.5,79.7 516.6,76.4 510.9,73.7"/><polygon color="#39ff00" points="516.6,76.4 522.4,79.3 531.6,75.8 525.8,73.1"/><polygon color="#47ff00" points="531.6,75.8 537.4,78.7 546.6,75 540.7,72.2"/><polygon color="#55ff00" points="546.6,75 552.5,78.1 561.8,74.3 555.8,71.4"/><polygon color="#63ff00" points="561.8,74.3 567.7,77.6 577,73.7 571,70.5"/><polygon color="#6fff00" points="577,73.7 582.9,77.1 592.3,73.2 586.3,69.8"/><polygon color="#7aff00" points="592.3,73.2 598.3,76.9 607.6,72.9 601.6,69.3"/><polygon color="#83ff00" points="607.6,72.9 613.7,76.9 623.1,72.9 617,69"/><polygon color="#88ff00" points="623.1,72.9 629.2,77.1 638.6,73.2 632.5,69"/><polygon color="#8bff00" points="638.6,73.2 644.8,77.7 654.3,73.8 648.1,69.2"/><polygon color="#8aff00" points="654.3,73.8 660.5,78.6 670,74.7 663.8,69.9"/><polygon color="#85ff00" points="670,74.7 676.3,79.9 685.9,76 679.6,70.8"/><polygon color="#7dff00" points="685.9,76 692.2,81.5 701.9,77.7 695.5,72.2"/><polygon color="#70ff00" points="701.9,77.7 708.3,83.6 718.1,79.7 711.6,73.9"/><polygon color="#60ff00" points="718.1,79.7 724.6,86 734.4,82.1 727.9,75.9"/><polygon color="#4cff00" points="734.4,82.1 741.1,88.7 751,84.8 744.3,78.3"/><polygon color="#34ff00" points="751,84.8 757.8,91.7 767.9,87.9 761,81"/><polygon color="#1aff00" points="478,79.8 483.6,83 492.7,80 487.1,77"/><polygon color="#21ff00" points="492.7,80 498.3,83.1 507.5,79.7 501.8,76.9"/><polygon color="#2bff00" points="507.5,79.7 513.2,82.8 522.4,79.3 516.6,76.4"/><polygon color="#37ff00" points="522.4,79.3 528.1,82.4 537.4,78.7 531.6,75.8"/><polygon color="#44ff00" points="537.4,78.7 543.2,81.9 552.5,78.1 546.6,75"/><polygon color="#51ff00" points="552.5,78.1 558.4,81.5 567.7,77.6 561.8,74.3"/><polygon color="#5dff00" points="567.7,77.6 573.6,81.1 582.9,77.1 577,73.7"/><polygon color="#68ff00" points="582.9,77.1 588.9,80.9 598.3,76.9 592.3,73.2"/><polygon color="#70ff00" points="598.3,76.9 604.3,80.9 613.7,76.9 607.6,72.9"/><polygon color="#76ff00" points="613.7,76.9 619.8,81.1 629.2,77.1 623.1,72.9"/><polygon color="#79ff00" points="629.2,77.1 635.3,81.7 644.8,77.7 638.6,73.2"/><polygon color="#79ff00" points="644.8,77.7 650.9,82.6 660.5,78.6 654.3,73.8"/><polygon color="#75ff00" points="660.5,78.6 666.7,83.8 676.3,79.9 670,74.7"/><polygon color="#6dff00" points="676.3,79.9 682.6,85.4 692.2,81.5 685.9,76"/><polygon color="#62ff00" points="692.2,81.5 698.6,87.4 708.3,83.6 701.9,77.7"/><polygon color="#52ff00" points="708.3,83.6 714.7,89.8 724.6,86 718.1,79.7"/><polygon color="#3eff00" points="724.6,86 731.1,92.5 741.1,88.7 734.4,82.1"/><polygon color="#27ff00" points="741.1,88.7 747.7,95.6 757.8,91.7 751,84.8"/><polygon color="#16ff00" points="483.6,83 489.2,86.4 498.3,83.1 492.7,80"/><polygon color="#1eff00" points="498.3,83.1 504,86.3 513.2,82.8 507.5,79.7"/><polygon color="#28ff00" points="513.2,82.8 518.9,86.1 528.1,82.4 522.4,79.3"/><polygon color="#34ff00" points="528.1,82.4 533.9,85.8 543.2,81.9 537.4,78.7"/><polygon color="#40ff00" points="543.2,81.9 549,85.4 558.4,81.5 552.5,78.1"/><polygon color="#4bff00" points="558.4,81.5 564.2,85.1 573.6,81.1 567.7,77.6"/><polygon color="#56ff00" points="573.6,81.1 579.5,84.9 588.9,80.9 582.9,77.1"/><polygon color="#5eff00" points="588.9,80.9 594.9,84.9 604.3,80.9 598.3,76.9"/><polygon color="#64ff00" points="604.3,80.9 610.3,85.2 619.8,81.1 613.7,76.9"/><polygon color="#68ff00" points="619.8,81.1 625.8,85.7 635.3,81.7 629.2,77.1"/><polygon color="#68ff00" points="635.3,81.7 641.4,86.6 650.9,82.6 644.8,77.7"/><polygon color="#65ff00" points="650.9,82.6 657.1,87.8 666.7,83.8 660.5,78.6"/><polygon color="#5eff00" points="666.7,83.8 672.9,89.4 682.6,85.4 676.3,79.9"/><polygon color="#53ff00" points="682.6,85.4 688.8,91.4 698.6,87.4 692.2,81.5"/><polygon color="#44ff00" points="698.6,87.4 704.9,93.7 714.7,89.8 708.3,83.6"/><polygon color="#31ff00" points="714.7,89.8 721.2,96.4 731.1,92.5 724.6,86"/><polygon color="#1aff00" points="731.1,92.5 737.6,99.5 747.7,95.6 741.1,88.7"/><polygon color="#11ff00" points="489.2,86.4 494.8,89.9 504,86.3 498.3,83.1"/><polygon color="#1aff00" points="504,86.3 509.6,89.8 518.9,86.1 513.2,82.8"/><polygon color="#24ff00" points="518.9,86.1 524.6,89.6 533.9,85.8 528.1,82.4"/><polygon color="#2fff00" points="533.9,85.8 539.7,89.4 549,85.4 543.2,81.9"/><polygon color="#39ff00" points="549,85.4 554.9,89.1 564.2,85.1 558.4,81.5"/><polygon color="#43ff00" points="564.2,85.1 570.1,89 579.5,84.9 573.6,81.1"/><polygon color="#4cff00" points="579.5,84.9 585.4,89 594.9,84.9 588.9,80.9"/><polygon color="#52ff00" points="594.9,84.9 600.8,89.3 610.3,85.2 604.3,80.9"/><polygon color="#56ff00" points="610.3,85.2 616.3,89.8 625.8,85.7 619.8,81.1"/><polygon color="#57ff00" points="625.8,85.7 631.9,90.6 641.4,86.6 635.3,81.7"/><polygon color="#54ff00" points="641.4,86.6 647.5,91.8 657.1,87.8 650.9,82.6"/><polygon color="#4eff00" points="657.1,87.8 663.2,93.4 672.9,89.4 666.7,83.8"/><polygon color="#43ff00" points="672.9,89.4 679.1,95.3 688.8,91.4 682.6,85.4"/><polygon color="#35ff00" points="688.8,91.4 695.1,97.6 704.9,93.7 698.6,87.4"/><polygon color="#23ff00" points="704.9,93.7 711.3,100.3 721.2,96.4 714.7,89.8"/><polygon color="#0dff00" points="721.2,96.4 727.6,103.4 737.6,99.5 731.1,92.5"/><polygon color="#0cff00" points="494.8,89.9 500.4,93.6 509.6,89.8 504,86.3"/><polygon color="#14ff00" points="509.6,89.8 515.3,93.5 524.6,89.6 518.9,86.1"/><polygon color="#1eff00" points="524.6,89.6 530.4,93.4 539.7,89.4 533.9,85.8"/><polygon color="#28ff00" points="539.7,89.4 545.5,93.2 554.9,89.1 549,85.4"/><polygon color="#31ff00" points="554.9,89.1 560.7,93.1 570.1,89 564.2,85.1"/><polygon color="#3aff00" points="570.1,89 576,93.2 585.4,89 579.5,84.9"/><polygon color="#40ff00" points="585.4,89 591.4,93.4 600.8,89.3 594.9,84.9"/><polygon color="#44ff00" points="600.8,89.3 606.8,93.9 616.3,89.8 610.3,85.2"/><polygon color="#45ff00" points="616.3,89.8 622.3,94.7 631.9,90.6 625.8,85.7"/><polygon color="#43ff00" points="631.9,90.6 637.9,95.9 647.5,91.8 641.4,86.6"/><polygon color="#3eff00" points="647.5,91.8 653.6,97.4 663.2,93.4 657.1,87.8"/><polygon color="#34ff00" points="663.2,93.4 669.4,99.3 679.1,95.3 672.9,89.4"/><polygon color="#27ff00" points="679.1,95.3 685.3,101.6 695.1,97.6 688.8,91.4"/><polygon color="#15ff00" points="695.1,97.6 701.4,104.2 711.3,100.3 704.9,93.7"/><polygon color="#00ff00" points="711.3,100.3 717.6,107.3 727.6,103.4 721.2,96.4"/><polygon color="#05ff00" points="500.4,93.6 506,97.4 515.3,93.5 509.6,89.8"/><polygon color="#0dff00" points="515.3,93.5 521,97.4 530.4,93.4 524.6,89.6"/><polygon color="#16ff00" points="530.4,93.4 536.1,97.3 545.5,93.2 539.7,89.4"/><polygon color="#1fff00" points="545.5,93.2 551.3,97.3 560.7,93.1 554.9,89.1"/><polygon color="#27ff00" points="560.7,93.1 566.6,97.4 576,93.2 570.1,89"/><polygon color="#2eff00" points="576,93.2 581.9,97.6 591.4,93.4 585.4,89"/><polygon color="#32ff00" points="591.4,93.4 597.3,98.1 606.8,93.9 600.8,89.3"/><polygon color="#34ff00" points="606.8,93.9 612.8,98.9 622.3,94.7 616.3,89.8"/><polygon color="#32ff00" points="622.3,94.7 628.3,100 637.9,95.9 631.9,90.6"/><polygon color="#2dff00" points="637.9,95.9 644,101.4 653.6,97.4 647.5,91.8"/><polygon color="#25ff00" points="653.6,97.4 659.7,103.3 669.4,99.3 663.2,93.4"/><polygon color="#18ff00" points="669.4,99.3 675.6,105.5 685.3,101.6 679.1,95.3"/><polygon color="#07ff00" points="685.3,101.6 691.5,108.2 701.4,104.2 695.1,97.6"/><polygon color="#00ff0d" points="701.4,104.2 707.7,111.2 717.6,107.3 711.3,100.3"/><polygon color="#00ff03" points="506,97.4 511.6,101.4 521,97.4 515.3,93.5"/><polygon color="#05ff00" points="521,97.4 526.7,101.5 536.1,97.3 530.4,93.4"/><polygon color="#0dff00" points="536.1,97.3 541.9,101.5 551.3,97.3 545.5,93.2"/><polygon color="#15ff00" points="551.3,97.3 557.1,101.6 566.6,97.4 560.7,93.1"/><polygon color="#1bff00" points="566.6,97.4 572.4,101.8 581.9,97.6 576,93.2"/><polygon color="#20ff00" points="581.9,97.6 587.8,102.3 597.3,98.1 591.4,93.4"/><polygon color="#22ff00" points="597.3,98.1 603.2,103.1 612.8,98.9 606.8,93.9"/><polygon color="#21ff00" points="612.8,98.9 618.7,104.1 628.3,100 622.3,94.7"/><polygon color="#1dff00" points="628.3,100 634.3,105.5 644,101.4 637.9,95.9"/><polygon color="#15ff00" points="644,101.4 650,107.3 659.7,103.3 653.6,97.4"/><polygon color="#09ff00" points="659.7,103.3 665.8,109.5 675.6,105.5 669.4,99.3"/><polygon color="#00ff06" points="675.6,105.5 681.7,112.1 691.5,108.2 685.3,101.6"/><polygon color="#00ff1a" points="691.5,108.2 697.8,115.1 707.7,111.2 701.4,104.2"/><polygon color="#00ff0c" points="511.6,101.4 517.3,105.6 526.7,101.5 521,97.4"/><polygon color="#00ff04" points="526.7,101.5 532.4,105.7 541.9,101.5 536.1,97.3"/><polygon color="#02ff00" points="541.9,101.5 547.7,105.9 557.1,101.6 551.3,97.3"/><polygon color="#09ff00" points="557.1,101.6 562.9,106.1 572.4,101.8 566.6,97.4"/><polygon color="#0eff00" points="572.4,101.8 578.3,106.6 587.8,102.3 581.9,97.6"/><polygon color="#10ff00" points="587.8,102.3 593.7,107.3 603.2,103.1 597.3,98.1"/><polygon color="#10ff00" points="603.2,103.1 609.2,108.3 618.7,104.1 612.8,98.9"/><polygon color="#0cff00" points="618.7,104.1 624.7,109.7 634.3,105.5 628.3,100"/><polygon color="#05ff00" points="634.3,105.5 640.3,111.4 650,107.3 644,101.4"/><polygon color="#00ff05" points="650,107.3 656.1,113.5 665.8,109.5 659.7,103.3"/><polygon color="#00ff14" points="665.8,109.5 671.9,116.1 681.7,112.1 675.6,105.5"/><polygon color="#00ff27" points="681.7,112.1 687.9,119.1 697.8,115.1 691.5,108.2"/><polygon color="#00ff16" points="517.3,105.6 523,110 532.4,105.7 526.7,101.5"/><polygon color="#00ff0f" points="532.4,105.7 538.2,110.2 547.7,105.9 541.9,101.5"/><polygon color="#00ff09" points="547.7,105.9 553.4,110.4 562.9,106.1 557.1,101.6"/><polygon color="#00ff04" points="562.9,106.1 568.8,110.9 578.3,106.6 572.4,101.8"/><polygon color="#00ff01" points="578.3,106.6 584.1,111.6 593.7,107.3 587.8,102.3"/><polygon color="#00ff01" points="593.7,107.3 599.6,112.5 609.2,108.3 603.2,103.1"/><polygon color="#00ff03" points="609.2,108.3 615.1,113.9 624.7,109.7 618.7,104.1"/><polygon color="#00ff0a" points="624.7,109.7 630.7,115.5 640.3,111.4 634.3,105.5"/><polygon color="#00ff14" points="640.3,111.4 646.3,117.6 656.1,113.5 650,107.3"/><polygon color="#00ff22" points="656.1,113.5 662.1,120.1 671.9,116.1 665.8,109.5"/><polygon color="#00ff35" points="671.9,116.1 678,123 687.9,119.1 681.7,112.1"/><polygon color="#00ff22" points="523,110 528.7,114.5 538.2,110.2 532.4,105.7"/><polygon color="#00ff1b" points="538.2,110.2 543.9,114.8 553.4,110.4 547.7,105.9"/><polygon color="#00ff16" points="553.4,110.4 559.2,115.3 568.8,110.9 562.9,106.1"/><polygon color="#00ff13" points="568.8,110.9 574.6,115.9 584.1,111.6 578.3,106.6"/><polygon color="#00ff12" points="584.1,111.6 590,116.8 599.6,112.5 593.7,107.3"/><polygon color="#00ff14" points="599.6,112.5 605.5,118.1 615.1,113.9 609.2,108.3"/><polygon color="#00ff1a" points="615.1,113.9 621,119.7 630.7,115.5 624.7,109.7"/><polygon color="#00ff23" points="630.7,115.5 636.6,121.7 646.3,117.6 640.3,111.4"/><polygon color="#00ff30" points="646.3,117.6 652.4,124.1 662.1,120.1 656.1,113.5"/><polygon color="#00ff42" points="662.1,120.1 668.2,127 678,123 671.9,116.1"/><polygon color="#00ff2e" points="528.7,114.5 534.4,119.2 543.9,114.8 538.2,110.2"/><polygon color="#00ff29" points="543.9,114.8 549.7,119.7 559.2,115.3 553.4,110.4"/><polygon color="#00ff25" points="559.2,115.3 565.1,120.3 574.6,115.9 568.8,110.9"/><polygon color="#00ff24" points="574.6,115.9 580.4,121.1 590,116.8 584.1,111.6"/><polygon color="#00ff25" points="590,116.8 595.9,122.3 605.5,118.1 599.6,112.5"/><polygon color="#00ff2a" points="605.5,118.1 611.4,123.9 621,119.7 615.1,113.9"/><polygon color="#00ff32" points="621,119.7 627,125.8 636.6,121.7 630.7,115.5"/><polygon color="#00ff3f" points="636.6,121.7 642.6,128.1 652.4,124.1 646.3,117.6"/><polygon color="#00ff4f" points="652.4,124.1 658.4,130.9 668.2,127 662.1,120.1"/><polygon color="#00ff3c" points="534.4,119.2 540.2,124.1 549.7,119.7 543.9,114.8"/><polygon color="#00ff38" points="549.7,119.7 555.5,124.7 565.1,120.3 559.2,115.3"/><polygon color="#00ff36" points="565.1,120.3 570.9,125.5 580.4,121.1 574.6,115.9"/><polygon color="#00ff37" points="580.4,121.1 586.3,126.6 595.9,122.3 590,116.8"/><polygon color="#00ff3b" points="595.9,122.3 601.8,128.1 611.4,123.9 605.5,118.1"/><polygon color="#00ff42" points="611.4,123.9 617.3,129.9 627,125.8 621,119.7"/><polygon color="#00ff4d" points="627,125.8 632.9,132.2 642.6,128.1 636.6,121.7"/><polygon color="#00ff5d" points="642.6,128.1 648.6,134.9 658.4,130.9 652.4,124.1"/><polygon color="#00ff4b" points="540.2,124.1 546,129.2 555.5,124.7 549.7,119.7"/><polygon color="#00ff48" points="555.5,124.7 561.3,129.9 570.9,125.5 565.1,120.3"/><polygon color="#00ff48" points="570.9,125.5 576.7,131 586.3,126.6 580.4,121.1"/><polygon color="#00ff4b" points="586.3,126.6 592.2,132.3 601.8,128.1 595.9,122.3"/><polygon color="#00ff51" points="601.8,128.1 607.7,134.1 617.3,129.9 611.4,123.9"/><polygon color="#00ff5c" points="617.3,129.9 623.2,136.3 632.9,132.2 627,125.8"/><polygon color="#00ff6a" points="632.9,132.2 638.8,138.9 648.6,134.9 642.6,128.1"/><polygon color="#00ff5b" points="546,129.2 551.8,134.4 561.3,129.9 555.5,124.7"/><polygon color="#00ff5a" points="561.3,129.9 567.1,135.3 576.7,131 570.9,125.5"/><polygon color="#00ff5c" points="576.7,131 582.6,136.6 592.2,132.3 586.3,126.6"/><polygon color="#00ff61" points="592.2,132.3 598,138.3 607.7,134.1 601.8,128.1"/><polygon color="#00ff6a" points="607.7,134.1 613.5,140.4 623.2,136.3 617.3,129.9"/><polygon color="#00ff77" points="623.2,136.3 629.1,142.9 638.8,138.9 632.9,132.2"/><polygon color="#00ff6c" points="551.8,134.4 557.6,139.8 567.1,135.3 561.3,129.9"/><polygon color="#00ff6d" points="567.1,135.3 573,141 582.6,136.6 576.7,131"/><polygon color="#00ff71" points="582.6,136.6 588.4,142.5 598,138.3 592.2,132.3"/><polygon color="#00ff79" points="598,138.3 603.9,144.5 613.5,140.4 607.7,134.1"/><polygon color="#00ff85" points="613.5,140.4 619.4,146.9 629.1,142.9 623.2,136.3"/><polygon color="#00ff7e" points="557.6,139.8 563.4,145.3 573,141 567.1,135.3"/><polygon color="#00ff81" points="573,141 578.8,146.8 588.4,142.5 582.6,136.6"/><polygon color="#00ff88" points="588.4,142.5 594.3,148.6 603.9,144.5 598,138.3"/><polygon color="#00ff92" points="603.9,144.5 609.8,150.9 619.4,146.9 613.5,140.4"/><polygon color="#00ff91" points="563.4,145.3 569.2,151 578.8,146.8 573,141"/><polygon color="#00ff97" points="578.8,146.8 584.7,152.8 594.3,148.6 588.4,142.5"/><polygon color="#00ffa0" points="594.3,148.6 600.2,154.9 609.8,150.9 603.9,144.5"/><polygon color="#00ffa6" points="569.2,151 575.1,156.9 584.7,152.8 578.8,146.8"/><polygon color="#00ffad" points="584.7,152.8 590.6,159 600.2,154.9 594.3,148.6"/><polygon color="#00ffbb" points="575.1,156.9 581,163 590.6,159 584.7,152.8"/></g>
<g fill="none" stroke="#000" stroke-opacity="0.56" stroke-width="0.85"><path d="M467,74Q555.8,52.5 645.4,15"/><path d="M467,74Q522,101.5 581,163"/><path d="M468.2,74.6Q557.2,52.4 646.8,15"/><path d="M470,73.3Q525.2,99.7 584.2,161.7"/><path d="M469.5,75.2Q558.6,52.3 648.2,15"/><path d="M472.9,72.6Q528.4,97.9 587.3,160.3"/><path d="M470.7,75.9Q560,52.2 649.6,15"/><path d="M475.8,71.8Q531.6,96.1 590.5,159"/><path d="M472,76.5Q561.5,52.1 651.1,15.1"/><path d="M478.7,71.1Q534.8,94.3 593.6,157.7"/><path d="M473.2,77.2Q562.9,52.1 652.5,15.2"/><path d="M481.6,70.3Q537.9,92.6 596.8,156.3"/><path d="M474.5,77.9Q564.4,52.1 654,15.3"/><path d="M484.5,69.6Q541,90.9 599.9,155"/><path d="M475.8,78.6Q565.8,52.1 655.5,15.4"/><path d="M487.4,68.9Q544.1,89.2 603,153.7"/><path d="M477.1,79.3Q567.3,52.1 656.9,15.5"/><path d="M490.3,68.1Q547.2,87.5 606.1,152.4"/><path d="M478.4,80Q568.7,52.1 658.4,15.6"/><path d="M493.1,67.3Q550.3,85.8 609.2,151.1"/><path d="M479.7,80.8Q570.2,52.2 660,15.8"/><path d="M495.9,66.6Q553.3,84.2 612.3,149.9"/><path d="M481,81.5Q571.7,52.3 661.5,16"/><path d="M498.8,65.8Q556.4,82.6 615.3,148.6"/><path d="M482.4,82.3Q573.2,52.4 663,16.2"/><path d="M501.6,65Q559.4,81 618.4,147.3"/><path d="M483.7,83.1Q574.7,52.6 664.5,16.4"/><path d="M504.4,64.3Q562.4,79.4 621.4,146.1"/><path d="M485,83.9Q576.2,52.7 666.1,16.7"/><path d="M507.1,63.5Q565.4,77.8 624.4,144.8"/><path d="M486.4,84.7Q577.7,52.9 667.7,17"/><path d="M509.9,62.7Q568.3,76.3 627.4,143.6"/><path d="M487.8,85.5Q579.3,53.1 669.2,17.3"/><path d="M512.7,61.9Q571.3,74.8 630.4,142.3"/><path d="M489.2,86.4Q580.8,53.4 670.8,17.6"/><path d="M515.4,61.1Q574.2,73.3 633.4,141.1"/><path d="M490.6,87.2Q582.4,53.7 672.4,17.9"/><path d="M518.1,60.3Q577.1,71.8 636.4,139.9"/><path d="M492,88.1Q583.9,54 674.1,18.3"/><path d="M520.8,59.5Q580,70.3 639.4,138.7"/><path d="M493.4,89Q585.5,54.3 675.7,18.7"/><path d="M523.5,58.7Q582.8,68.9 642.3,137.5"/><path d="M494.8,89.9Q587,54.6 677.3,19.1"/><path d="M526.2,57.9Q585.7,67.4 645.3,136.2"/><path d="M496.2,90.8Q588.6,55 679,19.6"/><path d="M528.9,57.1Q588.5,66 648.2,135.1"/><path d="M497.7,91.8Q590.2,55.4 680.6,20.1"/><path d="M531.6,56.3Q591.3,64.6 651.1,133.9"/><path d="M499.1,92.7Q591.8,55.9 682.3,20.6"/><path d="M534.2,55.5Q594.1,63.2 654,132.7"/><path d="M500.6,93.7Q593.4,56.4 684,21.1"/><path d="M536.8,54.7Q596.9,61.9 656.9,131.5"/><path d="M502,94.7Q595,56.9 685.7,21.6"/><path d="M539.5,53.8Q599.7,60.5 659.8,130.3"/><path d="M503.5,95.7Q596.6,57.4 687.4,22.2"/><path d="M542.1,53Q602.4,59.2 662.6,129.2"/><path d="M505,96.7Q598.2,58 689.1,22.8"/><path d="M544.7,52.2Q605.1,57.9 665.5,128"/><path d="M506.5,97.8Q599.8,58.6 690.9,23.5"/><path d="M547.2,51.4Q607.8,56.6 668.3,126.9"/><path d="M508,98.8Q601.5,59.2 692.6,24.1"/><path d="M549.8,50.5Q610.5,55.3 671.2,125.7"/><path d="M509.5,99.9Q603.1,59.9 694.4,24.8"/><path d="M552.4,49.7Q613.2,54 674,124.6"/><path d="M511.1,101Q604.8,60.6 696.2,25.5"/><path d="M554.9,48.9Q615.8,52.8 676.8,123.5"/><path d="M512.6,102.2Q606.4,61.3 697.9,26.3"/><path d="M557.4,48Q618.5,51.6 679.6,122.4"/><path d="M514.2,103.3Q608.1,62.1 699.7,27.1"/><path d="M559.9,47.2Q621.1,50.3 682.4,121.3"/><path d="M515.7,104.5Q609.8,62.9 701.6,27.9"/><path d="M562.4,46.4Q623.7,49.1 685.1,120.2"/><path d="M517.3,105.6Q611.5,63.7 703.4,28.7"/><path d="M564.9,45.5Q626.3,48 687.9,119.1"/><path d="M518.9,106.8Q613.1,64.6 705.2,29.6"/><path d="M567.4,44.7Q628.9,46.8 690.6,118"/><path d="M520.5,108.1Q614.8,65.5 707.1,30.5"/><path d="M569.9,43.8Q631.4,45.6 693.3,116.9"/><path d="M522.1,109.3Q616.5,66.4 708.9,31.5"/><path d="M572.3,43Q634,44.5 696,115.8"/><path d="M523.7,110.6Q618.2,67.4 710.8,32.4"/><path d="M574.7,42.1Q636.5,43.4 698.7,114.7"/><path d="M525.3,111.8Q620,68.5 712.7,33.4"/><path d="M577.1,41.3Q639,42.3 701.4,113.7"/><path d="M527,113.1Q621.7,69.5 714.6,34.5"/><path d="M579.6,40.4Q641.5,41.2 704.1,112.6"/><path d="M528.6,114.5Q623.4,70.6 716.5,35.6"/><path d="M581.9,39.6Q643.9,40.1 706.8,111.6"/><path d="M530.3,115.8Q625.2,71.8 718.5,36.7"/><path d="M584.3,38.7Q646.4,39 709.4,110.5"/><path d="M531.9,117.2Q626.9,73 720.4,37.8"/><path d="M586.7,37.9Q648.8,38 712,109.5"/><path d="M533.6,118.5Q628.6,74.2 722.4,39"/><path d="M589,37Q651.2,36.9 714.7,108.5"/><path d="M535.3,120Q630.4,75.5 724.3,40.2"/><path d="M591.4,36.2Q653.6,35.9 717.3,107.4"/><path d="M537,121.4Q632.2,76.8 726.3,41.5"/><path d="M593.7,35.3Q656,34.9 719.9,106.4"/><path d="M538.7,122.8Q633.9,78.1 728.3,42.8"/><path d="M596,34.5Q658.4,33.9 722.4,105.4"/><path d="M540.4,124.3Q635.7,79.5 730.3,44.1"/><path d="M598.3,33.6Q660.7,32.9 725,104.4"/><path d="M542.2,125.8Q637.5,81 732.3,45.5"/><path d="M600.6,32.8Q663,32 727.6,103.4"/><path d="M543.9,127.3Q639.3,82.5 734.4,46.9"/><path d="M602.9,31.9Q665.4,31 730.1,102.4"/><path d="M545.6,128.9Q641.1,84 736.4,48.3"/><path d="M605.1,31.1Q667.7,30.1 732.6,101.4"/><path d="M547.4,130.4Q642.9,85.6 738.5,49.8"/><path d="M607.4,30.2Q669.9,29.1 735.1,100.5"/><path d="M549.2,132Q644.7,87.2 740.6,51.4"/><path d="M609.6,29.4Q672.2,28.2 737.6,99.5"/><path d="M551,133.7Q646.5,88.9 742.7,52.9"/><path d="M611.8,28.5Q674.5,27.3 740.1,98.5"/><path d="M552.8,135.3Q648.4,90.6 744.8,54.5"/><path d="M614,27.7Q676.7,26.4 742.6,97.6"/><path d="M554.6,137Q650.2,92.4 746.9,56.2"/><path d="M616.2,26.8Q678.9,25.6 745,96.6"/><path d="M556.4,138.7Q652,94.2 749,57.9"/><path d="M618.4,26Q681.1,24.7 747.5,95.7"/><path d="M558.2,140.4Q653.9,96 751.2,59.6"/><path d="M620.5,25.1Q683.3,23.8 749.9,94.7"/><path d="M560,142.1Q655.7,98 753.3,61.4"/><path d="M622.7,24.3Q685.5,23 752.3,93.8"/><path d="M561.9,143.9Q657.6,99.9 755.5,63.2"/><path d="M624.8,23.4Q687.6,22.2 754.7,92.9"/><path d="M563.8,145.7Q659.4,101.9 757.7,65.1"/><path d="M626.9,22.6Q689.8,21.3 757.1,92"/><path d="M565.6,147.5Q661.3,104 759.9,67"/><path d="M629,21.7Q691.9,20.5 759.5,91.1"/><path d="M567.5,149.3Q663.2,106.1 762.1,69"/><path d="M631.1,20.9Q694,19.7 761.9,90.1"/><path d="M569.4,151.2Q665.1,108.3 764.3,71"/><path d="M633.2,20Q696.1,19 764.2,89.2"/><path d="M571.3,153.1Q667,110.5 766.6,73"/><path d="M635.3,19.2Q698.2,18.2 766.5,88.4"/><path d="M573.2,155Q668.9,112.8 768.8,75.1"/><path d="M637.3,18.3Q700.2,17.4 768.9,87.5"/><path d="M575.2,157Q670.8,115.2 771.1,77.3"/><path d="M639.4,17.5Q702.3,16.7 771.2,86.6"/><path d="M577.1,159Q672.7,117.5 773.4,79.5"/><path d="M641.4,16.7Q704.3,15.9 773.5,85.7"/><path d="M579,161Q674.6,120 775.7,81.7"/><path d="M643.4,15.8Q706.3,15.2 775.7,84.9"/><path d="M581,163Q676.5,122.5 778,84"/><path d="M645.4,15Q708.3,14.5 778,84"/></g>
<ellipse cx="464" cy="68" rx="2.8" ry="1.9" fill="#e60000" stroke="#701010" stroke-width="0.4"/>
<ellipse cx="581" cy="157" rx="2.8" ry="1.9" fill="#e60000" stroke="#701010" stroke-width="0.4"/>
<ellipse cx="616.6" cy="49.3" rx="2.8" ry="1.9" fill="#e60000" stroke="#701010" stroke-width="0.4"/>
<ellipse cx="616.6" cy="55.2" rx="2.8" ry="1.9" fill="#e60000" stroke="#701010" stroke-width="0.4"/>
<ellipse cx="645.4" cy="14.1" rx="2.8" ry="1.9" fill="#ffb4bc" stroke="#b07070" stroke-width="0.4"/>
<ellipse cx="778" cy="84" rx="2.8" ry="1.9" fill="#ffb4bc" stroke="#b07070" stroke-width="0.4"/>
<path d="M616.6,55L616.6,69" stroke="#222" stroke-width="0.5"/>
<g font-size="6.4" font-weight="bold" fill="#000" stroke="#000" stroke-width="0.35"><text x="458.2" y="31.4" text-anchor="end" textLength="9.4" lengthAdjust="spacingAndGlyphs">159</text><text x="460.4" y="56.7" text-anchor="end" textLength="9.4" lengthAdjust="spacingAndGlyphs">158</text><text x="462.6" y="82" text-anchor="end" textLength="9.4" lengthAdjust="spacingAndGlyphs">157</text><text x="464.8" y="107.4" text-anchor="end" textLength="9.4" lengthAdjust="spacingAndGlyphs">156</text><text x="467" y="132.6" text-anchor="end" textLength="9.4" lengthAdjust="spacingAndGlyphs">155</text><text x="470" y="170.7" text-anchor="end" textLength="11.7" lengthAdjust="spacingAndGlyphs">1.00</text><text x="497.2" y="186.5" text-anchor="end" textLength="11.7" lengthAdjust="spacingAndGlyphs">0.50</text><text x="524.5" y="202.3" text-anchor="end" textLength="11.7" lengthAdjust="spacingAndGlyphs">0.00</text><text x="551.7" y="218.1" text-anchor="end" textLength="13.7" lengthAdjust="spacingAndGlyphs">-0.50</text><text x="578.9" y="233.9" text-anchor="end" textLength="13.7" lengthAdjust="spacingAndGlyphs">-1.00</text><text x="585.8" y="234.1" textLength="13.7" lengthAdjust="spacingAndGlyphs">-1.00</text><text x="632.1" y="223.1" textLength="13.7" lengthAdjust="spacingAndGlyphs">-0.50</text><text x="678.4" y="212.1" textLength="11.7" lengthAdjust="spacingAndGlyphs">0.00</text><text x="724.7" y="201.1" textLength="11.7" lengthAdjust="spacingAndGlyphs">0.50</text><text x="771" y="190.1" textLength="11.7" lengthAdjust="spacingAndGlyphs">1.00</text></g>
<g font-size="9" fill="#111" stroke="#000" stroke-width="0.5"><text x="427.6" y="215.4" textLength="70.69999999999999" lengthAdjust="spacingAndGlyphs">C: Crushed mesh</text><text x="664" y="234.5" textLength="115" lengthAdjust="spacingAndGlyphs" xml:space="preserve">A:  Ionic liquid concentration</text><text transform="translate(413,144.5) rotate(-90)" textLength="88.0" lengthAdjust="spacingAndGlyphs">Total Extraction Yield</text></g>
<text x="690.6" y="283.8" text-anchor="middle" font-family="'Liberation Serif',serif" font-size="20" fill="#000">(<tspan font-weight="bold">B</tspan>)</text>
</g>
<g id="pC">
<polygon points="63,472 222,519 347,463 192.5,428" fill="#ffff00"/>
<path d="M99.4,482.8Q160,468 223,463.2Q275,464 316.1,476.7" fill="none" stroke="#38e038" stroke-width="0.7"/>
<path d="M160,500.5Q200,494 232,495Q246,497 255.2,503.8" fill="none" stroke="#30e0c0" stroke-width="0.7"/>
<path d="M63,472L192.5,428L347,463" fill="none" stroke="#555" stroke-width="0.5"/>
<path d="M87.3,334.4L93.5,431.3M234.5,316.8L231.9,408.6M122.6,326.2L126.5,420.9M276,323.5L271.2,416.9M157.8,318.1L159.6,410.6M317.5,330.2L310.5,425.1M193,310L192.5,428M359,337L347,463M52.1,342.5L193,310L359,337M53.8,362.3L192.9,328L357.2,356.3M55.4,382.1L192.8,346.1L355.3,375.5M57.1,401.9L192.8,364.1L353.5,394.8M58.8,421.7L192.7,382.2L351.7,414.1M60.4,441.6L192.6,400.3L349.8,433.4" fill="none" stroke="#3c3c3c" stroke-width="0.75"/>
<path d="M52.1,342.5L63,472L222,519L347,463" fill="none" stroke="#111" stroke-width="0.75"/>
<path d="M52.1,342.5l-1.6,0.4M53.8,362.3l-1.6,0.4M55.4,382.1l-1.6,0.4M57.1,401.9l-1.6,0.4M58.8,421.7l-1.6,0.4M60.4,441.6l-1.6,0.4M63,472l-1.3,1.0M222,519l1.3,1.0M102.8,483.8l-1.3,1.0M253.2,505l1.3,1.0M142.5,495.5l-1.3,1.0M284.5,491l1.3,1.0M182.2,507.2l-1.3,1.0M315.8,477l1.3,1.0M222,519l-1.3,1.0M347,463l1.3,1.0" fill="none" stroke="#000" stroke-width="1.3"/>
<g fill="currentColor" stroke="currentColor" stroke-width="0.6"><polygon color="#ff2300" points="186.1,322.9 193.9,324.7 200.7,321.6 193,320"/><polygon color="#ff3a00" points="179.2,325.7 187.1,327.8 193.9,324.7 186.1,322.9"/><polygon color="#ff2d00" points="193.9,324.7 201.7,326.6 208.4,323.3 200.7,321.6"/><polygon color="#ff5000" points="172.4,328.4 180.3,330.7 187.1,327.8 179.2,325.7"/><polygon color="#ff4500" points="187.1,327.8 194.9,329.9 201.7,326.6 193.9,324.7"/><polygon color="#ff3700" points="201.7,326.6 209.5,328.5 216.2,325 208.4,323.3"/><polygon color="#ff6400" points="165.5,331.1 173.4,333.7 180.3,330.7 172.4,328.4"/><polygon color="#ff5c00" points="180.3,330.7 188.2,333 194.9,329.9 187.1,327.8"/><polygon color="#ff5000" points="194.9,329.9 202.8,332 209.5,328.5 201.7,326.6"/><polygon color="#ff4100" points="209.5,328.5 217.4,330.5 224,326.7 216.2,325"/><polygon color="#ff7700" points="158.6,333.8 166.6,336.5 173.4,333.7 165.5,331.1"/><polygon color="#ff7100" points="173.4,333.7 181.4,336.2 188.2,333 180.3,330.7"/><polygon color="#ff6700" points="188.2,333 196.1,335.4 202.8,332 194.9,329.9"/><polygon color="#ff5a00" points="202.8,332 210.7,334.1 217.4,330.5 209.5,328.5"/><polygon color="#ff4a00" points="217.4,330.5 225.3,332.4 231.9,328.5 224,326.7"/><polygon color="#ff8900" points="151.7,336.3 159.8,339.3 166.6,336.5 158.6,333.8"/><polygon color="#ff8500" points="166.6,336.5 174.7,339.2 181.4,336.2 173.4,333.7"/><polygon color="#ff7e00" points="181.4,336.2 189.4,338.7 196.1,335.4 188.2,333"/><polygon color="#ff7300" points="196.1,335.4 204.1,337.7 210.7,334.1 202.8,332"/><polygon color="#ff6500" points="210.7,334.1 218.7,336.3 225.3,332.4 217.4,330.5"/><polygon color="#ff5400" points="225.3,332.4 233.2,334.4 239.8,330.3 231.9,328.5"/><polygon color="#ff9900" points="144.8,338.8 153,342 159.8,339.3 151.7,336.3"/><polygon color="#ff9800" points="159.8,339.3 167.9,342.2 174.7,339.2 166.6,336.5"/><polygon color="#ff9200" points="174.7,339.2 182.7,342 189.4,338.7 181.4,336.2"/><polygon color="#ff8a00" points="189.4,338.7 197.4,341.2 204.1,337.7 196.1,335.4"/><polygon color="#ff7e00" points="204.1,337.7 212.1,340.1 218.7,336.3 210.7,334.1"/><polygon color="#ff6f00" points="218.7,336.3 226.7,338.5 233.2,334.4 225.3,332.4"/><polygon color="#ff5d00" points="233.2,334.4 241.2,336.5 247.8,332.2 239.8,330.3"/><polygon color="#ffa800" points="137.8,341.3 146.1,344.7 153,342 144.8,338.8"/><polygon color="#ffa900" points="153,342 161.2,345.2 167.9,342.2 159.8,339.3"/><polygon color="#ffa600" points="167.9,342.2 176,345.2 182.7,342 174.7,339.2"/><polygon color="#ffa000" points="182.7,342 190.8,344.7 197.4,341.2 189.4,338.7"/><polygon color="#ff9600" points="197.4,341.2 205.5,343.8 212.1,340.1 204.1,337.7"/><polygon color="#ff8900" points="212.1,340.1 220.1,342.4 226.7,338.5 218.7,336.3"/><polygon color="#ff7900" points="226.7,338.5 234.7,340.7 241.2,336.5 233.2,334.4"/><polygon color="#ff6600" points="241.2,336.5 249.3,338.5 255.8,334.1 247.8,332.2"/><polygon color="#ffb500" points="130.9,343.7 139.3,347.3 146.1,344.7 137.8,341.3"/><polygon color="#ffb900" points="146.1,344.7 154.4,348 161.2,345.2 153,342"/><polygon color="#ffb800" points="161.2,345.2 169.3,348.3 176,345.2 167.9,342.2"/><polygon color="#ffb400" points="176,345.2 184.2,348.1 190.8,344.7 182.7,342"/><polygon color="#ffac00" points="190.8,344.7 198.9,347.4 205.5,343.8 197.4,341.2"/><polygon color="#ffa200" points="205.5,343.8 213.5,346.3 220.1,342.4 212.1,340.1"/><polygon color="#ff9400" points="220.1,342.4 228.1,344.8 234.7,340.7 226.7,338.5"/><polygon color="#ff8300" points="234.7,340.7 242.7,342.9 249.3,338.5 241.2,336.5"/><polygon color="#ff6f00" points="249.3,338.5 257.3,340.6 263.9,336 255.8,334.1"/><polygon color="#ffc100" points="124,346 132.4,349.8 139.3,347.3 130.9,343.7"/><polygon color="#ffc700" points="139.3,347.3 147.6,350.9 154.4,348 146.1,344.7"/><polygon color="#ffc900" points="154.4,348 162.6,351.4 169.3,348.3 161.2,345.2"/><polygon color="#ffc700" points="169.3,348.3 177.5,351.4 184.2,348.1 176,345.2"/><polygon color="#ffc200" points="184.2,348.1 192.3,351 198.9,347.4 190.8,344.7"/><polygon color="#ffb900" points="198.9,347.4 207,350.1 213.5,346.3 205.5,343.8"/><polygon color="#ffad00" points="213.5,346.3 221.6,348.9 228.1,344.8 220.1,342.4"/><polygon color="#ff9e00" points="228.1,344.8 236.2,347.2 242.7,342.9 234.7,340.7"/><polygon color="#ff8d00" points="242.7,342.9 250.8,345.2 257.3,340.6 249.3,338.5"/><polygon color="#ff7800" points="257.3,340.6 265.5,342.8 272,338 263.9,336"/><polygon color="#ffcb00" points="117.1,348.3 125.6,352.3 132.4,349.8 124,346"/><polygon color="#ffd400" points="132.4,349.8 140.8,353.6 147.6,350.9 139.3,347.3"/><polygon color="#ffd800" points="147.6,350.9 155.9,354.4 162.6,351.4 154.4,348"/><polygon color="#ffd900" points="162.6,351.4 170.9,354.7 177.5,351.4 169.3,348.3"/><polygon color="#ffd600" points="177.5,351.4 185.7,354.5 192.3,351 184.2,348.1"/><polygon color="#ffcf00" points="192.3,351 200.4,353.9 207,350.1 198.9,347.4"/><polygon color="#ffc500" points="207,350.1 215.1,352.9 221.6,348.9 213.5,346.3"/><polygon color="#ffb800" points="221.6,348.9 229.7,351.4 236.2,347.2 228.1,344.8"/><polygon color="#ffa900" points="236.2,347.2 244.3,349.6 250.8,345.2 242.7,342.9"/><polygon color="#ff9600" points="250.8,345.2 258.9,347.4 265.5,342.8 257.3,340.6"/><polygon color="#ff8000" points="265.5,342.8 273.6,344.9 280.2,340 272,338"/><polygon color="#ffd400" points="110.1,350.5 118.7,354.7 125.6,352.3 117.1,348.3"/><polygon color="#ffe000" points="125.6,352.3 134.1,356.3 140.8,353.6 132.4,349.8"/><polygon color="#ffe700" points="140.8,353.6 149.2,357.3 155.9,354.4 147.6,350.9"/><polygon color="#ffe900" points="155.9,354.4 164.2,357.9 170.9,354.7 162.6,351.4"/><polygon color="#ffe900" points="170.9,354.7 179.1,358 185.7,354.5 177.5,351.4"/><polygon color="#ffe400" points="185.7,354.5 193.8,357.6 200.4,353.9 192.3,351"/><polygon color="#ffdc00" points="200.4,353.9 208.5,356.8 215.1,352.9 207,350.1"/><polygon color="#ffd100" points="215.1,352.9 223.2,355.6 229.7,351.4 221.6,348.9"/><polygon color="#ffc300" points="229.7,351.4 237.8,354 244.3,349.6 236.2,347.2"/><polygon color="#ffb300" points="244.3,349.6 252.4,352 258.9,347.4 250.8,345.2"/><polygon color="#ff9f00" points="258.9,347.4 267.1,349.7 273.6,344.9 265.5,342.8"/><polygon color="#ff8900" points="273.6,344.9 281.8,347.1 288.4,342.1 280.2,340"/><polygon color="#ffdc00" points="103.2,352.6 111.9,357.1 118.7,354.7 110.1,350.5"/><polygon color="#ffea00" points="118.7,354.7 127.3,358.9 134.1,356.3 125.6,352.3"/><polygon color="#fff300" points="134.1,356.3 142.5,360.2 149.2,357.3 140.8,353.6"/><polygon color="#fff900" points="149.2,357.3 157.6,361 164.2,357.9 155.9,354.4"/><polygon color="#fffa00" points="164.2,357.9 172.5,361.3 179.1,358 170.9,354.7"/><polygon color="#fff800" points="179.1,358 187.3,361.2 193.8,357.6 185.7,354.5"/><polygon color="#fff200" points="193.8,357.6 202,360.6 208.5,356.8 200.4,353.9"/><polygon color="#ffe900" points="208.5,356.8 216.6,359.7 223.2,355.6 215.1,352.9"/><polygon color="#ffdd00" points="223.2,355.6 231.3,358.3 237.8,354 229.7,351.4"/><polygon color="#ffce00" points="237.8,354 245.9,356.6 252.4,352 244.3,349.6"/><polygon color="#ffbd00" points="252.4,352 260.5,354.5 267.1,349.7 258.9,347.4"/><polygon color="#ffa800" points="267.1,349.7 275.2,352.1 281.8,347.1 273.6,344.9"/><polygon color="#ff9100" points="281.8,347.1 290.1,349.3 296.7,344.2 288.4,342.1"/><polygon color="#ffe200" points="96.3,354.7 105,359.4 111.9,357.1 103.2,352.6"/><polygon color="#fff300" points="111.9,357.1 120.5,361.4 127.3,358.9 118.7,354.7"/><polygon color="#feff00" points="127.3,358.9 135.8,363 142.5,360.2 134.1,356.3"/><polygon color="#f7ff00" points="142.5,360.2 150.9,364.1 157.6,361 149.2,357.3"/><polygon color="#f3ff00" points="157.6,361 165.9,364.6 172.5,361.3 164.2,357.9"/><polygon color="#f3ff00" points="172.5,361.3 180.7,364.7 187.3,361.2 179.1,358"/><polygon color="#f7ff00" points="187.3,361.2 195.5,364.4 202,360.6 193.8,357.6"/><polygon color="#fdff00" points="202,360.6 210.1,363.7 216.6,359.7 208.5,356.8"/><polygon color="#fff600" points="216.6,359.7 224.8,362.5 231.3,358.3 223.2,355.6"/><polygon color="#ffe900" points="231.3,358.3 239.4,361 245.9,356.6 237.8,354"/><polygon color="#ffd900" points="245.9,356.6 254,359.1 260.5,354.5 252.4,352"/><polygon color="#ffc600" points="260.5,354.5 268.7,356.9 275.2,352.1 267.1,349.7"/><polygon color="#ffb100" points="275.2,352.1 283.4,354.4 290.1,349.3 281.8,347.1"/><polygon color="#ff9900" points="290.1,349.3 298.3,351.6 305,346.3 296.7,344.2"/><polygon color="#ffe700" points="89.3,356.7 98.1,361.6 105,359.4 96.3,354.7"/><polygon color="#fffa00" points="105,359.4 113.7,363.9 120.5,361.4 111.9,357.1"/><polygon color="#f4ff00" points="120.5,361.4 129.1,365.8 135.8,363 127.3,358.9"/><polygon color="#eaff00" points="135.8,363 144.2,367 150.9,364.1 142.5,360.2"/><polygon color="#e4ff00" points="150.9,364.1 159.3,367.9 165.9,364.6 157.6,361"/><polygon color="#e2ff00" points="165.9,364.6 174.2,368.2 180.7,364.7 172.5,361.3"/><polygon color="#e3ff00" points="180.7,364.7 188.9,368.1 195.5,364.4 187.3,361.2"/><polygon color="#e8ff00" points="195.5,364.4 203.6,367.6 210.1,363.7 202,360.6"/><polygon color="#f0ff00" points="210.1,363.7 218.3,366.7 224.8,362.5 216.6,359.7"/><polygon color="#fbff00" points="224.8,362.5 232.9,365.4 239.4,361 231.3,358.3"/><polygon color="#fff400" points="239.4,361 247.5,363.7 254,359.1 245.9,356.6"/><polygon color="#ffe300" points="254,359.1 262.1,361.7 268.7,356.9 260.5,354.5"/><polygon color="#ffd000" points="268.7,356.9 276.9,359.4 283.4,354.4 275.2,352.1"/><polygon color="#ffb900" points="283.4,354.4 291.7,356.8 298.3,351.6 290.1,349.3"/><polygon color="#ffa100" points="298.3,351.6 306.7,353.9 313.4,348.5 305,346.3"/><polygon color="#ffea00" points="82.4,358.7 91.3,363.8 98.1,361.6 89.3,356.7"/><polygon color="#fdff00" points="98.1,361.6 106.9,366.4 113.7,363.9 105,359.4"/><polygon color="#ebff00" points="113.7,363.9 122.3,368.4 129.1,365.8 120.5,361.4"/><polygon color="#dfff00" points="129.1,365.8 137.6,370 144.2,367 135.8,363"/><polygon color="#d6ff00" points="144.2,367 152.7,371 159.3,367.9 150.9,364.1"/><polygon color="#d2ff00" points="159.3,367.9 167.6,371.6 174.2,368.2 165.9,364.6"/><polygon color="#d1ff00" points="174.2,368.2 182.4,371.7 188.9,368.1 180.7,364.7"/><polygon color="#d4ff00" points="188.9,368.1 197.1,371.4 203.6,367.6 195.5,364.4"/><polygon color="#daff00" points="203.6,367.6 211.8,370.7 218.3,366.7 210.1,363.7"/><polygon color="#e3ff00" points="218.3,366.7 226.4,369.6 232.9,365.4 224.8,362.5"/><polygon color="#f0ff00" points="232.9,365.4 241,368.2 247.5,363.7 239.4,361"/><polygon color="#feff00" points="247.5,363.7 255.6,366.4 262.1,361.7 254,359.1"/><polygon color="#ffed00" points="262.1,361.7 270.3,364.3 276.9,359.4 268.7,356.9"/><polygon color="#ffd900" points="276.9,359.4 285.1,361.9 291.7,356.8 283.4,354.4"/><polygon color="#ffc200" points="291.7,356.8 300,359.2 306.7,353.9 298.3,351.6"/><polygon color="#ffa800" points="306.7,353.9 315,356.2 321.8,350.7 313.4,348.5"/><polygon color="#ffec00" points="75.4,360.6 84.4,365.9 91.3,363.8 82.4,358.7"/><polygon color="#f8ff00" points="91.3,363.8 100.1,368.7 106.9,366.4 98.1,361.6"/><polygon color="#e4ff00" points="106.9,366.4 115.6,371 122.3,368.4 113.7,363.9"/><polygon color="#d5ff00" points="122.3,368.4 130.9,372.8 137.6,370 129.1,365.8"/><polygon color="#caff00" points="137.6,370 146.1,374.1 152.7,371 144.2,367"/><polygon color="#c3ff00" points="152.7,371 161,374.9 167.6,371.6 159.3,367.9"/><polygon color="#c1ff00" points="167.6,371.6 175.9,375.3 182.4,371.7 174.2,368.2"/><polygon color="#c1ff00" points="182.4,371.7 190.6,375.2 197.1,371.4 188.9,368.1"/><polygon color="#c6ff00" points="197.1,371.4 205.3,374.7 211.8,370.7 203.6,367.6"/><polygon color="#cdff00" points="211.8,370.7 219.9,373.8 226.4,369.6 218.3,366.7"/><polygon color="#d7ff00" points="226.4,369.6 234.5,372.6 241,368.2 232.9,365.4"/><polygon color="#e4ff00" points="241,368.2 249.1,371 255.6,366.4 247.5,363.7"/><polygon color="#f4ff00" points="255.6,366.4 263.8,369.1 270.3,364.3 262.1,361.7"/><polygon color="#fff700" points="270.3,364.3 278.5,366.9 285.1,361.9 276.9,359.4"/><polygon color="#ffe200" points="285.1,361.9 293.3,364.4 300,359.2 291.7,356.8"/><polygon color="#ffca00" points="300,359.2 308.3,361.6 315,356.2 306.7,353.9"/><polygon color="#ffb000" points="315,356.2 323.4,358.6 330.3,353 321.8,350.7"/><polygon color="#ffec00" points="68.4,362.4 77.5,367.9 84.4,365.9 75.4,360.6"/><polygon color="#f5ff00" points="84.4,365.9 93.3,371 100.1,368.7 91.3,363.8"/><polygon color="#deff00" points="100.1,368.7 108.9,373.6 115.6,371 106.9,366.4"/><polygon color="#ccff00" points="115.6,371 124.3,375.6 130.9,372.8 122.3,368.4"/><polygon color="#bfff00" points="130.9,372.8 139.5,377.1 146.1,374.1 137.6,370"/><polygon color="#b6ff00" points="146.1,374.1 154.5,378.2 161,374.9 152.7,371"/><polygon color="#b1ff00" points="161,374.9 169.4,378.8 175.9,375.3 167.6,371.6"/><polygon color="#b0ff00" points="175.9,375.3 184.2,378.9 190.6,375.2 182.4,371.7"/><polygon color="#b2ff00" points="190.6,375.2 198.8,378.6 205.3,374.7 197.1,371.4"/><polygon color="#b7ff00" points="205.3,374.7 213.5,378 219.9,373.8 211.8,370.7"/><polygon color="#c0ff00" points="219.9,373.8 228,376.9 234.5,372.6 226.4,369.6"/><polygon color="#cbff00" points="234.5,372.6 242.6,375.5 249.1,371 241,368.2"/><polygon color="#d9ff00" points="249.1,371 257.2,373.8 263.8,369.1 255.6,366.4"/><polygon color="#eaff00" points="263.8,369.1 271.9,371.8 278.5,366.9 270.3,364.3"/><polygon color="#fdff00" points="278.5,366.9 286.7,369.5 293.3,364.4 285.1,361.9"/><polygon color="#ffea00" points="293.3,364.4 301.5,366.9 308.3,361.6 300,359.2"/><polygon color="#ffd200" points="308.3,361.6 316.6,364 323.4,358.6 315,356.2"/><polygon color="#ffb700" points="323.4,358.6 331.9,360.9 338.8,355.3 330.3,353"/><polygon color="#ffeb00" points="61.5,364.2 70.6,369.9 77.5,367.9 68.4,362.4"/><polygon color="#f3ff00" points="77.5,367.9 86.5,373.3 93.3,371 84.4,365.9"/><polygon color="#d9ff00" points="93.3,371 102.2,376.1 108.9,373.6 100.1,368.7"/><polygon color="#c5ff00" points="108.9,373.6 117.6,378.3 124.3,375.6 115.6,371"/><polygon color="#b5ff00" points="124.3,375.6 132.9,380.1 139.5,377.1 130.9,372.8"/><polygon color="#aaff00" points="139.5,377.1 147.9,381.4 154.5,378.2 146.1,374.1"/><polygon color="#a3ff00" points="154.5,378.2 162.9,382.2 169.4,378.8 161,374.9"/><polygon color="#9fff00" points="169.4,378.8 177.7,382.5 184.2,378.9 175.9,375.3"/><polygon color="#a0ff00" points="184.2,378.9 192.4,382.5 198.8,378.6 190.6,375.2"/><polygon color="#a3ff00" points="198.8,378.6 207,382 213.5,378 205.3,374.7"/><polygon color="#aaff00" points="213.5,378 221.6,381.2 228,376.9 219.9,373.8"/><polygon color="#b3ff00" points="228,376.9 236.1,380 242.6,375.5 234.5,372.6"/><polygon color="#bfff00" points="242.6,375.5 250.7,378.5 257.2,373.8 249.1,371"/><polygon color="#ceff00" points="257.2,373.8 265.3,376.6 271.9,371.8 263.8,369.1"/><polygon color="#e0ff00" points="271.9,371.8 280,374.5 286.7,369.5 278.5,366.9"/><polygon color="#f4ff00" points="286.7,369.5 294.9,372.1 301.5,366.9 293.3,364.4"/><polygon color="#fff300" points="301.5,366.9 309.8,369.4 316.6,364 308.3,361.6"/><polygon color="#ffda00" points="316.6,364 325,366.5 331.9,360.9 323.4,358.6"/><polygon color="#ffbe00" points="331.9,360.9 340.3,363.3 347.4,357.6 338.8,355.3"/><polygon color="#ffe800" points="54.5,365.9 63.7,371.8 70.6,369.9 61.5,364.2"/><polygon color="#f2ff00" points="70.6,369.9 79.7,375.4 86.5,373.3 77.5,367.9"/><polygon color="#d6ff00" points="86.5,373.3 95.4,378.5 102.2,376.1 93.3,371"/><polygon color="#bfff00" points="102.2,376.1 110.9,381 117.6,378.3 108.9,373.6"/><polygon color="#adff00" points="117.6,378.3 126.2,383 132.9,380.1 124.3,375.6"/><polygon color="#9fff00" points="132.9,380.1 141.4,384.5 147.9,381.4 139.5,377.1"/><polygon color="#96ff00" points="147.9,381.4 156.4,385.5 162.9,382.2 154.5,378.2"/><polygon color="#90ff00" points="162.9,382.2 171.2,386.1 177.7,382.5 169.4,378.8"/><polygon color="#8fff00" points="177.7,382.5 185.9,386.2 192.4,382.5 184.2,378.9"/><polygon color="#90ff00" points="192.4,382.5 200.6,386 207,382 198.8,378.6"/><polygon color="#95ff00" points="207,382 215.1,385.3 221.6,381.2 213.5,378"/><polygon color="#9cff00" points="221.6,381.2 229.7,384.3 236.1,380 228,376.9"/><polygon color="#a7ff00" points="236.1,380 244.2,383 250.7,378.5 242.6,375.5"/><polygon color="#b4ff00" points="250.7,378.5 258.8,381.3 265.3,376.6 257.2,373.8"/><polygon color="#c4ff00" points="265.3,376.6 273.5,379.4 280,374.5 271.9,371.8"/><polygon color="#d6ff00" points="280,374.5 288.2,377.2 294.9,372.1 286.7,369.5"/><polygon color="#ebff00" points="294.9,372.1 303.1,374.7 309.8,369.4 301.5,366.9"/><polygon color="#fffb00" points="309.8,369.4 318.1,371.9 325,366.5 316.6,364"/><polygon color="#ffe100" points="325,366.5 333.4,369 340.3,363.3 331.9,360.9"/><polygon color="#ffc500" points="340.3,363.3 348.9,365.8 356,360 347.4,357.6"/><polygon color="#f3ff00" points="63.7,371.8 72.9,377.5 79.7,375.4 70.6,369.9"/><polygon color="#d4ff00" points="79.7,375.4 88.7,380.8 95.4,378.5 86.5,373.3"/><polygon color="#baff00" points="95.4,378.5 104.3,383.6 110.9,381 102.2,376.1"/><polygon color="#a6ff00" points="110.9,381 119.6,385.8 126.2,383 117.6,378.3"/><polygon color="#96ff00" points="126.2,383 134.8,387.5 141.4,384.5 132.9,380.1"/><polygon color="#8aff00" points="141.4,384.5 149.8,388.8 156.4,385.5 147.9,381.4"/><polygon color="#83ff00" points="156.4,385.5 164.7,389.5 171.2,386.1 162.9,382.2"/><polygon color="#7fff00" points="171.2,386.1 179.5,389.9 185.9,386.2 177.7,382.5"/><polygon color="#7eff00" points="185.9,386.2 194.1,389.8 200.6,386 192.4,382.5"/><polygon color="#81ff00" points="200.6,386 208.7,389.4 215.1,385.3 207,382"/><polygon color="#87ff00" points="215.1,385.3 223.2,388.6 229.7,384.3 221.6,381.2"/><polygon color="#8fff00" points="229.7,384.3 237.8,387.5 244.2,383 236.1,380"/><polygon color="#9bff00" points="244.2,383 252.3,386 258.8,381.3 250.7,378.5"/><polygon color="#a9ff00" points="258.8,381.3 266.9,384.2 273.5,379.4 265.3,376.6"/><polygon color="#b9ff00" points="273.5,379.4 281.6,382.2 288.2,377.2 280,374.5"/><polygon color="#ccff00" points="288.2,377.2 296.4,379.9 303.1,374.7 294.9,372.1"/><polygon color="#e2ff00" points="303.1,374.7 311.3,377.3 318.1,371.9 309.8,369.4"/><polygon color="#faff00" points="318.1,371.9 326.4,374.5 333.4,369 325,366.5"/><polygon color="#ffe900" points="333.4,369 341.8,371.5 348.9,365.8 340.3,363.3"/><polygon color="#d3ff00" points="72.9,377.5 81.9,383.1 88.7,380.8 79.7,375.4"/><polygon color="#b7ff00" points="88.7,380.8 97.6,386.1 104.3,383.6 95.4,378.5"/><polygon color="#a0ff00" points="104.3,383.6 113,388.5 119.6,385.8 110.9,381"/><polygon color="#8dff00" points="119.6,385.8 128.3,390.5 134.8,387.5 126.2,383"/><polygon color="#80ff00" points="134.8,387.5 143.3,391.9 149.8,388.8 141.4,384.5"/><polygon color="#76ff00" points="149.8,388.8 158.2,392.9 164.7,389.5 156.4,385.5"/><polygon color="#70ff00" points="164.7,389.5 173,393.5 179.5,389.9 171.2,386.1"/><polygon color="#6eff00" points="179.5,389.9 187.7,393.6 194.1,389.8 185.9,386.2"/><polygon color="#6fff00" points="194.1,389.8 202.3,393.4 208.7,389.4 200.6,386"/><polygon color="#73ff00" points="208.7,389.4 216.8,392.8 223.2,388.6 215.1,385.3"/><polygon color="#79ff00" points="223.2,388.6 231.3,391.8 237.8,387.5 229.7,384.3"/><polygon color="#83ff00" points="237.8,387.5 245.8,390.5 252.3,386 244.2,383"/><polygon color="#8fff00" points="252.3,386 260.4,388.9 266.9,384.2 258.8,381.3"/><polygon color="#9eff00" points="266.9,384.2 275,387.1 281.6,382.2 273.5,379.4"/><polygon color="#afff00" points="281.6,382.2 289.7,384.9 296.4,379.9 288.2,377.2"/><polygon color="#c3ff00" points="296.4,379.9 304.5,382.5 311.3,377.3 303.1,374.7"/><polygon color="#d9ff00" points="311.3,377.3 319.5,379.9 326.4,374.5 318.1,371.9"/><polygon color="#f2ff00" points="326.4,374.5 334.8,377.1 341.8,371.5 333.4,369"/><polygon color="#b5ff00" points="81.9,383.1 90.9,388.6 97.6,386.1 88.7,380.8"/><polygon color="#9bff00" points="97.6,386.1 106.4,391.2 113,388.5 104.3,383.6"/><polygon color="#86ff00" points="113,388.5 121.7,393.4 128.3,390.5 119.6,385.8"/><polygon color="#76ff00" points="128.3,390.5 136.8,395.1 143.3,391.9 134.8,387.5"/><polygon color="#6aff00" points="143.3,391.9 151.8,396.3 158.2,392.9 149.8,388.8"/><polygon color="#63ff00" points="158.2,392.9 166.6,397 173,393.5 164.7,389.5"/><polygon color="#5eff00" points="173,393.5 181.3,397.4 187.7,393.6 179.5,389.9"/><polygon color="#5dff00" points="187.7,393.6 195.9,397.3 202.3,393.4 194.1,389.8"/><polygon color="#60ff00" points="202.3,393.4 210.4,396.9 216.8,392.8 208.7,389.4"/><polygon color="#65ff00" points="216.8,392.8 224.9,396.1 231.3,391.8 223.2,388.6"/><polygon color="#6dff00" points="231.3,391.8 239.4,395 245.8,390.5 237.8,387.5"/><polygon color="#77ff00" points="245.8,390.5 253.9,393.6 260.4,388.9 252.3,386"/><polygon color="#84ff00" points="260.4,388.9 268.4,391.9 275,387.1 266.9,384.2"/><polygon color="#94ff00" points="275,387.1 283,389.9 289.7,384.9 281.6,382.2"/><polygon color="#a6ff00" points="289.7,384.9 297.8,387.7 304.5,382.5 296.4,379.9"/><polygon color="#baff00" points="304.5,382.5 312.7,385.2 319.5,379.9 311.3,377.3"/><polygon color="#d1ff00" points="319.5,379.9 327.8,382.5 334.8,377.1 326.4,374.5"/><polygon color="#98ff00" points="90.9,388.6 99.8,393.8 106.4,391.2 97.6,386.1"/><polygon color="#81ff00" points="106.4,391.2 115.2,396.2 121.7,393.4 113,388.5"/><polygon color="#6eff00" points="121.7,393.4 130.3,398.1 136.8,395.1 128.3,390.5"/><polygon color="#60ff00" points="136.8,395.1 145.3,399.5 151.8,396.3 143.3,391.9"/><polygon color="#56ff00" points="151.8,396.3 160.2,400.5 166.6,397 158.2,392.9"/><polygon color="#50ff00" points="166.6,397 174.9,401 181.3,397.4 173,393.5"/><polygon color="#4dff00" points="181.3,397.4 189.5,401.1 195.9,397.3 187.7,393.6"/><polygon color="#4eff00" points="195.9,397.3 204,400.9 210.4,396.9 202.3,393.4"/><polygon color="#51ff00" points="210.4,396.9 218.5,400.3 224.9,396.1 216.8,392.8"/><polygon color="#57ff00" points="224.9,396.1 232.9,399.4 239.4,395 231.3,391.8"/><polygon color="#60ff00" points="239.4,395 247.4,398.1 253.9,393.6 245.8,390.5"/><polygon color="#6cff00" points="253.9,393.6 261.9,396.6 268.4,391.9 260.4,388.9"/><polygon color="#7aff00" points="268.4,391.9 276.4,394.8 283,389.9 275,387.1"/><polygon color="#8aff00" points="283,389.9 291.1,392.7 297.8,387.7 289.7,384.9"/><polygon color="#9dff00" points="297.8,387.7 305.9,390.4 312.7,385.2 304.5,382.5"/><polygon color="#b2ff00" points="312.7,385.2 320.9,387.9 327.8,382.5 319.5,379.9"/><polygon color="#7cff00" points="99.8,393.8 108.6,399 115.2,396.2 106.4,391.2"/><polygon color="#67ff00" points="115.2,396.2 123.8,401.1 130.3,398.1 121.7,393.4"/><polygon color="#57ff00" points="130.3,398.1 138.9,402.7 145.3,399.5 136.8,395.1"/><polygon color="#4bff00" points="145.3,399.5 153.7,403.8 160.2,400.5 151.8,396.3"/><polygon color="#43ff00" points="160.2,400.5 168.5,404.6 174.9,401 166.6,397"/><polygon color="#3fff00" points="174.9,401 183.1,404.9 189.5,401.1 181.3,397.4"/><polygon color="#3dff00" points="189.5,401.1 197.6,404.8 204,400.9 195.9,397.3"/><polygon color="#3fff00" points="204,400.9 212.1,404.4 218.5,400.3 210.4,396.9"/><polygon color="#44ff00" points="218.5,400.3 226.5,403.6 232.9,399.4 224.9,396.1"/><polygon color="#4bff00" points="232.9,399.4 240.9,402.6 247.4,398.1 239.4,395"/><polygon color="#55ff00" points="247.4,398.1 255.4,401.2 261.9,396.6 253.9,393.6"/><polygon color="#61ff00" points="261.9,396.6 269.9,399.5 276.4,394.8 268.4,391.9"/><polygon color="#70ff00" points="276.4,394.8 284.4,397.6 291.1,392.7 283,389.9"/><polygon color="#80ff00" points="291.1,392.7 299.1,395.5 305.9,390.4 297.8,387.7"/><polygon color="#94ff00" points="305.9,390.4 314,393.1 320.9,387.9 312.7,385.2"/><polygon color="#62ff00" points="108.6,399 117.3,404 123.8,401.1 115.2,396.2"/><polygon color="#4fff00" points="123.8,401.1 132.4,405.8 138.9,402.7 130.3,398.1"/><polygon color="#41ff00" points="138.9,402.7 147.3,407.1 153.7,403.8 145.3,399.5"/><polygon color="#37ff00" points="153.7,403.8 162.1,408 168.5,404.6 160.2,400.5"/><polygon color="#31ff00" points="168.5,404.6 176.7,408.5 183.1,404.9 174.9,401"/><polygon color="#2eff00" points="183.1,404.9 191.3,408.7 197.6,404.8 189.5,401.1"/><polygon color="#2eff00" points="197.6,404.8 205.7,408.4 212.1,404.4 204,400.9"/><polygon color="#31ff00" points="212.1,404.4 220.1,407.8 226.5,403.6 218.5,400.3"/><polygon color="#37ff00" points="226.5,403.6 234.5,406.9 240.9,402.6 232.9,399.4"/><polygon color="#3fff00" points="240.9,402.6 248.9,405.7 255.4,401.2 247.4,398.1"/><polygon color="#49ff00" points="255.4,401.2 263.3,404.2 269.9,399.5 261.9,396.6"/><polygon color="#56ff00" points="269.9,399.5 277.8,402.5 284.4,397.6 276.4,394.8"/><polygon color="#66ff00" points="284.4,397.6 292.4,400.5 299.1,395.5 291.1,392.7"/><polygon color="#77ff00" points="299.1,395.5 307.2,398.3 314,393.1 305.9,390.4"/><polygon color="#49ff00" points="117.3,404 126,408.8 132.4,405.8 123.8,401.1"/><polygon color="#39ff00" points="132.4,405.8 140.9,410.3 147.3,407.1 138.9,402.7"/><polygon color="#2dff00" points="147.3,407.1 155.7,411.4 162.1,408 153.7,403.8"/><polygon color="#25ff00" points="162.1,408 170.4,412.1 176.7,408.5 168.5,404.6"/><polygon color="#20ff00" points="176.7,408.5 184.9,412.4 191.3,408.7 183.1,404.9"/><polygon color="#1eff00" points="191.3,408.7 199.4,412.4 205.7,408.4 197.6,404.8"/><polygon color="#1fff00" points="205.7,408.4 213.7,411.9 220.1,407.8 212.1,404.4"/><polygon color="#24ff00" points="220.1,407.8 228.1,411.2 234.5,406.9 226.5,403.6"/><polygon color="#2aff00" points="234.5,406.9 242.4,410.1 248.9,405.7 240.9,402.6"/><polygon color="#33ff00" points="248.9,405.7 256.8,408.8 263.3,404.2 255.4,401.2"/><polygon color="#3fff00" points="263.3,404.2 271.2,407.2 277.8,402.5 269.9,399.5"/><polygon color="#4cff00" points="277.8,402.5 285.8,405.4 292.4,400.5 284.4,397.6"/><polygon color="#5cff00" points="292.4,400.5 300.4,403.3 307.2,398.3 299.1,395.5"/><polygon color="#31ff00" points="126,408.8 134.5,413.5 140.9,410.3 132.4,405.8"/><polygon color="#24ff00" points="140.9,410.3 149.4,414.8 155.7,411.4 147.3,407.1"/><polygon color="#19ff00" points="155.7,411.4 164,415.6 170.4,412.1 162.1,408"/><polygon color="#13ff00" points="170.4,412.1 178.6,416.1 184.9,412.4 176.7,408.5"/><polygon color="#10ff00" points="184.9,412.4 193,416.2 199.4,412.4 191.3,408.7"/><polygon color="#0fff00" points="199.4,412.4 207.4,415.9 213.7,411.9 205.7,408.4"/><polygon color="#12ff00" points="213.7,411.9 221.7,415.4 228.1,411.2 220.1,407.8"/><polygon color="#17ff00" points="228.1,411.2 236,414.5 242.4,410.1 234.5,406.9"/><polygon color="#1eff00" points="242.4,410.1 250.3,413.3 256.8,408.8 248.9,405.7"/><polygon color="#28ff00" points="256.8,408.8 264.7,411.8 271.2,407.2 263.3,404.2"/><polygon color="#34ff00" points="271.2,407.2 279.1,410.1 285.8,405.4 277.8,402.5"/><polygon color="#43ff00" points="285.8,405.4 293.7,408.2 300.4,403.3 292.4,400.5"/><polygon color="#1bff00" points="134.5,413.5 143,418 149.4,414.8 140.9,410.3"/><polygon color="#10ff00" points="149.4,414.8 157.7,419 164,415.6 155.7,411.4"/><polygon color="#07ff00" points="164,415.6 172.3,419.7 178.6,416.1 170.4,412.1"/><polygon color="#02ff00" points="178.6,416.1 186.7,419.9 193,416.2 184.9,412.4"/><polygon color="#00ff00" points="193,416.2 201.1,419.9 207.4,415.9 199.4,412.4"/><polygon color="#01ff00" points="207.4,415.9 215.4,419.4 221.7,415.4 213.7,411.9"/><polygon color="#05ff00" points="221.7,415.4 229.7,418.7 236,414.5 228.1,411.2"/><polygon color="#0bff00" points="236,414.5 243.9,417.7 250.3,413.3 242.4,410.1"/><polygon color="#13ff00" points="250.3,413.3 258.2,416.3 264.7,411.8 256.8,408.8"/><polygon color="#1eff00" points="264.7,411.8 272.6,414.8 279.1,410.1 271.2,407.2"/><polygon color="#2bff00" points="279.1,410.1 287,413 293.7,408.2 285.8,405.4"/><polygon color="#07ff00" points="143,418 151.4,422.4 157.7,419 149.4,414.8"/><polygon color="#00ff02" points="157.7,419 166,423.2 172.3,419.7 164,415.6"/><polygon color="#00ff09" points="172.3,419.7 180.4,423.6 186.7,419.9 178.6,416.1"/><polygon color="#00ff0c" points="186.7,419.9 194.8,423.7 201.1,419.9 193,416.2"/><polygon color="#00ff0d" points="201.1,419.9 209.1,423.4 215.4,419.4 207.4,415.9"/><polygon color="#00ff0b" points="215.4,419.4 223.3,422.8 229.7,418.7 221.7,415.4"/><polygon color="#00ff06" points="229.7,418.7 237.5,421.9 243.9,417.7 236,414.5"/><polygon color="#00ff00" points="243.9,417.7 251.8,420.8 258.2,416.3 250.3,413.3"/><polygon color="#09ff00" points="258.2,416.3 266,419.3 272.6,414.8 264.7,411.8"/><polygon color="#14ff00" points="272.6,414.8 280.4,417.7 287,413 279.1,410.1"/><polygon color="#00ff0b" points="151.4,422.4 159.7,426.6 166,423.2 157.7,419"/><polygon color="#00ff14" points="166,423.2 174.1,427.2 180.4,423.6 172.3,419.7"/><polygon color="#00ff19" points="180.4,423.6 188.5,427.4 194.8,423.7 186.7,419.9"/><polygon color="#00ff1b" points="194.8,423.7 202.8,427.3 209.1,423.4 201.1,419.9"/><polygon color="#00ff1a" points="209.1,423.4 217,426.8 223.3,422.8 215.4,419.4"/><polygon color="#00ff17" points="223.3,422.8 231.2,426.1 237.5,421.9 229.7,418.7"/><polygon color="#00ff11" points="237.5,421.9 245.3,425.1 251.8,420.8 243.9,417.7"/><polygon color="#00ff0a" points="251.8,420.8 259.5,423.8 266,419.3 258.2,416.3"/><polygon color="#00ff00" points="266,419.3 273.8,422.3 280.4,417.7 272.6,414.8"/><polygon color="#00ff1d" points="159.7,426.6 167.9,430.7 174.1,427.2 166,423.2"/><polygon color="#00ff24" points="174.1,427.2 182.3,431.1 188.5,427.4 180.4,423.6"/><polygon color="#00ff27" points="188.5,427.4 196.5,431.1 202.8,427.3 194.8,423.7"/><polygon color="#00ff28" points="202.8,427.3 210.7,430.8 217,426.8 209.1,423.4"/><polygon color="#00ff26" points="217,426.8 224.8,430.2 231.2,426.1 223.3,422.8"/><polygon color="#00ff22" points="231.2,426.1 239,429.3 245.3,425.1 237.5,421.9"/><polygon color="#00ff1c" points="245.3,425.1 253.1,428.1 259.5,423.8 251.8,420.8"/><polygon color="#00ff13" points="259.5,423.8 267.3,426.8 273.8,422.3 266,419.3"/><polygon color="#00ff2e" points="167.9,430.7 176,434.6 182.3,431.1 174.1,427.2"/><polygon color="#00ff33" points="182.3,431.1 190.3,434.8 196.5,431.1 188.5,427.4"/><polygon color="#00ff35" points="196.5,431.1 204.4,434.6 210.7,430.8 202.8,427.3"/><polygon color="#00ff34" points="210.7,430.8 218.5,434.2 224.8,430.2 217,426.8"/><polygon color="#00ff32" points="224.8,430.2 232.6,433.4 239,429.3 231.2,426.1"/><polygon color="#00ff2c" points="239,429.3 246.7,432.4 253.1,428.1 245.3,425.1"/><polygon color="#00ff25" points="253.1,428.1 260.8,431.1 267.3,426.8 259.5,423.8"/><polygon color="#00ff3d" points="176,434.6 184.1,438.4 190.3,434.8 182.3,431.1"/><polygon color="#00ff40" points="190.3,434.8 198.2,438.4 204.4,434.6 196.5,431.1"/><polygon color="#00ff41" points="204.4,434.6 212.3,438 218.5,434.2 210.7,430.8"/><polygon color="#00ff40" points="218.5,434.2 226.3,437.4 232.6,433.4 224.8,430.2"/><polygon color="#00ff3c" points="232.6,433.4 240.3,436.5 246.7,432.4 239,429.3"/><polygon color="#00ff36" points="246.7,432.4 254.4,435.4 260.8,431.1 253.1,428.1"/><polygon color="#00ff4a" points="184.1,438.4 192,442 198.2,438.4 190.3,434.8"/><polygon color="#00ff4c" points="198.2,438.4 206.1,441.8 212.3,438 204.4,434.6"/><polygon color="#00ff4c" points="212.3,438 220.1,441.3 226.3,437.4 218.5,434.2"/><polygon color="#00ff4a" points="226.3,437.4 234,440.5 240.3,436.5 232.6,433.4"/><polygon color="#00ff45" points="240.3,436.5 248,439.5 254.4,435.4 246.7,432.4"/><polygon color="#00ff56" points="192,442 199.9,445.5 206.1,441.8 198.2,438.4"/><polygon color="#00ff57" points="206.1,441.8 213.9,445.1 220.1,441.3 212.3,438"/><polygon color="#00ff56" points="220.1,441.3 227.8,444.5 234,440.5 226.3,437.4"/><polygon color="#00ff53" points="234,440.5 241.7,443.6 248,439.5 240.3,436.5"/><polygon color="#00ff61" points="199.9,445.5 207.7,448.8 213.9,445.1 206.1,441.8"/><polygon color="#00ff61" points="213.9,445.1 221.6,448.3 227.8,444.5 220.1,441.3"/><polygon color="#00ff5f" points="227.8,444.5 235.4,447.5 241.7,443.6 234,440.5"/><polygon color="#00ff6b" points="207.7,448.8 215.4,452 221.6,448.3 213.9,445.1"/><polygon color="#00ff69" points="221.6,448.3 229.2,451.3 235.4,447.5 227.8,444.5"/><polygon color="#00ff73" points="215.4,452 223,455 229.2,451.3 221.6,448.3"/></g>
<g fill="none" stroke="#000" stroke-opacity="0.55" stroke-width="0.85"><path d="M54.5,365.9Q124.2,349.1 193,320"/><path d="M54.5,365.9Q147.2,425.6 223,455"/><path d="M56.6,367.2Q126.1,349.9 194.7,320.4"/><path d="M56.8,365.3Q149.3,424.3 225,453.8"/><path d="M58.6,368.6Q128,350.8 196.4,320.7"/><path d="M59.1,364.8Q151.3,423.1 227.1,452.6"/><path d="M60.7,369.9Q129.9,351.7 198.2,321.1"/><path d="M61.4,364.2Q153.3,421.8 229.1,451.3"/><path d="M62.8,371.2Q131.8,352.6 199.9,321.5"/><path d="M63.7,363.6Q155.4,420.6 231.2,450.1"/><path d="M64.9,372.5Q133.8,353.4 201.7,321.8"/><path d="M66,363Q157.4,419.3 233.2,448.8"/><path d="M67,373.9Q135.7,354.3 203.5,322.2"/><path d="M68.2,362.5Q159.3,418 235.2,447.6"/><path d="M69.2,375.2Q137.6,355.2 205.3,322.6"/><path d="M70.5,361.9Q161.3,416.8 237.2,446.3"/><path d="M71.3,376.5Q139.6,356.1 207.1,323"/><path d="M72.7,361.3Q163.3,415.5 239.3,445.1"/><path d="M73.4,377.9Q141.6,357 208.9,323.4"/><path d="M75,360.7Q165.3,414.3 241.3,443.8"/><path d="M75.6,379.2Q143.5,357.9 210.7,323.8"/><path d="M77.2,360.1Q167.2,413 243.3,442.5"/><path d="M77.8,380.6Q145.5,358.8 212.6,324.2"/><path d="M79.4,359.5Q169.2,411.7 245.3,441.3"/><path d="M79.9,381.9Q147.5,359.8 214.4,324.6"/><path d="M81.6,358.9Q171.1,410.5 247.3,440"/><path d="M82.1,383.2Q149.5,360.7 216.3,325"/><path d="M83.8,358.3Q173,409.2 249.3,438.7"/><path d="M84.3,384.6Q151.5,361.6 218.2,325.4"/><path d="M85.9,357.7Q174.9,407.9 251.3,437.4"/><path d="M86.5,385.9Q153.6,362.5 220.1,325.9"/><path d="M88.1,357.1Q176.8,406.7 253.3,436.1"/><path d="M88.7,387.2Q155.6,363.4 222.1,326.3"/><path d="M90.3,356.4Q178.7,405.4 255.2,434.8"/><path d="M90.9,388.6Q157.7,364.4 224,326.7"/><path d="M92.4,355.8Q180.6,404.1 257.2,433.5"/><path d="M93.2,389.9Q159.7,365.3 226,327.2"/><path d="M94.5,355.2Q182.5,402.9 259.2,432.2"/><path d="M95.4,391.2Q161.8,366.2 227.9,327.6"/><path d="M96.6,354.6Q184.4,401.6 261.2,430.9"/><path d="M97.6,392.5Q163.9,367.2 229.9,328.1"/><path d="M98.7,354Q186.2,400.3 263.1,429.6"/><path d="M99.9,393.9Q166,368.1 231.9,328.5"/><path d="M100.8,353.3Q188.1,399 265.1,428.3"/><path d="M102.1,395.2Q168.1,369 233.9,329"/><path d="M102.9,352.7Q189.9,397.8 267,426.9"/><path d="M104.4,396.5Q170.2,370 236,329.4"/><path d="M105,352.1Q191.7,396.5 269,425.6"/><path d="M106.7,397.8Q172.3,370.9 238,329.9"/><path d="M107.1,351.4Q193.6,395.2 270.9,424.3"/><path d="M109,399.2Q174.4,371.9 240.1,330.4"/><path d="M109.1,350.8Q195.4,393.9 272.8,423"/><path d="M111.2,400.5Q176.6,372.8 242.2,330.9"/><path d="M111.1,350.2Q197.2,392.7 274.8,421.6"/><path d="M113.5,401.8Q178.7,373.8 244.3,331.4"/><path d="M113.2,349.5Q198.9,391.4 276.7,420.3"/><path d="M115.8,403.1Q180.9,374.8 246.4,331.9"/><path d="M115.2,348.9Q200.7,390.1 278.6,419"/><path d="M118.2,404.4Q183,375.7 248.5,332.4"/><path d="M117.2,348.2Q202.5,388.9 280.5,417.6"/><path d="M120.5,405.7Q185.2,376.7 250.7,332.9"/><path d="M119.2,347.6Q204.3,387.6 282.4,416.3"/><path d="M122.8,407Q187.4,377.6 252.8,333.4"/><path d="M121.2,346.9Q206,386.3 284.3,414.9"/><path d="M125.1,408.3Q189.6,378.6 255,333.9"/><path d="M123.1,346.3Q207.7,385.1 286.2,413.6"/><path d="M127.5,409.6Q191.8,379.6 257.2,334.4"/><path d="M125.1,345.6Q209.5,383.8 288.1,412.2"/><path d="M129.8,410.9Q194,380.6 259.4,334.9"/><path d="M127.1,345Q211.2,382.5 289.9,410.9"/><path d="M132.2,412.2Q196.2,381.5 261.6,335.5"/><path d="M129,344.3Q212.9,381.3 291.8,409.5"/><path d="M134.5,413.5Q198.5,382.5 263.9,336"/><path d="M130.9,343.7Q214.6,380 293.7,408.2"/><path d="M136.9,414.7Q200.7,383.5 266.1,336.6"/><path d="M132.8,343Q216.3,378.7 295.5,406.8"/><path d="M139.3,416Q203,384.5 268.4,337.1"/><path d="M134.7,342.4Q218,377.5 297.4,405.5"/><path d="M141.7,417.3Q205.2,385.4 270.7,337.7"/><path d="M136.6,341.7Q219.7,376.2 299.2,404.1"/><path d="M144,418.5Q207.5,386.4 273,338.2"/><path d="M138.5,341Q221.3,374.9 301.1,402.8"/><path d="M146.4,419.8Q209.8,387.4 275.3,338.8"/><path d="M140.4,340.4Q223,373.7 302.9,401.4"/><path d="M148.8,421.1Q212.1,388.4 277.7,339.4"/><path d="M142.3,339.7Q224.6,372.4 304.7,400.1"/><path d="M151.2,422.3Q214.3,389.4 280,340"/><path d="M144.1,339.1Q226.3,371.2 306.5,398.7"/><path d="M153.6,423.5Q216.7,390.4 282.4,340.6"/><path d="M145.9,338.4Q227.9,369.9 308.4,397.4"/><path d="M156.1,424.8Q219,391.4 284.8,341.2"/><path d="M147.8,337.8Q229.5,368.7 310.2,396"/><path d="M158.5,426Q221.3,392.4 287.2,341.8"/><path d="M149.6,337.1Q231.1,367.4 312,394.7"/><path d="M160.9,427.2Q223.6,393.4 289.6,342.4"/><path d="M151.4,336.4Q232.7,366.2 313.7,393.3"/><path d="M163.3,428.4Q226,394.4 292.1,343"/><path d="M153.2,335.8Q234.3,364.9 315.5,392"/><path d="M165.8,429.6Q228.3,395.4 294.5,343.6"/><path d="M155,335.1Q235.9,363.7 317.3,390.6"/><path d="M168.2,430.8Q230.7,396.4 297,344.3"/><path d="M156.8,334.4Q237.4,362.5 319.1,389.3"/><path d="M170.7,432Q233,397.4 299.5,344.9"/><path d="M158.5,333.8Q239,361.2 320.8,387.9"/><path d="M173.1,433.2Q235.4,398.4 302,345.5"/><path d="M160.3,333.1Q240.5,360 322.6,386.6"/><path d="M175.6,434.4Q237.8,399.4 304.5,346.2"/><path d="M162,332.5Q242.1,358.8 324.3,385.2"/><path d="M178,435.6Q240.2,400.4 307.1,346.9"/><path d="M163.7,331.8Q243.6,357.5 326.1,383.9"/><path d="M180.5,436.7Q242.6,401.4 309.7,347.5"/><path d="M165.5,331.1Q245.1,356.3 327.8,382.5"/><path d="M183,437.9Q245,402.4 312.2,348.2"/><path d="M167.2,330.5Q246.6,355.1 329.5,381.2"/><path d="M185.5,439Q247.4,403.4 314.8,348.9"/><path d="M168.9,329.8Q248.1,353.9 331.2,379.8"/><path d="M187.9,440.2Q249.8,404.4 317.5,349.6"/><path d="M170.5,329.2Q249.6,352.6 332.9,378.5"/><path d="M190.4,441.3Q252.2,405.4 320.1,350.3"/><path d="M172.2,328.5Q251.1,351.4 334.6,377.2"/><path d="M192.9,442.4Q254.7,406.4 322.7,351"/><path d="M173.9,327.8Q252.6,350.2 336.3,375.8"/><path d="M195.4,443.5Q257.1,407.4 325.4,351.7"/><path d="M175.5,327.2Q254,349 338,374.5"/><path d="M197.9,444.6Q259.6,408.4 328.1,352.4"/><path d="M177.2,326.5Q255.5,347.8 339.7,373.2"/><path d="M200.4,445.7Q262,409.4 330.8,353.1"/><path d="M178.8,325.9Q256.9,346.6 341.4,371.8"/><path d="M202.9,446.8Q264.5,410.4 333.5,353.9"/><path d="M180.4,325.2Q258.4,345.4 343,370.5"/><path d="M205.4,447.8Q267,411.4 336.3,354.6"/><path d="M182,324.6Q259.8,344.2 344.7,369.2"/><path d="M207.9,448.9Q269.5,412.4 339,355.3"/><path d="M183.6,323.9Q261.2,343 346.3,367.9"/><path d="M210.4,449.9Q271.9,413.5 341.8,356.1"/><path d="M185.2,323.2Q262.6,341.9 347.9,366.5"/><path d="M212.9,451Q274.4,414.5 344.6,356.9"/><path d="M186.8,322.6Q264,340.7 349.6,365.2"/><path d="M215.4,452Q276.9,415.5 347.4,357.6"/><path d="M188.4,321.9Q265.4,339.5 351.2,363.9"/><path d="M218,453Q279.5,416.5 350.3,358.4"/><path d="M189.9,321.3Q266.8,338.3 352.8,362.6"/><path d="M220.5,454Q282,417.5 353.1,359.2"/><path d="M191.5,320.6Q268.1,337.2 354.4,361.3"/><path d="M223,455Q284.5,418.5 356,360"/><path d="M193,320Q269.5,336 356,360"/></g>
<ellipse cx="55" cy="377" rx="2.8" ry="1.9" fill="#ffb4bc" stroke="#b07070" stroke-width="0.4"/>
<ellipse cx="223" cy="462" rx="2.8" ry="1.9" fill="#ffb4bc" stroke="#b07070" stroke-width="0.4"/>
<ellipse cx="356" cy="360" rx="2.8" ry="1.9" fill="#e60000" stroke="#701010" stroke-width="0.4"/>
<ellipse cx="206.6" cy="366.6" rx="2.8" ry="1.9" fill="#e60000" stroke="#701010" stroke-width="0.4"/>
<ellipse cx="206.6" cy="371.4" rx="2.8" ry="1.9" fill="#e60000" stroke="#701010" stroke-width="0.4"/>
<path d="M206.6,372L206.6,382" stroke="#222" stroke-width="0.5"/>
<path d="M223,455L223,462" stroke="#222" stroke-width="0.5"/>
<path d="M55,366L55,377" stroke="#222" stroke-width="0.5"/>
<g font-size="6.4" font-weight="bold" fill="#000" stroke="#000" stroke-width="0.35"><text x="48.5" y="341.7" text-anchor="end" textLength="9.4" lengthAdjust="spacingAndGlyphs">160</text><text x="50.2" y="361.5" text-anchor="end" textLength="9.4" lengthAdjust="spacingAndGlyphs">159</text><text x="51.8" y="381.3" text-anchor="end" textLength="9.4" lengthAdjust="spacingAndGlyphs">158</text><text x="53.5" y="401.1" text-anchor="end" textLength="9.4" lengthAdjust="spacingAndGlyphs">157</text><text x="55.2" y="420.9" text-anchor="end" textLength="9.4" lengthAdjust="spacingAndGlyphs">156</text><text x="56.8" y="440.8" text-anchor="end" textLength="9.4" lengthAdjust="spacingAndGlyphs">155</text><text x="59.7" y="477.9" text-anchor="end" textLength="11.7" lengthAdjust="spacingAndGlyphs">1.00</text><text x="99.5" y="489.6" text-anchor="end" textLength="11.7" lengthAdjust="spacingAndGlyphs">0.50</text><text x="139.2" y="501.4" text-anchor="end" textLength="11.7" lengthAdjust="spacingAndGlyphs">0.00</text><text x="178.9" y="513.1" text-anchor="end" textLength="13.7" lengthAdjust="spacingAndGlyphs">-0.50</text><text x="218.7" y="524.9" text-anchor="end" textLength="13.7" lengthAdjust="spacingAndGlyphs">-1.00</text><text x="225.6" y="525.1" textLength="13.7" lengthAdjust="spacingAndGlyphs">-1.00</text><text x="256.9" y="511.1" textLength="13.7" lengthAdjust="spacingAndGlyphs">-0.50</text><text x="288.1" y="497.1" textLength="11.7" lengthAdjust="spacingAndGlyphs">0.00</text><text x="319.4" y="483.1" textLength="11.7" lengthAdjust="spacingAndGlyphs">0.50</text><text x="350.6" y="469.1" textLength="11.7" lengthAdjust="spacingAndGlyphs">1.00</text></g>
<g font-size="9" fill="#111" stroke="#000" stroke-width="0.5"><text x="58" y="519.6" textLength="70" lengthAdjust="spacingAndGlyphs">D: Ultrasonic time</text><text x="289" y="510.8" textLength="109" lengthAdjust="spacingAndGlyphs" xml:space="preserve">A:  Ionic liquid concentration</text><text transform="translate(7.5,451.5) rotate(-90)" textLength="84.0" lengthAdjust="spacingAndGlyphs">Total Extraction Yield</text></g>
<text x="176" y="567" text-anchor="middle" font-family="'Liberation Serif',serif" font-size="20" fill="#000">(<tspan font-weight="bold">C</tspan>)</text>
</g>
<g id="pD">
<polygon points="473,478 644,516 734,456 575.6,428.5" fill="#ffff00"/>
<path d="M542.8,459.3a19.5,4.1 0 1,0 39,0a19.5,4.1 0 1,0 -39,0" fill="none" stroke="#7eea40" stroke-width="0.7"/>
<path d="M515,487Q580,492 640,487Q700,478 715.6,461.3Q712,452 668.5,445.2" fill="none" stroke="#7eea40" stroke-width="0.7"/>
<path d="M598,502.3Q630,503.5 665,500.3" fill="none" stroke="#7eea40" stroke-width="0.7"/>
<path d="M473,478L575.6,428.5L734,456" fill="none" stroke="#555" stroke-width="0.5"/>
<path d="M489.6,346.2L496.5,437.4M617.7,323.9L615.8,409M518.3,336.9L522.9,425.7M659.8,329.2L656,415.5M547,327.7L549.2,414.1M701.9,334.6L696.2,422M575.6,318.5L575.6,428.5M744,340L734,456M461,355.4L575.6,318.5L744,340M462.5,371L575.6,332.5L742.7,354.8M464,386.5L575.6,346.4L741.5,369.4M465.6,402L575.6,360.3L740.2,384.1M467.1,418L575.6,374.7L738.9,399.2M468.6,433.5L575.6,388.6L737.6,413.9M470.2,449L575.6,402.5L736.4,428.6" fill="none" stroke="#3c3c3c" stroke-width="0.75"/>
<path d="M461,355.4L473,478L644,516L734,456" fill="none" stroke="#111" stroke-width="0.75"/>
<path d="M461,355.4l-1.6,0.4M462.5,371l-1.6,0.4M464,386.5l-1.6,0.4M465.6,402l-1.6,0.4M467.1,418l-1.6,0.4M468.6,433.5l-1.6,0.4M470.2,449l-1.6,0.4M473,478l-1.3,1.0M644,516l1.3,1.0M515.8,487.5l-1.3,1.0M666.5,501l1.3,1.0M558.5,497l-1.3,1.0M689,486l1.3,1.0M601.2,506.5l-1.3,1.0M711.5,471l1.3,1.0M644,516l-1.3,1.0M734,456l1.3,1.0" fill="none" stroke="#000" stroke-width="1.3"/>
<g fill="currentColor" stroke="currentColor" stroke-width="0.6"><polygon color="#008447" points="570.4,370.2 578.4,369.9 583.6,371.8 575.6,372"/><polygon color="#006222" points="565.2,368.8 573.1,368.3 578.4,369.9 570.4,370.2"/><polygon color="#008840" points="578.4,369.9 586.4,369.7 591.6,371.8 583.6,371.8"/><polygon color="#00410c" points="559.9,367.6 567.9,367.1 573.1,368.3 565.2,368.8"/><polygon color="#005e1b" points="573.1,368.3 581.1,368.1 586.4,369.7 578.4,369.9"/><polygon color="#008637" points="586.4,369.7 594.4,369.7 599.6,371.8 591.6,371.8"/><polygon color="#002501" points="554.6,366.8 562.6,366.3 567.9,367.1 559.9,367.6"/><polygon color="#003a07" points="567.9,367.1 575.9,366.8 581.1,368.1 573.1,368.3"/><polygon color="#005714" points="581.1,368.1 589.2,368 594.4,369.7 586.4,369.7"/><polygon color="#007f2d" points="594.4,369.7 602.4,369.9 607.6,372 599.6,371.8"/><polygon color="#011000" points="549.2,366.4 557.3,365.8 562.6,366.3 554.6,366.8"/><polygon color="#001c00" points="562.6,366.3 570.7,366 575.9,366.8 567.9,367.1"/><polygon color="#003003" points="575.9,366.8 584,366.8 589.2,368 581.1,368.1"/><polygon color="#004d0d" points="589.2,368 597.2,368.2 602.4,369.9 594.4,369.7"/><polygon color="#007324" points="602.4,369.9 610.4,370.3 615.6,372.4 607.6,372"/><polygon color="#000300" points="543.8,366.2 552,365.7 557.3,365.8 549.2,366.4"/><polygon color="#010800" points="557.3,365.8 565.4,365.5 570.7,366 562.6,366.3"/><polygon color="#011300" points="570.7,366 578.7,365.9 584,366.8 575.9,366.8"/><polygon color="#002500" points="584,366.8 592,366.9 597.2,368.2 589.2,368"/><polygon color="#003f08" points="597.2,368.2 605.3,368.6 610.4,370.3 602.4,369.9"/><polygon color="#00631b" points="610.4,370.3 618.5,370.8 623.6,372.8 615.6,372.4"/><polygon color="#000100" points="538.4,366.4 546.6,365.9 552,365.7 543.8,366.2"/><polygon color="#000100" points="552,365.7 560.1,365.4 565.4,365.5 557.3,365.8"/><polygon color="#000300" points="565.4,365.5 573.5,365.4 578.7,365.9 570.7,366"/><polygon color="#010a00" points="578.7,365.9 586.8,366.1 592,366.9 584,366.8"/><polygon color="#001900" points="592,366.9 600.1,367.3 605.3,368.6 597.2,368.2"/><polygon color="#003105" points="605.3,368.6 613.3,369.1 618.5,370.8 610.4,370.3"/><polygon color="#005113" points="618.5,370.8 626.6,371.4 631.7,373.4 623.6,372.8"/><polygon color="#000100" points="533,367 541.3,366.5 546.6,365.9 538.4,366.4"/><polygon color="#000100" points="546.6,365.9 554.8,365.7 560.1,365.4 552,365.7"/><polygon color="#000100" points="560.1,365.4 568.3,365.4 573.5,365.4 565.4,365.5"/><polygon color="#000100" points="573.5,365.4 581.7,365.7 586.8,366.1 578.7,365.9"/><polygon color="#000400" points="586.8,366.1 595,366.5 600.1,367.3 592,366.9"/><polygon color="#000e00" points="600.1,367.3 608.2,368 613.3,369.1 605.3,368.6"/><polygon color="#002102" points="613.3,369.1 621.4,369.9 626.6,371.4 618.5,370.8"/><polygon color="#003c0d" points="626.6,371.4 634.7,372.3 639.8,374.2 631.7,373.4"/><polygon color="#020600" points="527.5,367.8 535.9,367.4 541.3,366.5 533,367"/><polygon color="#010300" points="541.3,366.5 549.5,366.3 554.8,365.7 546.6,365.9"/><polygon color="#000100" points="554.8,365.7 563.1,365.7 568.3,365.4 560.1,365.4"/><polygon color="#000100" points="568.3,365.4 576.5,365.7 581.7,365.7 573.5,365.4"/><polygon color="#000100" points="581.7,365.7 589.8,366.2 595,366.5 586.8,366.1"/><polygon color="#000100" points="595,366.5 603.1,367.2 608.2,368 600.1,367.3"/><polygon color="#000500" points="608.2,368 616.3,368.8 621.4,369.9 613.3,369.1"/><polygon color="#001301" points="621.4,369.9 629.6,370.9 634.7,372.3 626.6,371.4"/><polygon color="#002708" points="634.7,372.3 642.8,373.3 647.9,375 639.8,374.2"/><polygon color="#0e1c00" points="522,369 530.4,368.8 535.9,367.4 527.5,367.8"/><polygon color="#0a1500" points="535.9,367.4 544.2,367.4 549.5,366.3 541.3,366.5"/><polygon color="#060d00" points="549.5,366.3 557.8,366.5 563.1,365.7 554.8,365.7"/><polygon color="#020500" points="563.1,365.7 571.3,366.1 576.5,365.7 568.3,365.4"/><polygon color="#000200" points="576.5,365.7 584.7,366.3 589.8,366.2 581.7,365.7"/><polygon color="#000100" points="589.8,366.2 598,367 603.1,367.2 595,366.5"/><polygon color="#000100" points="603.1,367.2 611.3,368.2 616.3,368.8 608.2,368"/><polygon color="#000100" points="616.3,368.8 624.5,369.9 629.6,370.9 621.4,369.9"/><polygon color="#000700" points="629.6,370.9 637.7,372 642.8,373.3 634.7,372.3"/><polygon color="#001504" points="642.8,373.3 650.9,374.5 656,376 647.9,375"/><polygon color="#244300" points="516.5,370.5 525,370.4 530.4,368.8 522,369"/><polygon color="#203900" points="530.4,368.8 538.9,368.8 544.2,367.4 535.9,367.4"/><polygon color="#182d00" points="544.2,367.4 552.6,367.7 557.8,366.5 549.5,366.3"/><polygon color="#101f00" points="557.8,366.5 566.1,367 571.3,366.1 563.1,365.7"/><polygon color="#081200" points="571.3,366.1 579.6,366.8 584.7,366.3 576.5,365.7"/><polygon color="#020700" points="584.7,366.3 592.9,367.1 598,367 589.8,366.2"/><polygon color="#000200" points="598,367 606.2,368 611.3,368.2 603.1,367.2"/><polygon color="#000100" points="611.3,368.2 619.4,369.4 624.5,369.9 616.3,368.8"/><polygon color="#000100" points="624.5,369.9 632.6,371.2 637.7,372 629.6,370.9"/><polygon color="#000100" points="637.7,372 645.9,373.4 650.9,374.5 642.8,373.3"/><polygon color="#000601" points="650.9,374.5 659.1,375.8 664.1,377.1 656,376"/><polygon color="#467d00" points="510.9,372.4 519.5,372.5 525,370.4 516.5,370.5"/><polygon color="#417100" points="525,370.4 533.6,370.7 538.9,368.8 530.4,368.8"/><polygon color="#386100" points="538.9,368.8 547.4,369.2 552.6,367.7 544.2,367.4"/><polygon color="#2b4e00" points="552.6,367.7 561,368.2 566.1,367 557.8,366.5"/><polygon color="#1e3a00" points="566.1,367 574.5,367.7 579.6,366.8 571.3,366.1"/><polygon color="#112600" points="579.6,366.8 587.8,367.8 592.9,367.1 584.7,366.3"/><polygon color="#081500" points="592.9,367.1 601.1,368.3 606.2,368 598,367"/><polygon color="#020800" points="606.2,368 614.4,369.4 619.4,369.4 611.3,368.2"/><polygon color="#000200" points="619.4,369.4 627.6,370.9 632.6,371.2 624.5,369.9"/><polygon color="#000100" points="632.6,371.2 640.8,372.8 645.9,373.4 637.7,372"/><polygon color="#000100" points="645.9,373.4 654,375 659.1,375.8 650.9,374.5"/><polygon color="#000100" points="659.1,375.8 667.2,377.3 672.3,378.4 664.1,377.1"/><polygon color="#68b800" points="505.3,374.5 514.1,374.9 519.5,372.5 510.9,372.4"/><polygon color="#67b000" points="519.5,372.5 528.2,372.9 533.6,370.7 525,370.4"/><polygon color="#62a500" points="533.6,370.7 542.1,371.2 547.4,369.2 538.9,368.8"/><polygon color="#569300" points="547.4,369.2 555.8,370 561,368.2 552.6,367.7"/><polygon color="#447800" points="561,368.2 569.3,369.2 574.5,367.7 566.1,367"/><polygon color="#305d00" points="574.5,367.7 582.8,368.8 587.8,367.8 579.6,366.8"/><polygon color="#1f4300" points="587.8,367.8 596.1,369.1 601.1,368.3 592.9,367.1"/><polygon color="#102c00" points="601.1,368.3 609.4,369.8 614.4,369.4 606.2,368"/><polygon color="#071800" points="614.4,369.4 622.6,371 627.6,370.9 619.4,369.4"/><polygon color="#010b00" points="627.6,370.9 635.8,372.6 640.8,372.8 632.6,371.2"/><polygon color="#000300" points="640.8,372.8 649,374.6 654,375 645.9,373.4"/><polygon color="#000100" points="654,375 662.2,376.7 667.2,377.3 659.1,375.8"/><polygon color="#000100" points="667.2,377.3 675.4,379 680.4,379.7 672.3,378.4"/><polygon color="#7ce300" points="499.6,377 508.5,377.6 514.1,374.9 505.3,374.5"/><polygon color="#7edb00" points="514.1,374.9 522.8,375.5 528.2,372.9 519.5,372.5"/><polygon color="#7cd000" points="528.2,372.9 536.8,373.6 542.1,371.2 533.6,370.7"/><polygon color="#74c200" points="542.1,371.2 550.6,372.1 555.8,370 547.4,369.2"/><polygon color="#69b200" points="555.8,370 564.2,371 569.3,369.2 561,368.2"/><polygon color="#59a000" points="569.3,369.2 577.7,370.4 582.8,368.8 574.5,367.7"/><polygon color="#468900" points="582.8,368.8 591.1,370.3 596.1,369.1 587.8,367.8"/><polygon color="#2e6900" points="596.1,369.1 604.4,370.7 609.4,369.8 601.1,368.3"/><polygon color="#1b4b00" points="609.4,369.8 617.7,371.5 622.6,371 614.4,369.4"/><polygon color="#0d3300" points="622.6,371 630.9,372.9 635.8,372.6 627.6,370.9"/><polygon color="#041f00" points="635.8,372.6 644.1,374.6 649,374.6 640.8,372.8"/><polygon color="#001100" points="649,374.6 657.3,376.6 662.2,376.7 654,375"/><polygon color="#000700" points="662.2,376.7 670.5,378.7 675.4,379 667.2,377.3"/><polygon color="#000300" points="675.4,379 683.6,380.9 688.6,381.2 680.4,379.7"/><polygon color="#82ff00" points="493.9,379.9 503,380.7 508.5,377.6 499.6,377"/><polygon color="#8cff00" points="508.5,377.6 517.4,378.5 522.8,375.5 514.1,374.9"/><polygon color="#91fb00" points="522.8,375.5 531.6,376.4 536.8,373.6 528.2,372.9"/><polygon color="#8dee00" points="536.8,373.6 545.5,374.7 550.6,372.1 542.1,371.2"/><polygon color="#83de00" points="550.6,372.1 559.2,373.3 564.2,371 555.8,370"/><polygon color="#75cc00" points="564.2,371 572.7,372.4 577.7,370.4 569.3,369.2"/><polygon color="#64ba00" points="577.7,370.4 586.1,371.9 591.1,370.3 582.8,368.8"/><polygon color="#50a600" points="591.1,370.3 599.4,372 604.4,370.7 596.1,369.1"/><polygon color="#3c9300" points="604.4,370.7 612.7,372.6 617.7,371.5 609.4,369.8"/><polygon color="#267600" points="617.7,371.5 625.9,373.6 630.9,372.9 622.6,371"/><polygon color="#135800" points="630.9,372.9 639.1,375 644.1,374.6 635.8,372.6"/><polygon color="#074000" points="644.1,374.6 652.3,376.8 657.3,376.6 649,374.6"/><polygon color="#002d00" points="657.3,376.6 665.5,378.8 670.5,378.7 662.2,376.7"/><polygon color="#001f04" points="670.5,378.7 678.7,380.9 683.6,380.9 675.4,379"/><polygon color="#001505" points="683.6,380.9 691.9,382.9 696.8,382.9 688.6,381.2"/><polygon color="#76ff00" points="488.2,383 497.4,384.2 503,380.7 493.9,379.9"/><polygon color="#81ff00" points="503,380.7 512,381.9 517.4,378.5 508.5,377.6"/><polygon color="#8aff00" points="517.4,378.5 526.3,379.7 531.6,376.4 522.8,375.5"/><polygon color="#91ff00" points="531.6,376.4 540.3,377.7 545.5,374.7 536.8,373.6"/><polygon color="#93ff00" points="545.5,374.7 554.1,376 559.2,373.3 550.6,372.1"/><polygon color="#8ef800" points="559.2,373.3 567.7,374.8 572.7,372.4 564.2,371"/><polygon color="#7ee600" points="572.7,372.4 581.1,374 586.1,371.9 577.7,370.4"/><polygon color="#6bd200" points="586.1,371.9 594.5,373.8 599.4,372 591.1,370.3"/><polygon color="#56bf00" points="599.4,372 607.8,374 612.7,372.6 604.4,370.7"/><polygon color="#40ac00" points="612.7,372.6 621,374.8 625.9,373.6 617.7,371.5"/><polygon color="#2b9a00" points="625.9,373.6 634.2,375.9 639.1,375 630.9,372.9"/><polygon color="#188900" points="639.1,375 647.4,377.5 652.3,376.8 644.1,374.6"/><polygon color="#077000" points="652.3,376.8 660.6,379.3 665.5,378.8 657.3,376.6"/><polygon color="#005a04" points="665.5,378.8 673.8,381.3 678.7,380.9 670.5,378.7"/><polygon color="#004a0c" points="678.7,380.9 686.9,383.2 691.9,382.9 683.6,380.9"/><polygon color="#003f11" points="691.9,382.9 700.1,385.1 705,384.6 696.8,382.9"/><polygon color="#64ff00" points="482.5,386.5 491.9,388.1 497.4,384.2 488.2,383"/><polygon color="#71ff00" points="497.4,384.2 506.6,385.7 512,381.9 503,380.7"/><polygon color="#7dff00" points="512,381.9 521,383.3 526.3,379.7 517.4,378.5"/><polygon color="#85ff00" points="526.3,379.7 535.1,381.1 540.3,377.7 531.6,376.4"/><polygon color="#8bff00" points="540.3,377.7 549,379.2 554.1,376 545.5,374.7"/><polygon color="#8dff00" points="554.1,376 562.7,377.7 567.7,374.8 559.2,373.3"/><polygon color="#8aff00" points="567.7,374.8 576.2,376.6 581.1,374 572.7,372.4"/><polygon color="#82fe00" points="581.1,374 589.6,376 594.5,373.8 586.1,371.9"/><polygon color="#6dea00" points="594.5,373.8 602.9,376 607.8,374 599.4,372"/><polygon color="#56d700" points="607.8,374 616.2,376.4 621,374.8 612.7,372.6"/><polygon color="#3fc500" points="621,374.8 629.4,377.3 634.2,375.9 625.9,373.6"/><polygon color="#29b500" points="634.2,375.9 642.6,378.6 647.4,377.5 639.1,375"/><polygon color="#14a600" points="647.4,377.5 655.7,380.2 660.6,379.3 652.3,376.8"/><polygon color="#019a00" points="660.6,379.3 668.9,382 673.8,381.3 665.5,378.8"/><polygon color="#00900f" points="673.8,381.3 682.1,384 686.9,383.2 678.7,380.9"/><polygon color="#00891e" points="686.9,383.2 695.2,385.8 700.1,385.1 691.9,382.9"/><polygon color="#00842a" points="700.1,385.1 708.4,387.4 713.2,386.5 705,384.6"/><polygon color="#4fff00" points="476.7,390.4 486.2,392.3 491.9,388.1 482.5,386.5"/><polygon color="#5dff00" points="491.9,388.1 501.2,389.8 506.6,385.7 497.4,384.2"/><polygon color="#6aff00" points="506.6,385.7 515.7,387.3 521,383.3 512,381.9"/><polygon color="#75ff00" points="521,383.3 530,384.9 535.1,381.1 526.3,379.7"/><polygon color="#7eff00" points="535.1,381.1 543.9,382.8 549,379.2 540.3,377.7"/><polygon color="#82ff00" points="549,379.2 557.7,381 562.7,377.7 554.1,376"/><polygon color="#83ff00" points="562.7,377.7 571.3,379.6 576.2,376.6 567.7,374.8"/><polygon color="#7fff00" points="576.2,376.6 584.7,378.8 589.6,376 581.1,374"/><polygon color="#76ff00" points="589.6,376 598.1,378.4 602.9,376 594.5,373.8"/><polygon color="#68ff00" points="602.9,376 611.3,378.5 616.2,376.4 607.8,374"/><polygon color="#52f000" points="616.2,376.4 624.5,379.1 629.4,377.3 621,374.8"/><polygon color="#39df00" points="629.4,377.3 637.7,380.1 642.6,378.6 634.2,375.9"/><polygon color="#21d000" points="642.6,378.6 650.9,381.5 655.7,380.2 647.4,377.5"/><polygon color="#0ac400" points="655.7,380.2 664.1,383.2 668.9,382 660.6,379.3"/><polygon color="#00ba0a" points="668.9,382 677.2,385.1 682.1,384 673.8,381.3"/><polygon color="#00b41e" points="682.1,384 690.4,386.9 695.2,385.8 686.9,383.2"/><polygon color="#00b231" points="695.2,385.8 703.5,388.6 708.4,387.4 700.1,385.1"/><polygon color="#00b442" points="708.4,387.4 716.6,389.9 721.5,388.6 713.2,386.5"/><polygon color="#35ff00" points="470.9,394.5 480.6,396.8 486.2,392.3 476.7,390.4"/><polygon color="#44ff00" points="486.2,392.3 495.7,394.4 501.2,389.8 491.9,388.1"/><polygon color="#53ff00" points="501.2,389.8 510.5,391.8 515.7,387.3 506.6,385.7"/><polygon color="#61ff00" points="515.7,387.3 524.8,389.2 530,384.9 521,383.3"/><polygon color="#6cff00" points="530,384.9 538.9,386.9 543.9,382.8 535.1,381.1"/><polygon color="#73ff00" points="543.9,382.8 552.7,384.8 557.7,381 549,379.2"/><polygon color="#77ff00" points="557.7,381 566.4,383.1 571.3,379.6 562.7,377.7"/><polygon color="#76ff00" points="571.3,379.6 579.8,381.9 584.7,378.8 576.2,376.6"/><polygon color="#70ff00" points="584.7,378.8 593.2,381.2 598.1,378.4 589.6,376"/><polygon color="#66ff00" points="598.1,378.4 606.5,381 611.3,378.5 602.9,376"/><polygon color="#57ff00" points="611.3,378.5 619.7,381.3 624.5,379.1 616.2,376.4"/><polygon color="#44ff00" points="624.5,379.1 632.9,382.1 637.7,380.1 629.4,377.3"/><polygon color="#2df900" points="637.7,380.1 646.1,383.2 650.9,381.5 642.6,378.6"/><polygon color="#13ec00" points="650.9,381.5 659.2,384.8 664.1,383.2 655.7,380.2"/><polygon color="#00e305" points="664.1,383.2 672.4,386.5 677.2,385.1 668.9,382"/><polygon color="#00dc1d" points="677.2,385.1 685.5,388.3 690.4,386.9 682.1,384"/><polygon color="#00da34" points="690.4,386.9 698.7,390.1 703.5,388.6 695.2,385.8"/><polygon color="#00dd4b" points="703.5,388.6 711.8,391.6 716.6,389.9 708.4,387.4"/><polygon color="#00e360" points="716.6,389.9 724.9,392.6 729.7,390.7 721.5,388.6"/><polygon color="#17ff00" points="465,399 475,401.7 480.6,396.8 470.9,394.5"/><polygon color="#27ff00" points="480.6,396.8 490.3,399.3 495.7,394.4 486.2,392.3"/><polygon color="#38ff00" points="495.7,394.4 505.2,396.6 510.5,391.8 501.2,389.8"/><polygon color="#47ff00" points="510.5,391.8 519.7,393.9 524.8,389.2 515.7,387.3"/><polygon color="#55ff00" points="524.8,389.2 533.8,391.4 538.9,386.9 530,384.9"/><polygon color="#5fff00" points="538.9,386.9 547.8,389 552.7,384.8 543.9,382.8"/><polygon color="#66ff00" points="552.7,384.8 561.5,387.1 566.4,383.1 557.7,381"/><polygon color="#68ff00" points="566.4,383.1 575,385.6 579.8,381.9 571.3,379.6"/><polygon color="#66ff00" points="579.8,381.9 588.4,384.5 593.2,381.2 584.7,378.8"/><polygon color="#5fff00" points="593.2,381.2 601.7,384 606.5,381 598.1,378.4"/><polygon color="#53ff00" points="606.5,381 614.9,384 619.7,381.3 611.3,378.5"/><polygon color="#43ff00" points="619.7,381.3 628.1,384.4 632.9,382.1 624.5,379.1"/><polygon color="#2fff00" points="632.9,382.1 641.3,385.4 646.1,383.2 637.7,380.1"/><polygon color="#17ff00" points="646.1,383.2 654.5,386.7 659.2,384.8 650.9,381.5"/><polygon color="#00ff01" points="659.2,384.8 667.6,388.3 672.4,386.5 664.1,383.2"/><polygon color="#00ff1d" points="672.4,386.5 680.8,390 685.5,388.3 677.2,385.1"/><polygon color="#00ff38" points="685.5,388.3 693.9,391.8 698.7,390.1 690.4,386.9"/><polygon color="#00ff52" points="698.7,390.1 707,393.5 711.8,391.6 703.5,388.6"/><polygon color="#00ff69" points="711.8,391.6 720.2,394.7 724.9,392.6 716.6,389.9"/><polygon color="#00ff7b" points="724.9,392.6 733.3,395.5 738,393 729.7,390.7"/><polygon color="#05ff00" points="475,401.7 484.8,404.6 490.3,399.3 480.6,396.8"/><polygon color="#17ff00" points="490.3,399.3 499.9,401.9 505.2,396.6 495.7,394.4"/><polygon color="#29ff00" points="505.2,396.6 514.5,399.1 519.7,393.9 510.5,391.8"/><polygon color="#39ff00" points="519.7,393.9 528.8,396.3 533.8,391.4 524.8,389.2"/><polygon color="#46ff00" points="533.8,391.4 542.8,393.7 547.8,389 538.9,386.9"/><polygon color="#50ff00" points="547.8,389 556.6,391.5 561.5,387.1 552.7,384.8"/><polygon color="#56ff00" points="561.5,387.1 570.2,389.6 575,385.6 566.4,383.1"/><polygon color="#57ff00" points="575,385.6 583.6,388.3 588.4,384.5 579.8,381.9"/><polygon color="#53ff00" points="588.4,384.5 597,387.4 601.7,384 593.2,381.2"/><polygon color="#4aff00" points="601.7,384 610.2,387.1 614.9,384 606.5,381"/><polygon color="#3dff00" points="614.9,384 623.4,387.2 628.1,384.4 619.7,381.3"/><polygon color="#2cff00" points="628.1,384.4 636.6,387.9 641.3,385.4 632.9,382.1"/><polygon color="#16ff00" points="641.3,385.4 649.7,389 654.5,386.7 646.1,383.2"/><polygon color="#00ff01" points="654.5,386.7 662.8,390.4 667.6,388.3 659.2,384.8"/><polygon color="#00ff1b" points="667.6,388.3 676,392.1 680.8,390 672.4,386.5"/><polygon color="#00ff36" points="680.8,390 689.1,393.9 693.9,391.8 685.5,388.3"/><polygon color="#00ff51" points="693.9,391.8 702.3,395.6 707,393.5 698.7,390.1"/><polygon color="#00ff69" points="707,393.5 715.4,397.1 720.2,394.7 711.8,391.6"/><polygon color="#00ff7d" points="720.2,394.7 728.5,398.1 733.3,395.5 724.9,392.6"/><polygon color="#00ff0c" points="484.8,404.6 494.6,407.6 499.9,401.9 490.3,399.3"/><polygon color="#06ff00" points="499.9,401.9 509.4,404.6 514.5,399.1 505.2,396.6"/><polygon color="#18ff00" points="514.5,399.1 523.8,401.7 528.8,396.3 519.7,393.9"/><polygon color="#28ff00" points="528.8,396.3 537.9,398.9 542.8,393.7 533.8,391.4"/><polygon color="#35ff00" points="542.8,393.7 551.8,396.3 556.6,391.5 547.8,389"/><polygon color="#3eff00" points="556.6,391.5 565.4,394.2 570.2,389.6 561.5,387.1"/><polygon color="#42ff00" points="570.2,389.6 578.9,392.5 583.6,388.3 575,385.6"/><polygon color="#42ff00" points="583.6,388.3 592.2,391.3 597,387.4 588.4,384.5"/><polygon color="#3dff00" points="597,387.4 605.5,390.6 610.2,387.1 601.7,384"/><polygon color="#33ff00" points="610.2,387.1 618.7,390.5 623.4,387.2 614.9,384"/><polygon color="#24ff00" points="623.4,387.2 631.9,390.8 636.6,387.9 628.1,384.4"/><polygon color="#11ff00" points="636.6,387.9 645,391.7 649.7,389 641.3,385.4"/><polygon color="#00ff04" points="649.7,389 658.1,392.9 662.8,390.4 654.5,386.7"/><polygon color="#00ff1d" points="662.8,390.4 671.2,394.5 676,392.1 667.6,388.3"/><polygon color="#00ff38" points="676,392.1 684.4,396.2 689.1,393.9 680.8,390"/><polygon color="#00ff52" points="689.1,393.9 697.5,398 702.3,395.6 693.9,391.8"/><polygon color="#00ff6c" points="702.3,395.6 710.7,399.6 715.4,397.1 707,393.5"/><polygon color="#00ff82" points="715.4,397.1 723.8,400.9 728.5,398.1 720.2,394.7"/><polygon color="#00ff21" points="494.6,407.6 504.2,410.6 509.4,404.6 499.9,401.9"/><polygon color="#00ff0c" points="509.4,404.6 518.8,407.5 523.8,401.7 514.5,399.1"/><polygon color="#05ff00" points="523.8,401.7 533,404.5 537.9,398.9 528.8,396.3"/><polygon color="#15ff00" points="537.9,398.9 546.9,401.7 551.8,396.3 542.8,393.7"/><polygon color="#21ff00" points="551.8,396.3 560.6,399.2 565.4,394.2 556.6,391.5"/><polygon color="#29ff00" points="565.4,394.2 574.2,397.1 578.9,392.5 570.2,389.6"/><polygon color="#2cff00" points="578.9,392.5 587.5,395.6 592.2,391.3 583.6,388.3"/><polygon color="#2aff00" points="592.2,391.3 600.8,394.6 605.5,390.6 597,387.4"/><polygon color="#24ff00" points="605.5,390.6 614,394.1 618.7,390.5 610.2,387.1"/><polygon color="#18ff00" points="618.7,390.5 627.2,394.2 631.9,390.8 623.4,387.2"/><polygon color="#07ff00" points="631.9,390.8 640.3,394.8 645,391.7 636.6,387.9"/><polygon color="#00ff0c" points="645,391.7 653.4,395.8 658.1,392.9 649.7,389"/><polygon color="#00ff23" points="658.1,392.9 666.5,397.2 671.2,394.5 662.8,390.4"/><polygon color="#00ff3d" points="671.2,394.5 679.7,398.8 684.4,396.2 676,392.1"/><polygon color="#00ff57" points="684.4,396.2 692.8,400.6 697.5,398 689.1,393.9"/><polygon color="#00ff71" points="697.5,398 705.9,402.3 710.7,399.6 702.3,395.6"/><polygon color="#00ff8a" points="710.7,399.6 719.1,403.9 723.8,400.9 715.4,397.1"/><polygon color="#00ff37" points="504.2,410.6 513.8,413.8 518.8,407.5 509.4,404.6"/><polygon color="#00ff21" points="518.8,407.5 528.1,410.5 533,404.5 523.8,401.7"/><polygon color="#00ff0e" points="533,404.5 542.1,407.4 546.9,401.7 537.9,398.9"/><polygon color="#00ff00" points="546.9,401.7 555.9,404.7 560.6,399.2 551.8,396.3"/><polygon color="#0bff00" points="560.6,399.2 569.5,402.3 574.2,397.1 565.4,394.2"/><polygon color="#12ff00" points="574.2,397.1 582.9,400.4 587.5,395.6 578.9,392.5"/><polygon color="#14ff00" points="587.5,395.6 596.2,399 600.8,394.6 592.2,391.3"/><polygon color="#10ff00" points="600.8,394.6 609.4,398.2 614,394.1 605.5,390.6"/><polygon color="#07ff00" points="614,394.1 622.5,397.9 627.2,394.2 618.7,390.5"/><polygon color="#00ff05" points="627.2,394.2 635.6,398.2 640.3,394.8 631.9,390.8"/><polygon color="#00ff17" points="640.3,394.8 648.8,399 653.4,395.8 645,391.7"/><polygon color="#00ff2d" points="653.4,395.8 661.9,400.2 666.5,397.2 658.1,392.9"/><polygon color="#00ff45" points="666.5,397.2 675,401.7 679.7,398.8 671.2,394.5"/><polygon color="#00ff5f" points="679.7,398.8 688.1,403.5 692.8,400.6 684.4,396.2"/><polygon color="#00ff7a" points="692.8,400.6 701.2,405.3 705.9,402.3 697.5,398"/><polygon color="#00ff93" points="705.9,402.3 714.4,407 719.1,403.9 710.7,399.6"/><polygon color="#00ff4e" points="513.8,413.8 523.2,417 528.1,410.5 518.8,407.5"/><polygon color="#00ff38" points="528.1,410.5 537.3,413.7 542.1,407.4 533,404.5"/><polygon color="#00ff25" points="542.1,407.4 551.2,410.6 555.9,404.7 546.9,401.7"/><polygon color="#00ff17" points="555.9,404.7 564.8,407.9 569.5,402.3 560.6,399.2"/><polygon color="#00ff0c" points="569.5,402.3 578.2,405.6 582.9,400.4 574.2,397.1"/><polygon color="#00ff07" points="582.9,400.4 591.6,403.9 596.2,399 587.5,395.6"/><polygon color="#00ff07" points="596.2,399 604.8,402.7 609.4,398.2 600.8,394.6"/><polygon color="#00ff0d" points="609.4,398.2 617.9,402.1 622.5,397.9 614,394.1"/><polygon color="#00ff17" points="622.5,397.9 631,402.1 635.6,398.2 627.2,394.2"/><polygon color="#00ff26" points="635.6,398.2 644.1,402.6 648.8,399 640.3,394.8"/><polygon color="#00ff3a" points="648.8,399 657.2,403.6 661.9,400.2 653.4,395.8"/><polygon color="#00ff51" points="661.9,400.2 670.3,404.9 675,401.7 666.5,397.2"/><polygon color="#00ff6a" points="675,401.7 683.4,406.6 688.1,403.5 679.7,398.8"/><polygon color="#00ff84" points="688.1,403.5 696.5,408.4 701.2,405.3 692.8,400.6"/><polygon color="#00ff9f" points="701.2,405.3 709.7,410.3 714.4,407 705.9,402.3"/><polygon color="#00ff67" points="523.2,417 532.5,420.3 537.3,413.7 528.1,410.5"/><polygon color="#00ff51" points="537.3,413.7 546.5,417 551.2,410.6 542.1,407.4"/><polygon color="#00ff3e" points="551.2,410.6 560.2,413.9 564.8,407.9 555.9,404.7"/><polygon color="#00ff30" points="564.8,407.9 573.6,411.3 578.2,405.6 569.5,402.3"/><polygon color="#00ff28" points="578.2,405.6 587,409.2 591.6,403.9 582.9,400.4"/><polygon color="#00ff24" points="591.6,403.9 600.2,407.6 604.8,402.7 596.2,399"/><polygon color="#00ff26" points="604.8,402.7 613.3,406.7 617.9,402.1 609.4,398.2"/><polygon color="#00ff2d" points="617.9,402.1 626.4,406.3 631,402.1 622.5,397.9"/><polygon color="#00ff3a" points="631,402.1 639.5,406.5 644.1,402.6 635.6,398.2"/><polygon color="#00ff4b" points="644.1,402.6 652.6,407.2 657.2,403.6 648.8,399"/><polygon color="#00ff60" points="657.2,403.6 665.6,408.4 670.3,404.9 661.9,400.2"/><polygon color="#00ff78" points="670.3,404.9 678.7,410 683.4,406.6 675,401.7"/><polygon color="#00ff92" points="683.4,406.6 691.9,411.8 696.5,408.4 688.1,403.5"/><polygon color="#00ffad" points="696.5,408.4 705,413.7 709.7,410.3 701.2,405.3"/><polygon color="#00ff81" points="532.5,420.3 541.8,423.8 546.5,417 537.3,413.7"/><polygon color="#00ff6b" points="546.5,417 555.5,420.4 560.2,413.9 551.2,410.6"/><polygon color="#00ff59" points="560.2,413.9 569.1,417.4 573.6,411.3 564.8,407.9"/><polygon color="#00ff4d" points="573.6,411.3 582.4,414.9 587,409.2 578.2,405.6"/><polygon color="#00ff45" points="587,409.2 595.6,413 600.2,407.6 591.6,403.9"/><polygon color="#00ff44" points="600.2,407.6 608.8,411.6 613.3,406.7 604.8,402.7"/><polygon color="#00ff47" points="613.3,406.7 621.9,410.9 626.4,406.3 617.9,402.1"/><polygon color="#00ff51" points="626.4,406.3 634.9,410.8 639.5,406.5 631,402.1"/><polygon color="#00ff5f" points="639.5,406.5 648,411.2 652.6,407.2 644.1,402.6"/><polygon color="#00ff72" points="652.6,407.2 661,412.2 665.6,408.4 657.2,403.6"/><polygon color="#00ff89" points="665.6,408.4 674.1,413.6 678.7,410 670.3,404.9"/><polygon color="#00ffa2" points="678.7,410 687.2,415.4 691.9,411.8 683.4,406.6"/><polygon color="#00ffbd" points="691.9,411.8 700.3,417.3 705,413.7 696.5,408.4"/><polygon color="#00ff9c" points="541.8,423.8 551,427.4 555.5,420.4 546.5,417"/><polygon color="#00ff87" points="555.5,420.4 564.5,424 569.1,417.4 560.2,413.9"/><polygon color="#00ff76" points="569.1,417.4 577.9,421.1 582.4,414.9 573.6,411.3"/><polygon color="#00ff6b" points="582.4,414.9 591.1,418.7 595.6,413 587,409.2"/><polygon color="#00ff66" points="595.6,413 604.3,417 608.8,411.6 600.2,407.6"/><polygon color="#00ff66" points="608.8,411.6 617.3,415.9 621.9,410.9 613.3,406.7"/><polygon color="#00ff6c" points="621.9,410.9 630.4,415.4 634.9,410.8 626.4,406.3"/><polygon color="#00ff77" points="634.9,410.8 643.4,415.6 648,411.2 639.5,406.5"/><polygon color="#00ff88" points="648,411.2 656.4,416.3 661,412.2 652.6,407.2"/><polygon color="#00ff9c" points="661,412.2 669.5,417.5 674.1,413.6 665.6,408.4"/><polygon color="#00ffb5" points="674.1,413.6 682.6,419.2 687.2,415.4 678.7,410"/><polygon color="#00ffcf" points="687.2,415.4 695.7,421.1 700.3,417.3 691.9,411.8"/><polygon color="#00ffba" points="551,427.4 560,431 564.5,424 555.5,420.4"/><polygon color="#00ffa5" points="564.5,424 573.4,427.7 577.9,421.1 569.1,417.4"/><polygon color="#00ff96" points="577.9,421.1 586.7,424.9 591.1,418.7 582.4,414.9"/><polygon color="#00ff8c" points="591.1,418.7 599.8,422.8 604.3,417 595.6,413"/><polygon color="#00ff88" points="604.3,417 612.9,421.3 617.3,415.9 608.8,411.6"/><polygon color="#00ff8b" points="617.3,415.9 625.9,420.4 630.4,415.4 621.9,410.9"/><polygon color="#00ff93" points="630.4,415.4 638.9,420.2 643.4,415.6 634.9,410.8"/><polygon color="#00ffa1" points="643.4,415.6 651.9,420.7 656.4,416.3 648,411.2"/><polygon color="#00ffb3" points="656.4,416.3 664.9,421.7 669.5,417.5 661,412.2"/><polygon color="#00ffca" points="669.5,417.5 677.9,423.1 682.6,419.2 674.1,413.6"/><polygon color="#00ffe4" points="682.6,419.2 691,425 695.7,421.1 687.2,415.4"/><polygon color="#00ffd8" points="560,431 568.9,434.8 573.4,427.7 564.5,424"/><polygon color="#00ffc5" points="573.4,427.7 582.2,431.6 586.7,424.9 577.9,421.1"/><polygon color="#00ffb7" points="586.7,424.9 595.3,429 599.8,422.8 591.1,418.7"/><polygon color="#00ffaf" points="599.8,422.8 608.4,427 612.9,421.3 604.3,417"/><polygon color="#00ffae" points="612.9,421.3 621.4,425.8 625.9,420.4 617.3,415.9"/><polygon color="#00ffb2" points="625.9,420.4 634.3,425.2 638.9,420.2 630.4,415.4"/><polygon color="#00ffbd" points="638.9,420.2 647.3,425.3 651.9,420.7 643.4,415.6"/><polygon color="#00ffcd" points="651.9,420.7 660.3,426.1 664.9,421.7 656.4,416.3"/><polygon color="#00ffe2" points="664.9,421.7 673.3,427.3 677.9,423.1 669.5,417.5"/><polygon color="#00fffb" points="677.9,423.1 686.4,429.1 691,425 682.6,419.2"/><polygon color="#00fff8" points="568.9,434.8 577.8,438.6 582.2,431.6 573.4,427.7"/><polygon color="#00ffe6" points="582.2,431.6 590.9,435.6 595.3,429 586.7,424.9"/><polygon color="#00ffda" points="595.3,429 604,433.2 608.4,427 599.8,422.8"/><polygon color="#00ffd5" points="608.4,427 616.9,431.5 621.4,425.8 612.9,421.3"/><polygon color="#00ffd6" points="621.4,425.8 629.9,430.5 634.3,425.2 625.9,420.4"/><polygon color="#00ffdd" points="634.3,425.2 642.8,430.3 647.3,425.3 638.9,420.2"/><polygon color="#00ffea" points="647.3,425.3 655.7,430.7 660.3,426.1 651.9,420.7"/><polygon color="#00fffd" points="660.3,426.1 668.7,431.7 673.3,427.3 664.9,421.7"/><polygon color="#00ecff" points="673.3,427.3 681.7,433.3 686.4,429.1 677.9,423.1"/><polygon color="#00e7ff" points="577.8,438.6 586.5,442.6 590.9,435.6 582.2,431.6"/><polygon color="#00f5ff" points="590.9,435.6 599.6,439.7 604,433.2 595.3,429"/><polygon color="#00feff" points="604,433.2 612.5,437.6 616.9,431.5 608.4,427"/><polygon color="#00fffc" points="616.9,431.5 625.4,436.2 629.9,430.5 621.4,425.8"/><polygon color="#00fdff" points="629.9,430.5 638.3,435.5 642.8,430.3 634.3,425.2"/><polygon color="#00f4ff" points="642.8,430.3 651.2,435.6 655.7,430.7 647.3,425.3"/><polygon color="#00e6ff" points="655.7,430.7 664.1,436.3 668.7,431.7 660.3,426.1"/><polygon color="#00d4ff" points="668.7,431.7 677.1,437.7 681.7,433.3 673.3,427.3"/><polygon color="#00c8ff" points="586.5,442.6 595.2,446.6 599.6,439.7 590.9,435.6"/><polygon color="#00d5ff" points="599.6,439.7 608.1,444 612.5,437.6 604,433.2"/><polygon color="#00dbff" points="612.5,437.6 621,442.1 625.4,436.2 616.9,431.5"/><polygon color="#00dbff" points="625.4,436.2 633.8,441 638.3,435.5 629.9,430.5"/><polygon color="#00d6ff" points="638.3,435.5 646.7,440.7 651.2,435.6 642.8,430.3"/><polygon color="#00caff" points="651.2,435.6 659.6,441.2 664.1,436.3 655.7,430.7"/><polygon color="#00baff" points="664.1,436.3 672.5,442.3 677.1,437.7 668.7,431.7"/><polygon color="#00a8ff" points="595.2,446.6 603.8,450.8 608.1,444 599.6,439.7"/><polygon color="#00b3ff" points="608.1,444 616.6,448.4 621,442.1 612.5,437.6"/><polygon color="#00b7ff" points="621,442.1 629.4,446.8 633.8,441 625.4,436.2"/><polygon color="#00b5ff" points="633.8,441 642.2,446.1 646.7,440.7 638.3,435.5"/><polygon color="#00acff" points="646.7,440.7 655,446.2 659.6,441.2 651.2,435.6"/><polygon color="#009eff" points="659.6,441.2 667.9,447 672.5,442.3 664.1,436.3"/><polygon color="#0087ff" points="603.8,450.8 612.2,455 616.6,448.4 608.1,444"/><polygon color="#008fff" points="616.6,448.4 624.9,453 629.4,446.8 621,442.1"/><polygon color="#0091ff" points="629.4,446.8 637.7,451.8 642.2,446.1 633.8,441"/><polygon color="#008cff" points="642.2,446.1 650.5,451.4 655,446.2 646.7,440.7"/><polygon color="#0080ff" points="655,446.2 663.3,451.9 667.9,447 659.6,441.2"/><polygon color="#0065ff" points="612.2,455 620.5,459.4 624.9,453 616.6,448.4"/><polygon color="#006aff" points="624.9,453 633.2,457.7 637.7,451.8 629.4,446.8"/><polygon color="#0069ff" points="637.7,451.8 645.9,456.9 650.5,451.4 642.2,446.1"/><polygon color="#0061ff" points="650.5,451.4 658.7,456.9 663.3,451.9 655,446.2"/><polygon color="#0041ff" points="620.5,459.4 628.8,463.8 633.2,457.7 624.9,453"/><polygon color="#0044ff" points="633.2,457.7 641.4,462.5 645.9,456.9 637.7,451.8"/><polygon color="#003fff" points="645.9,456.9 654.1,462.1 658.7,456.9 650.5,451.4"/><polygon color="#001cff" points="628.8,463.8 637,468.4 641.4,462.5 633.2,457.7"/><polygon color="#001bff" points="641.4,462.5 649.6,467.5 654.1,462.1 645.9,456.9"/><polygon color="#0000ff" points="637,468.4 645,473 649.6,467.5 641.4,462.5"/></g>
<g fill="none" stroke="#000" stroke-opacity="0.6" stroke-width="0.85"><path d="M465,399Q523.7,352.5 575.6,372"/><path d="M465,399Q565,426 645,473"/><path d="M467.2,399.6Q525.5,352.1 577.4,371.9"/><path d="M467,397.5Q566.3,422.9 646.5,471.1"/><path d="M469.5,400.2Q527.2,351.6 579.2,371.9"/><path d="M468.9,396Q567.5,419.9 648,469.3"/><path d="M471.7,400.8Q529,351.3 581,371.9"/><path d="M470.8,394.5Q568.8,417 649.5,467.5"/><path d="M474,401.5Q530.9,350.9 582.8,371.8"/><path d="M472.7,393.1Q570.1,414.2 651,465.7"/><path d="M476.2,402.1Q532.7,350.5 584.6,371.8"/><path d="M474.6,391.8Q571.3,411.4 652.5,464"/><path d="M478.5,402.8Q534.5,350.2 586.4,371.8"/><path d="M476.5,390.5Q572.6,408.8 654,462.3"/><path d="M480.8,403.4Q536.4,349.9 588.3,371.8"/><path d="M478.4,389.2Q573.9,406.2 655.5,460.6"/><path d="M483.1,404.1Q538.2,349.7 590.2,371.8"/><path d="M480.2,388Q575.2,403.7 656.9,458.9"/><path d="M485.4,404.8Q540.1,349.4 592.1,371.8"/><path d="M482.1,386.8Q576.4,401.3 658.4,457.2"/><path d="M487.7,405.5Q542,349.2 593.9,371.8"/><path d="M483.9,385.6Q577.7,398.9 659.9,455.6"/><path d="M490.1,406.2Q543.9,349.1 595.9,371.8"/><path d="M485.8,384.5Q579,396.7 661.3,454"/><path d="M492.4,406.9Q545.9,348.9 597.8,371.8"/><path d="M487.6,383.4Q580.3,394.5 662.8,452.4"/><path d="M494.7,407.6Q547.8,348.8 599.7,371.8"/><path d="M489.4,382.4Q581.6,392.4 664.2,450.9"/><path d="M497.1,408.3Q549.8,348.7 601.7,371.9"/><path d="M491.2,381.4Q582.8,390.3 665.6,449.3"/><path d="M499.5,409.1Q551.7,348.6 603.6,371.9"/><path d="M492.9,380.4Q584.1,388.4 667.1,447.8"/><path d="M501.8,409.8Q553.7,348.6 605.6,372"/><path d="M494.7,379.5Q585.4,386.5 668.5,446.3"/><path d="M504.2,410.6Q555.7,348.6 607.6,372"/><path d="M496.5,378.6Q586.7,384.7 669.9,444.9"/><path d="M506.6,411.4Q557.7,348.6 609.6,372.1"/><path d="M498.2,377.7Q588,382.9 671.3,443.4"/><path d="M509,412.2Q559.8,348.7 611.6,372.2"/><path d="M499.9,376.9Q589.3,381.2 672.7,442"/><path d="M511.4,413Q561.8,348.8 613.6,372.3"/><path d="M501.6,376.1Q590.6,379.6 674.1,440.6"/><path d="M513.8,413.8Q563.9,348.9 615.7,372.4"/><path d="M503.3,375.4Q591.8,378.1 675.5,439.3"/><path d="M516.2,414.6Q566,349.1 617.7,372.5"/><path d="M505,374.6Q593.1,376.6 676.9,437.9"/><path d="M518.7,415.4Q568.1,349.3 619.8,372.6"/><path d="M506.7,373.9Q594.4,375.2 678.3,436.6"/><path d="M521.1,416.3Q570.2,349.6 621.9,372.7"/><path d="M508.4,373.3Q595.7,373.9 679.7,435.3"/><path d="M523.6,417.1Q572.3,349.8 624,372.9"/><path d="M510,372.7Q597,372.6 681,434"/><path d="M526,418Q574.4,350.2 626.1,373"/><path d="M511.7,372.1Q598.3,371.4 682.4,432.7"/><path d="M528.5,418.9Q576.6,350.5 628.2,373.2"/><path d="M513.3,371.5Q599.5,370.2 683.7,431.4"/><path d="M530.9,419.8Q578.7,350.9 630.3,373.3"/><path d="M514.9,371Q600.8,369.1 685.1,430.2"/><path d="M533.4,420.7Q580.9,351.3 632.5,373.5"/><path d="M516.6,370.5Q602.1,368.1 686.4,429"/><path d="M535.9,421.6Q583.1,351.8 634.6,373.7"/><path d="M518.2,370Q603.4,367.1 687.8,427.8"/><path d="M538.4,422.5Q585.4,352.3 636.8,373.9"/><path d="M519.7,369.6Q604.7,366.2 689.1,426.6"/><path d="M540.9,423.5Q587.6,352.9 639,374.1"/><path d="M521.3,369.2Q605.9,365.4 690.4,425.5"/><path d="M543.4,424.4Q589.8,353.5 641.2,374.3"/><path d="M522.9,368.8Q607.2,364.6 691.7,424.4"/><path d="M545.9,425.4Q592.1,354.1 643.4,374.5"/><path d="M524.4,368.4Q608.5,363.8 693.1,423.3"/><path d="M548.4,426.4Q594.4,354.8 645.6,374.8"/><path d="M526,368.1Q609.8,363.1 694.4,422.2"/><path d="M551,427.4Q596.7,355.5 647.9,375"/><path d="M527.5,367.8Q611,362.5 695.7,421.1"/><path d="M553.5,428.4Q599,356.3 650.1,375.3"/><path d="M529,367.5Q612.3,361.9 696.9,420"/><path d="M556,429.4Q601.3,357.1 652.4,375.5"/><path d="M530.5,367.3Q613.6,361.4 698.2,419"/><path d="M558.6,430.4Q603.7,358 654.7,375.8"/><path d="M532,367.1Q614.9,360.9 699.5,418"/><path d="M561.1,431.5Q606,358.9 657,376.1"/><path d="M533.5,366.9Q616.1,360.5 700.8,417"/><path d="M563.7,432.5Q608.4,359.9 659.3,376.4"/><path d="M535,366.7Q617.4,360.1 702,416"/><path d="M566.2,433.6Q610.8,360.9 661.6,376.8"/><path d="M536.5,366.6Q618.7,359.8 703.3,415"/><path d="M568.8,434.7Q613.2,361.9 664,377.1"/><path d="M537.9,366.5Q619.9,359.6 704.6,414"/><path d="M571.4,435.8Q615.6,363 666.3,377.4"/><path d="M539.4,366.4Q621.2,359.3 705.8,413.1"/><path d="M573.9,436.9Q618.1,364.2 668.7,377.8"/><path d="M540.8,366.3Q622.4,359.2 707,412.2"/><path d="M576.5,438Q620.5,365.4 671.1,378.2"/><path d="M542.2,366.3Q623.7,359 708.3,411.3"/><path d="M579.1,439.2Q623,366.6 673.5,378.6"/><path d="M543.6,366.2Q624.9,358.9 709.5,410.4"/><path d="M581.7,440.3Q625.5,368 675.9,379"/><path d="M545,366.2Q626.2,358.9 710.7,409.5"/><path d="M584.3,441.5Q628,369.3 678.3,379.4"/><path d="M546.4,366.3Q627.4,358.9 711.9,408.7"/><path d="M586.9,442.7Q630.5,370.7 680.8,379.8"/><path d="M547.8,366.3Q628.7,359 713.1,407.8"/><path d="M589.5,443.9Q633.1,372.2 683.2,380.2"/><path d="M549.2,366.4Q629.9,359.1 714.3,407"/><path d="M592.1,445.1Q635.7,373.7 685.7,380.7"/><path d="M550.5,366.5Q631.2,359.2 715.5,406.2"/><path d="M594.7,446.4Q638.2,375.3 688.2,381.2"/><path d="M551.9,366.6Q632.4,359.4 716.7,405.4"/><path d="M597.3,447.6Q640.8,376.9 690.7,381.6"/><path d="M553.2,366.7Q633.6,359.6 717.9,404.6"/><path d="M600,448.9Q643.4,378.6 693.2,382.1"/><path d="M554.6,366.8Q634.9,359.8 719.1,403.9"/><path d="M602.6,450.2Q646.1,380.4 695.7,382.6"/><path d="M555.9,367Q636.1,360.1 720.2,403.1"/><path d="M605.2,451.5Q648.7,382.2 698.2,383.2"/><path d="M557.2,367.2Q637.3,360.5 721.4,402.4"/><path d="M607.9,452.8Q651.4,384.1 700.8,383.7"/><path d="M558.5,367.4Q638.5,360.8 722.6,401.7"/><path d="M610.5,454.1Q654.1,386 703.3,384.3"/><path d="M559.8,367.6Q639.7,361.2 723.7,401"/><path d="M613.1,455.5Q656.8,388 705.9,384.8"/><path d="M561.1,367.9Q640.9,361.7 724.8,400.3"/><path d="M615.8,456.8Q659.5,390.1 708.5,385.4"/><path d="M562.3,368.1Q642.2,362.2 726,399.6"/><path d="M618.4,458.2Q662.2,392.2 711.1,386"/><path d="M563.6,368.4Q643.4,362.7 727.1,398.9"/><path d="M621.1,459.6Q664.9,394.4 713.7,386.7"/><path d="M564.8,368.7Q644.6,363.2 728.2,398.3"/><path d="M623.7,461Q667.7,396.6 716.4,387.3"/><path d="M566.1,369Q645.8,363.8 729.3,397.7"/><path d="M626.4,462.5Q670.5,398.9 719,387.9"/><path d="M567.3,369.3Q647,364.4 730.4,397"/><path d="M629,463.9Q673.3,401.3 721.7,388.6"/><path d="M568.5,369.7Q648.1,365 731.5,396.4"/><path d="M631.7,465.4Q676.1,403.8 724.4,389.3"/><path d="M569.7,370Q649.3,365.7 732.6,395.8"/><path d="M634.3,466.9Q679,406.3 727.1,390"/><path d="M570.9,370.4Q650.5,366.4 733.7,395.2"/><path d="M637,468.4Q681.8,408.8 729.8,390.7"/><path d="M572.1,370.8Q651.7,367.1 734.8,394.7"/><path d="M639.7,469.9Q684.7,411.5 732.5,391.5"/><path d="M573.3,371.2Q652.9,367.9 735.9,394.1"/><path d="M642.3,471.4Q687.6,414.2 735.2,392.2"/><path d="M574.4,371.6Q654,368.7 736.9,393.5"/><path d="M645,473Q690.5,417 738,393"/><path d="M575.6,372Q655.2,369.5 738,393"/></g>
<ellipse cx="465" cy="399" rx="2.8" ry="1.9" fill="#e60000" stroke="#701010" stroke-width="0.4"/>
<ellipse cx="606.3" cy="368.9" rx="2.8" ry="1.9" fill="#e60000" stroke="#701010" stroke-width="0.4"/>
<ellipse cx="606.3" cy="372.5" rx="2.8" ry="1.9" fill="#e60000" stroke="#701010" stroke-width="0.4"/>
<ellipse cx="645" cy="474" rx="2.8" ry="1.9" fill="#ffb4bc" stroke="#b07070" stroke-width="0.4"/>
<ellipse cx="738" cy="398" rx="2.8" ry="1.9" fill="#ffb4bc" stroke="#b07070" stroke-width="0.4"/>
<path d="M738,393L738,398" stroke="#222" stroke-width="0.5"/>
<path d="M606.3,372L606.3,381" stroke="#222" stroke-width="0.5"/>
<g font-size="6.4" font-weight="bold" fill="#000" stroke="#000" stroke-width="0.35"><text x="457.4" y="354.6" text-anchor="end" textLength="9.4" lengthAdjust="spacingAndGlyphs">160</text><text x="458.9" y="370.2" text-anchor="end" textLength="9.4" lengthAdjust="spacingAndGlyphs">159</text><text x="460.4" y="385.7" text-anchor="end" textLength="9.4" lengthAdjust="spacingAndGlyphs">158</text><text x="462" y="401.2" text-anchor="end" textLength="9.4" lengthAdjust="spacingAndGlyphs">157</text><text x="463.5" y="417.2" text-anchor="end" textLength="9.4" lengthAdjust="spacingAndGlyphs">156</text><text x="465" y="432.7" text-anchor="end" textLength="9.4" lengthAdjust="spacingAndGlyphs">155</text><text x="466.6" y="448.2" text-anchor="end" textLength="9.4" lengthAdjust="spacingAndGlyphs">154</text><text x="469.7" y="483.9" text-anchor="end" textLength="11.7" lengthAdjust="spacingAndGlyphs">1.00</text><text x="512.5" y="493.4" text-anchor="end" textLength="11.7" lengthAdjust="spacingAndGlyphs">0.50</text><text x="555.2" y="502.9" text-anchor="end" textLength="11.7" lengthAdjust="spacingAndGlyphs">0.00</text><text x="598" y="512.4" text-anchor="end" textLength="13.7" lengthAdjust="spacingAndGlyphs">-0.50</text><text x="640.7" y="521.9" text-anchor="end" textLength="13.7" lengthAdjust="spacingAndGlyphs">-1.00</text><text x="647.6" y="522.1" textLength="13.7" lengthAdjust="spacingAndGlyphs">-1.00</text><text x="670.1" y="507.1" textLength="13.7" lengthAdjust="spacingAndGlyphs">-0.50</text><text x="692.6" y="492.1" textLength="11.7" lengthAdjust="spacingAndGlyphs">0.00</text><text x="715.1" y="477.1" textLength="11.7" lengthAdjust="spacingAndGlyphs">0.50</text><text x="737.6" y="462.1" textLength="11.7" lengthAdjust="spacingAndGlyphs">1.00</text></g>
<g font-size="8.3" fill="#111" stroke="#000" stroke-width="0.5"><text x="487" y="524" textLength="64" lengthAdjust="spacingAndGlyphs">C: Crushed mesh</text><text x="711" y="503" textLength="70" lengthAdjust="spacingAndGlyphs" xml:space="preserve">B: Solid–liquid ratio</text><text transform="translate(418.9,458) rotate(-90)" textLength="77" lengthAdjust="spacingAndGlyphs">Total Extraction Yield</text></g>
<text x="605" y="567" text-anchor="middle" font-family="'Liberation Serif',serif" font-size="20" fill="#000">(<tspan font-weight="bold">D</tspan>)</text>
</g>
<g id="pE">
<polygon points="67,759 241,797.8 346,742.2 185.5,711" fill="#ffff00"/>
<path d="M84.5,752L142,752.5Q175,752 188,748.6Q208,743 217.8,731.4Q219,724 213.2,718.7" fill="none" stroke="#38e038" stroke-width="0.7"/>
<path d="M96,766Q180,772 263,785.7" fill="none" stroke="#30e0c0" stroke-width="0.7"/>
<path d="M278.2,731.7L321.8,749" fill="none" stroke="#30e0c0" stroke-width="0.7"/>
<path d="M67,759L185.5,711L346,742.2" fill="none" stroke="#555" stroke-width="0.5"/>
<path d="M87.8,618.7L94.5,716.6M226.2,600.2L225.8,690.7M119.5,610.8L124.6,705.5M269.5,605.5L266.6,697.9M151.2,602.9L154.8,694.5M312.8,610.8L307.5,705.1M183,595L185.5,711M356,616L346,742.2M56,626.6L183,595L356,616M57.4,643.4L183.3,609.7L354.7,632M58.8,660.3L183.6,624.5L353.5,648.1M60.2,677.1L184,639.2L352.2,664.1M61.6,693.9L184.3,654L350.9,680.1M63,710.8L184.6,668.8L349.6,696.3M64.4,727.6L184.9,683.5L348.4,712.3" fill="none" stroke="#3c3c3c" stroke-width="0.75"/>
<path d="M56,626.6L67,759L241,797.8L346,742.2" fill="none" stroke="#111" stroke-width="0.75"/>
<path d="M56,626.6l-1.6,0.4M57.4,643.4l-1.6,0.4M58.8,660.3l-1.6,0.4M60.2,677.1l-1.6,0.4M61.6,693.9l-1.6,0.4M63,710.8l-1.6,0.4M64.4,727.6l-1.6,0.4M67,759l-1.3,1.0M241,797.8l1.3,1.0M110.5,768.7l-1.3,1.0M267.2,783.9l1.3,1.0M154,778.4l-1.3,1.0M293.5,770l1.3,1.0M197.5,788.1l-1.3,1.0M319.8,756.1l1.3,1.0M241,797.8l-1.3,1.0M346,742.2l1.3,1.0" fill="none" stroke="#000" stroke-width="1.3"/>
<g fill="currentColor" stroke="currentColor" stroke-width="0.6"><polygon color="#5e6700" points="177.1,617.2 185.5,621.1 191.4,622.2 183,618"/><polygon color="#888200" points="171.2,616.8 179.6,620.5 185.5,621.1 177.1,617.2"/><polygon color="#344300" points="185.5,621.1 193.9,624.9 199.8,626.2 191.4,622.2"/><polygon color="#a68a00" points="165.3,616.8 173.7,620.3 179.6,620.5 171.2,616.8"/><polygon color="#5b6300" points="179.6,620.5 188,624.1 193.9,624.9 185.5,621.1"/><polygon color="#1a2900" points="193.9,624.9 202.3,628.6 208.3,630 199.8,626.2"/><polygon color="#bd8b00" points="159.3,617.2 167.7,620.5 173.7,620.3 165.3,616.8"/><polygon color="#8b8500" points="173.7,620.3 182,623.7 188,624.1 179.6,620.5"/><polygon color="#374600" points="188,624.1 196.4,627.6 202.3,628.6 193.9,624.9"/><polygon color="#0b1600" points="202.3,628.6 210.7,632.1 216.7,633.7 208.3,630"/><polygon color="#d58c00" points="153.3,617.9 161.7,621.1 167.7,620.5 159.3,617.2"/><polygon color="#ad9300" points="167.7,620.5 176.1,623.8 182,623.7 173.7,620.3"/><polygon color="#646c00" points="182,623.7 190.4,627.1 196.4,627.6 188,624.1"/><polygon color="#202f00" points="196.4,627.6 204.8,631 210.7,632.1 202.3,628.6"/><polygon color="#040a00" points="210.7,632.1 219.1,635.6 225.1,637.3 216.7,633.7"/><polygon color="#ef8f00" points="147.3,619 155.7,622 161.7,621.1 153.3,617.9"/><polygon color="#c79a00" points="161.7,621.1 170.1,624.2 176.1,623.8 167.7,620.5"/><polygon color="#9d9800" points="176.1,623.8 184.5,627 190.4,627.1 182,623.7"/><polygon color="#445300" points="190.4,627.1 198.8,630.3 204.8,631 196.4,627.6"/><polygon color="#111f00" points="204.8,631 213.2,634.3 219.1,635.6 210.7,632.1"/><polygon color="#010300" points="219.1,635.6 227.5,638.9 233.5,640.7 225.1,637.3"/><polygon color="#ff8f00" points="141.3,620.4 149.7,623.4 155.7,622 147.3,619"/><polygon color="#e3a100" points="155.7,622 164.2,625.1 170.1,624.2 161.7,621.1"/><polygon color="#bba400" points="170.1,624.2 178.5,627.3 184.5,627 176.1,623.8"/><polygon color="#798300" points="184.5,627 192.9,630.1 198.8,630.3 190.4,627.1"/><polygon color="#2d4000" points="198.8,630.3 207.2,633.5 213.2,634.3 204.8,631"/><polygon color="#091300" points="213.2,634.3 221.6,637.5 227.5,638.9 219.1,635.6"/><polygon color="#000100" points="227.5,638.9 235.9,642.1 241.9,644 233.5,640.7"/><polygon color="#ff8a00" points="135.2,622.2 143.7,625.2 149.7,623.4 141.3,620.4"/><polygon color="#ffaa00" points="149.7,623.4 158.2,626.4 164.2,625.1 155.7,622"/><polygon color="#d8b000" points="164.2,625.1 172.6,628.1 178.5,627.3 170.1,624.2"/><polygon color="#afac00" points="178.5,627.3 187,630.4 192.9,630.1 184.5,627"/><polygon color="#5a6e00" points="192.9,630.1 201.3,633.2 207.2,633.5 198.8,630.3"/><polygon color="#1d3000" points="207.2,633.5 215.6,636.6 221.6,637.5 213.2,634.3"/><polygon color="#040b00" points="221.6,637.5 230,640.6 235.9,642.1 227.5,638.9"/><polygon color="#000100" points="235.9,642.1 244.3,645.2 250.2,647.2 241.9,644"/><polygon color="#ff8b00" points="129.1,624.4 137.7,627.3 143.7,625.2 135.2,622.2"/><polygon color="#ffa400" points="143.7,625.2 152.2,628.1 158.2,626.4 149.7,623.4"/><polygon color="#f7be00" points="158.2,626.4 166.7,629.3 172.6,628.1 164.2,625.1"/><polygon color="#cfbd00" points="172.6,628.1 181.1,631.1 187,630.4 178.5,627.3"/><polygon color="#96a400" points="187,630.4 195.4,633.4 201.3,633.2 192.9,630.1"/><polygon color="#435c00" points="201.3,633.2 209.7,636.2 215.6,636.6 207.2,633.5"/><polygon color="#122500" points="215.6,636.6 224,639.7 230,640.6 221.6,637.5"/><polygon color="#010600" points="230,640.6 238.4,643.6 244.3,645.2 235.9,642.1"/><polygon color="#000100" points="244.3,645.2 252.7,648.1 258.6,650.2 250.2,647.2"/><polygon color="#ff9000" points="123,627 131.6,629.9 137.7,627.3 129.1,624.4"/><polygon color="#ffa400" points="137.7,627.3 146.2,630.2 152.2,628.1 143.7,625.2"/><polygon color="#ffbd00" points="152.2,628.1 160.7,631 166.7,629.3 158.2,626.4"/><polygon color="#f0cf00" points="166.7,629.3 175.1,632.2 181.1,631.1 172.6,628.1"/><polygon color="#c4c600" points="181.1,631.1 189.5,634 195.4,633.4 187,630.4"/><polygon color="#7c9700" points="195.4,633.4 203.8,636.3 209.7,636.2 201.3,633.2"/><polygon color="#314e00" points="209.7,636.2 218.2,639.2 224,639.7 215.6,636.6"/><polygon color="#0b1c00" points="224,639.7 232.5,642.6 238.4,643.6 230,640.6"/><polygon color="#000300" points="238.4,643.6 246.8,646.6 252.7,648.1 244.3,645.2"/><polygon color="#000100" points="252.7,648.1 261.1,651 267,653 258.6,650.2"/><polygon color="#ff9b00" points="116.8,629.9 125.5,632.8 131.6,629.9 123,627"/><polygon color="#ffa900" points="131.6,629.9 140.2,632.8 146.2,630.2 137.7,627.3"/><polygon color="#ffbc00" points="146.2,630.2 154.8,633.1 160.7,631 152.2,628.1"/><polygon color="#ffd500" points="160.7,631 169.2,633.8 175.1,632.2 166.7,629.3"/><polygon color="#e8df00" points="175.1,632.2 183.6,635.1 189.5,634 181.1,631.1"/><polygon color="#aabe00" points="189.5,634 198,636.9 203.8,636.3 195.4,633.4"/><polygon color="#638800" points="203.8,636.3 212.3,639.2 218.2,639.2 209.7,636.2"/><polygon color="#244300" points="218.2,639.2 226.6,642.1 232.5,642.6 224,639.7"/><polygon color="#071500" points="232.5,642.6 240.9,645.5 246.8,646.6 238.4,643.6"/><polygon color="#000200" points="246.8,646.6 255.2,649.4 261.1,651 252.7,648.1"/><polygon color="#000100" points="261.1,651 269.5,653.7 275.4,655.7 267,653"/><polygon color="#ffab00" points="110.7,633.2 119.4,636.2 125.5,632.8 116.8,629.9"/><polygon color="#ffb300" points="125.5,632.8 134.2,635.7 140.2,632.8 131.6,629.9"/><polygon color="#ffc000" points="140.2,632.8 148.8,635.6 154.8,633.1 146.2,630.2"/><polygon color="#ffd400" points="154.8,633.1 163.4,635.9 169.2,633.8 160.7,631"/><polygon color="#ffec00" points="169.2,633.8 177.8,636.7 183.6,635.1 175.1,632.2"/><polygon color="#d7e200" points="183.6,635.1 192.1,638 198,636.9 189.5,634"/><polygon color="#93b700" points="198,636.9 206.5,639.8 212.3,639.2 203.8,636.3"/><polygon color="#4f7b00" points="212.3,639.2 220.8,642.1 226.6,642.1 218.2,639.2"/><polygon color="#1a3a00" points="226.6,642.1 235.1,645 240.9,645.5 232.5,642.6"/><polygon color="#041000" points="240.9,645.5 249.3,648.3 255.2,649.4 246.8,646.6"/><polygon color="#000100" points="255.2,649.4 263.6,652.1 269.5,653.7 261.1,651"/><polygon color="#000100" points="269.5,653.7 277.9,656.3 283.7,658.3 275.4,655.7"/><polygon color="#ffc000" points="104.5,636.9 113.3,639.9 119.4,636.2 110.7,633.2"/><polygon color="#ffc200" points="119.4,636.2 128.2,639.1 134.2,635.7 125.5,632.8"/><polygon color="#ffca00" points="134.2,635.7 142.9,638.6 148.8,635.6 140.2,632.8"/><polygon color="#ffd700" points="148.8,635.6 157.5,638.4 163.4,635.9 154.8,633.1"/><polygon color="#ffea00" points="163.4,635.9 171.9,638.7 177.8,636.7 169.2,633.8"/><polygon color="#faff00" points="177.8,636.7 186.3,639.5 192.1,638 183.6,635.1"/><polygon color="#bedc00" points="192.1,638 200.6,640.8 206.5,639.8 198,636.9"/><polygon color="#80b000" points="206.5,639.8 215,642.6 220.8,642.1 212.3,639.2"/><polygon color="#3f7100" points="220.8,642.1 229.2,645 235.1,645 226.6,642.1"/><polygon color="#133300" points="235.1,645 243.5,647.8 249.3,648.3 240.9,645.5"/><polygon color="#020d00" points="249.3,648.3 257.8,651.1 263.6,652.1 255.2,649.4"/><polygon color="#000100" points="263.6,652.1 272,654.8 277.9,656.3 269.5,653.7"/><polygon color="#000100" points="277.9,656.3 286.2,658.8 292.1,660.7 283.7,658.3"/><polygon color="#ffda00" points="98.2,640.9 107.2,644.1 113.3,639.9 104.5,636.9"/><polygon color="#ffd700" points="113.3,639.9 122.2,642.9 128.2,639.1 119.4,636.2"/><polygon color="#ffd900" points="128.2,639.1 137,642 142.9,638.6 134.2,635.7"/><polygon color="#ffe000" points="142.9,638.6 151.6,641.4 157.5,638.4 148.8,635.6"/><polygon color="#ffed00" points="157.5,638.4 166.1,641.2 171.9,638.7 163.4,635.9"/><polygon color="#fdff00" points="171.9,638.7 180.5,641.5 186.3,639.5 177.8,636.7"/><polygon color="#e5ff00" points="186.3,639.5 194.9,642.3 200.6,640.8 192.1,638"/><polygon color="#a8d600" points="200.6,640.8 209.2,643.6 215,642.6 206.5,639.8"/><polygon color="#6eab00" points="215,642.6 223.5,645.4 229.2,645 220.8,642.1"/><polygon color="#336900" points="229.2,645 237.7,647.8 243.5,647.8 235.1,645"/><polygon color="#0e2e00" points="243.5,647.8 252,650.5 257.8,651.1 249.3,648.3"/><polygon color="#010b00" points="257.8,651.1 266.2,653.8 272,654.8 263.6,652.1"/><polygon color="#000100" points="272,654.8 280.5,657.3 286.2,658.8 277.9,656.3"/><polygon color="#000100" points="286.2,658.8 294.6,661.1 300.4,662.9 292.1,660.7"/><polygon color="#fff900" points="92,645.3 101.1,648.6 107.2,644.1 98.2,640.9"/><polygon color="#fff100" points="107.2,644.1 116.2,647.2 122.2,642.9 113.3,639.9"/><polygon color="#ffed00" points="122.2,642.9 131,645.9 137,642 128.2,639.1"/><polygon color="#ffef00" points="137,642 145.7,644.9 151.6,641.4 142.9,638.6"/><polygon color="#fff600" points="151.6,641.4 160.3,644.2 166.1,641.2 157.5,638.4"/><polygon color="#faff00" points="166.1,641.2 174.7,644 180.5,641.5 171.9,638.7"/><polygon color="#e8ff00" points="180.5,641.5 189.1,644.3 194.9,642.3 186.3,639.5"/><polygon color="#cffd00" points="194.9,642.3 203.4,645.1 209.2,643.6 200.6,640.8"/><polygon color="#93d200" points="209.2,643.6 217.7,646.4 223.5,645.4 215,642.6"/><polygon color="#5ea700" points="223.5,645.4 232,648.2 237.7,647.8 229.2,645"/><polygon color="#296400" points="237.7,647.8 246.2,650.5 252,650.5 243.5,647.8"/><polygon color="#0a2b00" points="252,650.5 260.5,653.2 266.2,653.8 257.8,651.1"/><polygon color="#000a00" points="266.2,653.8 274.7,656.4 280.5,657.3 272,654.8"/><polygon color="#000100" points="280.5,657.3 288.9,659.8 294.6,661.1 286.2,658.8"/><polygon color="#000100" points="294.6,661.1 303,663.4 308.8,665.1 300.4,662.9"/><polygon color="#e0ff00" points="85.7,650.1 94.9,653.5 101.1,648.6 92,645.3"/><polygon color="#edff00" points="101.1,648.6 110.1,651.8 116.2,647.2 107.2,644.1"/><polygon color="#f6ff00" points="116.2,647.2 125.1,650.2 131,645.9 122.2,642.9"/><polygon color="#faff00" points="131,645.9 139.9,648.8 145.7,644.9 137,642"/><polygon color="#f9ff00" points="145.7,644.9 154.5,647.7 160.3,644.2 151.6,641.4"/><polygon color="#f2ff00" points="160.3,644.2 169,647 174.7,644 166.1,641.2"/><polygon color="#e6ff00" points="174.7,644 183.4,646.8 189.1,644.3 180.5,641.5"/><polygon color="#d4ff00" points="189.1,644.3 197.7,647.1 203.4,645.1 194.9,642.3"/><polygon color="#b8f900" points="203.4,645.1 212,647.9 217.7,646.4 209.2,643.6"/><polygon color="#81ce00" points="217.7,646.4 226.3,649.1 232,648.2 223.5,645.4"/><polygon color="#51a300" points="232,648.2 240.5,650.9 246.2,650.5 237.7,647.8"/><polygon color="#216000" points="246.2,650.5 254.7,653.2 260.5,653.2 252,650.5"/><polygon color="#072900" points="260.5,653.2 269,655.9 274.7,656.4 266.2,653.8"/><polygon color="#000a00" points="274.7,656.4 283.1,658.9 288.9,659.8 280.5,657.3"/><polygon color="#000100" points="288.9,659.8 297.3,662.1 303,663.4 294.6,661.1"/><polygon color="#000100" points="303,663.4 311.4,665.5 317.1,667 308.8,665.1"/><polygon color="#b7ff00" points="79.3,655.3 88.7,658.9 94.9,653.5 85.7,650.1"/><polygon color="#c9ff00" points="94.9,653.5 104.1,656.9 110.1,651.8 101.1,648.6"/><polygon color="#d7ff00" points="110.1,651.8 119.2,654.9 125.1,650.2 116.2,647.2"/><polygon color="#e1ff00" points="125.1,650.2 134,653.2 139.9,648.8 131,645.9"/><polygon color="#e5ff00" points="139.9,648.8 148.7,651.7 154.5,647.7 145.7,644.9"/><polygon color="#e4ff00" points="154.5,647.7 163.2,650.5 169,647 160.3,644.2"/><polygon color="#deff00" points="169,647 177.7,649.8 183.4,646.8 174.7,644"/><polygon color="#d2ff00" points="183.4,646.8 192,649.6 197.7,647.1 189.1,644.3"/><polygon color="#c1ff00" points="197.7,647.1 206.3,649.8 212,647.9 203.4,645.1"/><polygon color="#a4f500" points="212,647.9 220.6,650.6 226.3,649.1 217.7,646.4"/><polygon color="#71cb00" points="226.3,649.1 234.8,651.9 240.5,650.9 232,648.2"/><polygon color="#44a000" points="240.5,650.9 249,653.7 254.7,653.2 246.2,650.5"/><polygon color="#1a5d00" points="254.7,653.2 263.3,655.9 269,655.9 260.5,653.2"/><polygon color="#042900" points="269,655.9 277.5,658.4 283.1,658.9 274.7,656.4"/><polygon color="#000a00" points="283.1,658.9 291.6,661.3 297.3,662.1 288.9,659.8"/><polygon color="#000100" points="297.3,662.1 305.7,664.4 311.4,665.5 303,663.4"/><polygon color="#000100" points="311.4,665.5 319.8,667.5 325.4,668.9 317.1,667"/><polygon color="#89ff00" points="73,660.8 82.5,664.6 88.7,658.9 79.3,655.3"/><polygon color="#a0ff00" points="88.7,658.9 98,662.4 104.1,656.9 94.9,653.5"/><polygon color="#b3ff00" points="104.1,656.9 113.2,660.1 119.2,654.9 110.1,651.8"/><polygon color="#c2ff00" points="119.2,654.9 128.2,658 134,653.2 125.1,650.2"/><polygon color="#ccff00" points="134,653.2 142.9,656.1 148.7,651.7 139.9,648.8"/><polygon color="#d1ff00" points="148.7,651.7 157.5,654.5 163.2,650.5 154.5,647.7"/><polygon color="#d1ff00" points="163.2,650.5 172,653.3 177.7,649.8 169,647"/><polygon color="#cbff00" points="177.7,649.8 186.3,652.5 192,649.6 183.4,646.8"/><polygon color="#bfff00" points="192,649.6 200.7,652.3 206.3,649.8 197.7,647.1"/><polygon color="#aeff00" points="206.3,649.8 214.9,652.6 220.6,650.6 212,647.9"/><polygon color="#90f200" points="220.6,650.6 229.2,653.3 234.8,651.9 226.3,649.1"/><polygon color="#62c800" points="234.8,651.9 243.4,654.6 249,653.7 240.5,650.9"/><polygon color="#399f00" points="249,653.7 257.6,656.3 263.3,655.9 254.7,653.2"/><polygon color="#145d00" points="263.3,655.9 271.8,658.5 277.5,658.4 269,655.9"/><polygon color="#022a00" points="277.5,658.4 286,661 291.6,661.3 283.1,658.9"/><polygon color="#000c01" points="291.6,661.3 300.1,663.7 305.7,664.4 297.3,662.1"/><polygon color="#000100" points="305.7,664.4 314.2,666.5 319.8,667.5 311.4,665.5"/><polygon color="#000100" points="319.8,667.5 328.2,669.4 333.8,670.6 325.4,668.9"/><polygon color="#55ff00" points="66.6,666.6 76.3,670.7 82.5,664.6 73,660.8"/><polygon color="#71ff00" points="82.5,664.6 92,668.3 98,662.4 88.7,658.9"/><polygon color="#8aff00" points="98,662.4 107.3,665.8 113.2,660.1 104.1,656.9"/><polygon color="#9eff00" points="113.2,660.1 122.4,663.3 128.2,658 119.2,654.9"/><polygon color="#aeff00" points="128.2,658 137.2,661 142.9,656.1 134,653.2"/><polygon color="#b8ff00" points="142.9,656.1 151.8,658.9 157.5,654.5 148.7,651.7"/><polygon color="#beff00" points="157.5,654.5 166.3,657.3 172,653.3 163.2,650.5"/><polygon color="#beff00" points="172,653.3 180.7,656 186.3,652.5 177.7,649.8"/><polygon color="#b8ff00" points="186.3,652.5 195,655.3 200.7,652.3 192,649.6"/><polygon color="#adff00" points="200.7,652.3 209.3,655 214.9,652.6 206.3,649.8"/><polygon color="#9dff00" points="214.9,652.6 223.5,655.3 229.2,653.3 220.6,650.6"/><polygon color="#7fef00" points="229.2,653.3 237.8,656 243.4,654.6 234.8,651.9"/><polygon color="#54c600" points="243.4,654.6 252,657.3 257.6,656.3 249,653.7"/><polygon color="#309e00" points="257.6,656.3 266.2,659 271.8,658.5 263.3,655.9"/><polygon color="#0f5f00" points="271.8,658.5 280.3,661.1 286,661 277.5,658.4"/><polygon color="#002d00" points="286,661 294.5,663.4 300.1,663.7 291.6,661.3"/><polygon color="#000f02" points="300.1,663.7 308.6,666 314.2,666.5 305.7,664.4"/><polygon color="#000200" points="314.2,666.5 322.6,668.6 328.2,669.4 319.8,667.5"/><polygon color="#000100" points="328.2,669.4 336.6,671.2 342.1,672.1 333.8,670.6"/><polygon color="#1dff00" points="60.2,672.9 70.1,677.2 76.3,670.7 66.6,666.6"/><polygon color="#3dff00" points="76.3,670.7 85.9,674.6 92,668.3 82.5,664.6"/><polygon color="#5bff00" points="92,668.3 101.4,671.8 107.3,665.8 98,662.4"/><polygon color="#74ff00" points="107.3,665.8 116.5,669 122.4,663.3 113.2,660.1"/><polygon color="#8aff00" points="122.4,663.3 131.4,666.3 137.2,661 128.2,658"/><polygon color="#9aff00" points="137.2,661 146.1,663.9 151.8,658.9 142.9,656.1"/><polygon color="#a6ff00" points="151.8,658.9 160.7,661.7 166.3,657.3 157.5,654.5"/><polygon color="#abff00" points="166.3,657.3 175.1,660 180.7,656 172,653.3"/><polygon color="#acff00" points="180.7,656 189.4,658.7 195,655.3 186.3,652.5"/><polygon color="#a7ff00" points="195,655.3 203.7,658 209.3,655 200.7,652.3"/><polygon color="#9cff00" points="209.3,655 218,657.7 223.5,655.3 214.9,652.6"/><polygon color="#8cff00" points="223.5,655.3 232.2,658 237.8,656 229.2,653.3"/><polygon color="#6fed00" points="237.8,656 246.4,658.7 252,657.3 243.4,654.6"/><polygon color="#48c500" points="252,657.3 260.5,660 266.2,659 257.6,656.3"/><polygon color="#279e00" points="266.2,659 274.7,661.6 280.3,661.1 271.8,658.5"/><polygon color="#0b6200" points="280.3,661.1 288.9,663.6 294.5,663.4 286,661"/><polygon color="#003201" points="294.5,663.4 303,665.8 308.6,666 300.1,663.7"/><polygon color="#001303" points="308.6,666 317.1,668.2 322.6,668.6 314.2,666.5"/><polygon color="#000301" points="322.6,668.6 331.1,670.6 336.6,671.2 328.2,669.4"/><polygon color="#000100" points="336.6,671.2 345,672.8 350.4,673.5 342.1,672.1"/><polygon color="#04ff00" points="70.1,677.2 79.8,681.4 85.9,674.6 76.3,670.7"/><polygon color="#27ff00" points="85.9,674.6 95.4,678.4 101.4,671.8 92,668.3"/><polygon color="#45ff00" points="101.4,671.8 110.7,675.2 116.5,669 107.3,665.8"/><polygon color="#60ff00" points="116.5,669 125.7,672.2 131.4,666.3 122.4,663.3"/><polygon color="#76ff00" points="131.4,666.3 140.5,669.3 146.1,663.9 137.2,661"/><polygon color="#88ff00" points="146.1,663.9 155.1,666.7 160.7,661.7 151.8,658.9"/><polygon color="#93ff00" points="160.7,661.7 169.5,664.5 175.1,660 166.3,657.3"/><polygon color="#9aff00" points="175.1,660 183.9,662.7 189.4,658.7 180.7,656"/><polygon color="#9aff00" points="189.4,658.7 198.2,661.4 203.7,658 195,655.3"/><polygon color="#96ff00" points="203.7,658 212.4,660.6 218,657.7 209.3,655"/><polygon color="#8bff00" points="218,657.7 226.6,660.4 232.2,658 223.5,655.3"/><polygon color="#7cff00" points="232.2,658 240.8,660.6 246.4,658.7 237.8,656"/><polygon color="#60eb00" points="246.4,658.7 255,661.4 260.5,660 252,657.3"/><polygon color="#3dc400" points="260.5,660 269.2,662.6 274.7,661.6 266.2,659"/><polygon color="#1f9f00" points="274.7,661.6 283.3,664.2 288.9,663.6 280.3,661.1"/><polygon color="#076700" points="288.9,663.6 297.4,666.1 303,665.8 294.5,663.4"/><polygon color="#003803" points="303,665.8 311.5,668.2 317.1,668.2 308.6,666"/><polygon color="#001905" points="317.1,668.2 325.6,670.3 331.1,670.6 322.6,668.6"/><polygon color="#000702" points="331.1,670.6 339.5,672.5 345,672.8 336.6,671.2"/><polygon color="#00ff12" points="79.8,681.4 89.5,685.3 95.4,678.4 85.9,674.6"/><polygon color="#11ff00" points="95.4,678.4 104.9,681.9 110.7,675.2 101.4,671.8"/><polygon color="#31ff00" points="110.7,675.2 120,678.5 125.7,672.2 116.5,669"/><polygon color="#4dff00" points="125.7,672.2 134.9,675.2 140.5,669.3 131.4,666.3"/><polygon color="#64ff00" points="140.5,669.3 149.5,672.2 155.1,666.7 146.1,663.9"/><polygon color="#76ff00" points="155.1,666.7 164,669.5 169.5,664.5 160.7,661.7"/><polygon color="#82ff00" points="169.5,664.5 178.4,667.2 183.9,662.7 175.1,660"/><polygon color="#89ff00" points="183.9,662.7 192.7,665.3 198.2,661.4 189.4,658.7"/><polygon color="#8aff00" points="198.2,661.4 206.9,664 212.4,660.6 203.7,658"/><polygon color="#85ff00" points="212.4,660.6 221.1,663.3 226.6,660.4 218,657.7"/><polygon color="#7cff00" points="226.6,660.4 235.3,663 240.8,660.6 232.2,658"/><polygon color="#6dff00" points="240.8,660.6 249.4,663.3 255,661.4 246.4,658.7"/><polygon color="#52ea00" points="255,661.4 263.6,664 269.2,662.6 260.5,660"/><polygon color="#32c400" points="269.2,662.6 277.8,665.2 283.3,664.2 274.7,661.6"/><polygon color="#18a100" points="283.3,664.2 291.9,666.7 297.4,666.1 288.9,663.6"/><polygon color="#036f00" points="297.4,666.1 306,668.5 311.5,668.2 303,665.8"/><polygon color="#004106" points="311.5,668.2 320.1,670.5 325.6,670.3 317.1,668.2"/><polygon color="#002207" points="325.6,670.3 334.1,672.4 339.5,672.5 331.1,670.6"/><polygon color="#00ff28" points="89.5,685.3 99.1,689 104.9,681.9 95.4,678.4"/><polygon color="#00ff02" points="104.9,681.9 114.3,685.3 120,678.5 110.7,675.2"/><polygon color="#1eff00" points="120,678.5 129.2,681.6 134.9,675.2 125.7,672.2"/><polygon color="#3bff00" points="134.9,675.2 143.9,678.1 149.5,672.2 140.5,669.3"/><polygon color="#53ff00" points="149.5,672.2 158.5,674.9 164,669.5 155.1,666.7"/><polygon color="#65ff00" points="164,669.5 172.9,672.1 178.4,667.2 169.5,664.5"/><polygon color="#72ff00" points="178.4,667.2 187.2,669.8 192.7,665.3 183.9,662.7"/><polygon color="#79ff00" points="192.7,665.3 201.4,668 206.9,664 198.2,661.4"/><polygon color="#7aff00" points="206.9,664 215.6,666.6 221.1,663.3 212.4,660.6"/><polygon color="#76ff00" points="221.1,663.3 229.8,665.9 235.3,663 226.6,660.4"/><polygon color="#6dff00" points="235.3,663 243.9,665.6 249.4,663.3 240.8,660.6"/><polygon color="#5eff00" points="249.4,663.3 258.1,665.9 263.6,664 255,661.4"/><polygon color="#45e900" points="263.6,664 272.2,666.7 277.8,665.2 269.2,662.6"/><polygon color="#29c500" points="277.8,665.2 286.4,667.8 291.9,666.7 283.3,664.2"/><polygon color="#11a400" points="291.9,666.7 300.5,669.2 306,668.5 297.4,666.1"/><polygon color="#007900" points="306,668.5 314.6,670.9 320.1,670.5 311.5,668.2"/><polygon color="#004d09" points="320.1,670.5 328.7,672.7 334.1,672.4 325.6,670.3"/><polygon color="#00ff3c" points="99.1,689 108.6,692.5 114.3,685.3 104.9,681.9"/><polygon color="#00ff15" points="114.3,685.3 123.6,688.5 129.2,681.6 120,678.5"/><polygon color="#0cff00" points="129.2,681.6 138.4,684.6 143.9,678.1 134.9,675.2"/><polygon color="#2aff00" points="143.9,678.1 153,680.9 158.5,674.9 149.5,672.2"/><polygon color="#42ff00" points="158.5,674.9 167.4,677.6 172.9,672.1 164,669.5"/><polygon color="#55ff00" points="172.9,672.1 181.7,674.8 187.2,669.8 178.4,667.2"/><polygon color="#62ff00" points="187.2,669.8 196,672.4 201.4,668 192.7,665.3"/><polygon color="#69ff00" points="201.4,668 210.1,670.5 215.6,666.6 206.9,664"/><polygon color="#6bff00" points="215.6,666.6 224.3,669.2 229.8,665.9 221.1,663.3"/><polygon color="#67ff00" points="229.8,665.9 238.5,668.5 243.9,665.6 235.3,663"/><polygon color="#5eff00" points="243.9,665.6 252.6,668.2 258.1,665.9 249.4,663.3"/><polygon color="#51ff00" points="258.1,665.9 266.7,668.5 272.2,666.7 263.6,664"/><polygon color="#39e800" points="272.2,666.7 280.9,669.3 286.4,667.8 277.8,665.2"/><polygon color="#20c700" points="286.4,667.8 295,670.4 300.5,669.2 291.9,666.7"/><polygon color="#0ba800" points="300.5,669.2 309.1,671.7 314.6,670.9 306,668.5"/><polygon color="#008504" points="314.6,670.9 323.2,673.3 328.7,672.7 320.1,670.5"/><polygon color="#00ff4f" points="108.6,692.5 118.1,695.9 123.6,688.5 114.3,685.3"/><polygon color="#00ff27" points="123.6,688.5 132.9,691.5 138.4,684.6 129.2,681.6"/><polygon color="#00ff03" points="138.4,684.6 147.5,687.4 153,680.9 143.9,678.1"/><polygon color="#1aff00" points="153,680.9 162,683.6 167.4,677.6 158.5,674.9"/><polygon color="#33ff00" points="167.4,677.6 176.3,680.2 181.7,674.8 172.9,672.1"/><polygon color="#46ff00" points="181.7,674.8 190.6,677.3 196,672.4 187.2,669.8"/><polygon color="#53ff00" points="196,672.4 204.7,674.9 210.1,670.5 201.4,668"/><polygon color="#5bff00" points="210.1,670.5 218.9,673 224.3,669.2 215.6,666.6"/><polygon color="#5dff00" points="224.3,669.2 233,671.8 238.5,668.5 229.8,665.9"/><polygon color="#59ff00" points="238.5,668.5 247.1,671 252.6,668.2 243.9,665.6"/><polygon color="#51ff00" points="252.6,668.2 261.3,670.8 266.7,668.5 258.1,665.9"/><polygon color="#44ff00" points="266.7,668.5 275.4,671.1 280.9,669.3 272.2,666.7"/><polygon color="#2fe800" points="280.9,669.3 289.5,671.8 295,670.4 286.4,667.8"/><polygon color="#18c900" points="295,670.4 303.7,672.9 309.1,671.7 300.5,669.2"/><polygon color="#05ad00" points="309.1,671.7 317.8,674.2 323.2,673.3 314.6,670.9"/><polygon color="#00ff61" points="118.1,695.9 127.4,699 132.9,691.5 123.6,688.5"/><polygon color="#00ff37" points="132.9,691.5 142.1,694.4 147.5,687.4 138.4,684.6"/><polygon color="#00ff13" points="147.5,687.4 156.6,690.1 162,683.6 153,680.9"/><polygon color="#0bff00" points="162,683.6 170.9,686.1 176.3,680.2 167.4,677.6"/><polygon color="#24ff00" points="176.3,680.2 185.2,682.7 190.6,677.3 181.7,674.8"/><polygon color="#37ff00" points="190.6,677.3 199.4,679.7 204.7,674.9 196,672.4"/><polygon color="#45ff00" points="204.7,674.9 213.5,677.3 218.9,673 210.1,670.5"/><polygon color="#4dff00" points="218.9,673 227.6,675.5 233,671.8 224.3,669.2"/><polygon color="#4fff00" points="233,671.8 241.7,674.3 247.1,671 238.5,668.5"/><polygon color="#4cff00" points="247.1,671 255.8,673.6 261.3,670.8 252.6,668.2"/><polygon color="#44ff00" points="261.3,670.8 269.9,673.4 275.4,671.1 266.7,668.5"/><polygon color="#38ff00" points="275.4,671.1 284.1,673.7 289.5,671.8 280.9,669.3"/><polygon color="#25e900" points="289.5,671.8 298.2,674.4 303.7,672.9 295,670.4"/><polygon color="#11cc00" points="303.7,672.9 312.3,675.4 317.8,674.2 309.1,671.7"/><polygon color="#00ff71" points="127.4,699 136.7,701.8 142.1,694.4 132.9,691.5"/><polygon color="#00ff46" points="142.1,694.4 151.2,697 156.6,690.1 147.5,687.4"/><polygon color="#00ff22" points="156.6,690.1 165.6,692.6 170.9,686.1 162,683.6"/><polygon color="#00ff02" points="170.9,686.1 179.8,688.6 185.2,682.7 176.3,680.2"/><polygon color="#16ff00" points="185.2,682.7 194,685.1 199.4,679.7 190.6,677.3"/><polygon color="#2aff00" points="199.4,679.7 208.1,682.1 213.5,677.3 204.7,674.9"/><polygon color="#38ff00" points="213.5,677.3 222.2,679.7 227.6,675.5 218.9,673"/><polygon color="#40ff00" points="227.6,675.5 236.3,677.9 241.7,674.3 233,671.8"/><polygon color="#42ff00" points="241.7,674.3 250.4,676.7 255.8,673.6 247.1,671"/><polygon color="#40ff00" points="255.8,673.6 264.5,676.1 269.9,673.4 261.3,670.8"/><polygon color="#39ff00" points="269.9,673.4 278.6,676 284.1,673.7 275.4,671.1"/><polygon color="#2dff00" points="284.1,673.7 292.8,676.3 298.2,674.4 289.5,671.8"/><polygon color="#1ce900" points="298.2,674.4 306.9,677 312.3,675.4 303.7,672.9"/><polygon color="#00ff7f" points="136.7,701.8 145.9,704.5 151.2,697 142.1,694.4"/><polygon color="#00ff54" points="151.2,697 160.3,699.6 165.6,692.6 156.6,690.1"/><polygon color="#00ff2f" points="165.6,692.6 174.5,695 179.8,688.6 170.9,686.1"/><polygon color="#00ff0f" points="179.8,688.6 188.7,690.9 194,685.1 185.2,682.7"/><polygon color="#0aff00" points="194,685.1 202.8,687.4 208.1,682.1 199.4,679.7"/><polygon color="#1dff00" points="208.1,682.1 216.9,684.4 222.2,679.7 213.5,677.3"/><polygon color="#2bff00" points="222.2,679.7 230.9,682.1 236.3,677.9 227.6,675.5"/><polygon color="#34ff00" points="236.3,677.9 245,680.3 250.4,676.7 241.7,674.3"/><polygon color="#36ff00" points="250.4,676.7 259.1,679.2 264.5,676.1 255.8,673.6"/><polygon color="#34ff00" points="264.5,676.1 273.2,678.6 278.6,676 269.9,673.4"/><polygon color="#2eff00" points="278.6,676 287.3,678.5 292.8,676.3 284.1,673.7"/><polygon color="#23ff00" points="292.8,676.3 301.4,678.8 306.9,677 298.2,674.4"/><polygon color="#00ff8d" points="145.9,704.5 155,707 160.3,699.6 151.2,697"/><polygon color="#00ff61" points="160.3,699.6 169.3,701.9 174.5,695 165.6,692.6"/><polygon color="#00ff3b" points="174.5,695 183.4,697.2 188.7,690.9 179.8,688.6"/><polygon color="#00ff1b" points="188.7,690.9 197.5,693.1 202.8,687.4 194,685.1"/><polygon color="#00ff01" points="202.8,687.4 211.6,689.6 216.9,684.4 208.1,682.1"/><polygon color="#12ff00" points="216.9,684.4 225.6,686.6 230.9,682.1 222.2,679.7"/><polygon color="#20ff00" points="230.9,682.1 239.6,684.4 245,680.3 236.3,677.9"/><polygon color="#28ff00" points="245,680.3 253.7,682.7 259.1,679.2 250.4,676.7"/><polygon color="#2bff00" points="259.1,679.2 267.8,681.6 273.2,678.6 264.5,676.1"/><polygon color="#29ff00" points="273.2,678.6 281.9,681.1 287.3,678.5 278.6,676"/><polygon color="#23ff00" points="287.3,678.5 296,681 301.4,678.8 292.8,676.3"/><polygon color="#00ff99" points="155,707 164,709.3 169.3,701.9 160.3,699.6"/><polygon color="#00ff6c" points="169.3,701.9 178.2,704 183.4,697.2 174.5,695"/><polygon color="#00ff46" points="183.4,697.2 192.2,699.3 197.5,693.1 188.7,690.9"/><polygon color="#00ff26" points="197.5,693.1 206.3,695.2 211.6,689.6 202.8,687.4"/><polygon color="#00ff0c" points="211.6,689.6 220.3,691.7 225.6,686.6 216.9,684.4"/><polygon color="#07ff00" points="225.6,686.6 234.3,688.8 239.6,684.4 230.9,682.1"/><polygon color="#15ff00" points="239.6,684.4 248.3,686.6 253.7,682.7 245,680.3"/><polygon color="#1dff00" points="253.7,682.7 262.4,685 267.8,681.6 259.1,679.2"/><polygon color="#21ff00" points="267.8,681.6 276.4,684 281.9,681.1 273.2,678.6"/><polygon color="#1fff00" points="281.9,681.1 290.6,683.5 296,681 287.3,678.5"/><polygon color="#00ffa3" points="164,709.3 173,711.3 178.2,704 169.3,701.9"/><polygon color="#00ff77" points="178.2,704 187,706 192.2,699.3 183.4,697.2"/><polygon color="#00ff50" points="192.2,699.3 201,701.3 206.3,695.2 197.5,693.1"/><polygon color="#00ff30" points="206.3,695.2 215,697.1 220.3,691.7 211.6,689.6"/><polygon color="#00ff16" points="220.3,691.7 229,693.7 234.3,688.8 225.6,686.6"/><polygon color="#00ff02" points="234.3,688.8 242.9,690.9 248.3,686.6 239.6,684.4"/><polygon color="#0bff00" points="248.3,686.6 257,688.7 262.4,685 253.7,682.7"/><polygon color="#14ff00" points="262.4,685 271,687.2 276.4,684 267.8,681.6"/><polygon color="#17ff00" points="276.4,684 285.1,686.3 290.6,683.5 281.9,681.1"/><polygon color="#00ffac" points="173,711.3 181.8,713.2 187,706 178.2,704"/><polygon color="#00ff7f" points="187,706 195.8,707.8 201,701.3 192.2,699.3"/><polygon color="#00ff59" points="201,701.3 209.7,703.1 215,697.1 206.3,695.2"/><polygon color="#00ff39" points="215,697.1 223.7,699 229,693.7 220.3,691.7"/><polygon color="#00ff1f" points="229,693.7 237.6,695.6 242.9,690.9 234.3,688.8"/><polygon color="#00ff0b" points="242.9,690.9 251.6,692.9 257,688.7 248.3,686.6"/><polygon color="#02ff00" points="257,688.7 265.6,690.9 271,687.2 262.4,685"/><polygon color="#0aff00" points="271,687.2 279.7,689.5 285.1,686.3 276.4,684"/><polygon color="#00ffb4" points="181.8,713.2 190.6,714.8 195.8,707.8 187,706"/><polygon color="#00ff87" points="195.8,707.8 204.5,709.4 209.7,703.1 201,701.3"/><polygon color="#00ff61" points="209.7,703.1 218.4,704.7 223.7,699 215,697.1"/><polygon color="#00ff41" points="223.7,699 232.3,700.7 237.6,695.6 229,693.7"/><polygon color="#00ff27" points="237.6,695.6 246.2,697.4 251.6,692.9 242.9,690.9"/><polygon color="#00ff13" points="251.6,692.9 260.2,694.8 265.6,690.9 257,688.7"/><polygon color="#00ff05" points="265.6,690.9 274.2,692.9 279.7,689.5 271,687.2"/><polygon color="#00ffba" points="190.6,714.8 199.3,716.2 204.5,709.4 195.8,707.8"/><polygon color="#00ff8d" points="204.5,709.4 213.1,710.9 218.4,704.7 209.7,703.1"/><polygon color="#00ff67" points="218.4,704.7 227,706.2 232.3,700.7 223.7,699"/><polygon color="#00ff47" points="232.3,700.7 240.8,702.3 246.2,697.4 237.6,695.6"/><polygon color="#00ff2e" points="246.2,697.4 254.8,699.1 260.2,694.8 251.6,692.9"/><polygon color="#00ff1b" points="260.2,694.8 268.8,696.7 274.2,692.9 265.6,690.9"/><polygon color="#00ffbf" points="199.3,716.2 207.9,717.5 213.1,710.9 204.5,709.4"/><polygon color="#00ff93" points="213.1,710.9 221.7,712.2 227,706.2 218.4,704.7"/><polygon color="#00ff6c" points="227,706.2 235.5,707.6 240.8,702.3 232.3,700.7"/><polygon color="#00ff4d" points="240.8,702.3 249.4,703.8 254.8,699.1 246.2,697.4"/><polygon color="#00ff34" points="254.8,699.1 263.3,700.8 268.8,696.7 260.2,694.8"/><polygon color="#00ffc3" points="207.9,717.5 216.4,718.5 221.7,712.2 213.1,710.9"/><polygon color="#00ff96" points="221.7,712.2 230.2,713.3 235.5,707.6 227,706.2"/><polygon color="#00ff71" points="235.5,707.6 244,708.8 249.4,703.8 240.8,702.3"/><polygon color="#00ff52" points="249.4,703.8 257.9,705.2 263.3,700.8 254.8,699.1"/><polygon color="#00ffc5" points="216.4,718.5 224.9,719.3 230.2,713.3 221.7,712.2"/><polygon color="#00ff99" points="230.2,713.3 238.6,714.2 244,708.8 235.5,707.6"/><polygon color="#00ff74" points="244,708.8 252.4,709.9 257.9,705.2 249.4,703.8"/><polygon color="#00ffc6" points="224.9,719.3 233.2,719.9 238.6,714.2 230.2,713.3"/><polygon color="#00ff9a" points="238.6,714.2 247,714.9 252.4,709.9 244,708.8"/><polygon color="#00ffc5" points="233.2,719.9 241.5,720.3 247,714.9 238.6,714.2"/></g>
<g fill="none" stroke="#000" stroke-opacity="0.56" stroke-width="0.85"><path d="M60.2,672.9Q124.4,608.5 183,618"/><path d="M60.2,672.9Q159.2,717.4 241.5,720.3"/><path d="M62.4,673.9Q126.2,608.9 184.9,618.9"/><path d="M62.3,670.8Q160.7,714.3 243.3,718.5"/><path d="M64.6,674.9Q128,609.2 186.8,619.9"/><path d="M64.5,668.7Q162.2,711.3 245.1,716.7"/><path d="M66.8,675.9Q129.8,609.6 188.7,620.8"/><path d="M66.6,666.7Q163.7,708.4 246.9,715"/><path d="M69.1,676.8Q131.7,609.9 190.6,621.7"/><path d="M68.7,664.7Q165.3,705.5 248.7,713.3"/><path d="M71.3,677.8Q133.5,610.3 192.5,622.7"/><path d="M70.7,662.8Q166.8,702.8 250.5,711.6"/><path d="M73.6,678.8Q135.4,610.7 194.5,623.6"/><path d="M72.8,660.9Q168.3,700.1 252.3,710"/><path d="M75.9,679.7Q137.3,611.1 196.4,624.5"/><path d="M74.9,659.1Q169.9,697.5 254,708.5"/><path d="M78.1,680.7Q139.2,611.5 198.4,625.5"/><path d="M76.9,657.3Q171.4,695 255.8,706.9"/><path d="M80.4,681.6Q141.1,611.9 200.4,626.4"/><path d="M78.9,655.6Q173,692.6 257.5,705.5"/><path d="M82.7,682.6Q143.1,612.3 202.4,627.3"/><path d="M81,653.9Q174.5,690.2 259.3,704"/><path d="M85,683.5Q145,612.7 204.4,628.3"/><path d="M83,652.3Q176.1,687.9 261,702.6"/><path d="M87.4,684.5Q147,613.1 206.4,629.2"/><path d="M85,650.7Q177.6,685.7 262.7,701.2"/><path d="M89.7,685.4Q149,613.6 208.4,630.1"/><path d="M86.9,649.1Q179.1,683.6 264.4,699.9"/><path d="M92,686.3Q151,614 210.5,631"/><path d="M88.9,647.6Q180.7,681.5 266.1,698.6"/><path d="M94.4,687.2Q153,614.5 212.5,631.9"/><path d="M90.9,646.1Q182.2,679.6 267.8,697.4"/><path d="M96.8,688.1Q155,615 214.6,632.8"/><path d="M92.8,644.7Q183.8,677.7 269.5,696.1"/><path d="M99.1,689Q157.1,615.5 216.7,633.7"/><path d="M94.7,643.3Q185.3,675.8 271.2,695"/><path d="M101.5,689.9Q159.1,616 218.8,634.6"/><path d="M96.7,642Q186.9,674.1 272.8,693.8"/><path d="M103.9,690.8Q161.2,616.5 220.9,635.5"/><path d="M98.6,640.7Q188.4,672.4 274.5,692.7"/><path d="M106.3,691.7Q163.3,617 223,636.4"/><path d="M100.5,639.4Q190,670.8 276.2,691.6"/><path d="M108.7,692.6Q165.4,617.6 225.1,637.3"/><path d="M102.3,638.2Q191.5,669.2 277.8,690.6"/><path d="M111.1,693.4Q167.5,618.1 227.3,638.2"/><path d="M104.2,637.1Q193,667.7 279.4,689.6"/><path d="M113.5,694.3Q169.7,618.7 229.4,639.1"/><path d="M106.1,635.9Q194.6,666.3 281.1,688.6"/><path d="M116,695.1Q171.8,619.3 231.6,640"/><path d="M107.9,634.8Q196.1,664.9 282.7,687.7"/><path d="M118.4,696Q174,619.9 233.8,640.9"/><path d="M109.7,633.8Q197.7,663.7 284.3,686.8"/><path d="M120.9,696.8Q176.2,620.5 236,641.7"/><path d="M111.6,632.7Q199.2,662.4 285.9,685.9"/><path d="M123.3,697.6Q178.4,621.1 238.2,642.6"/><path d="M113.4,631.7Q200.8,661.3 287.5,685"/><path d="M125.8,698.4Q180.6,621.7 240.4,643.5"/><path d="M115.2,630.8Q202.3,660.2 289.1,684.2"/><path d="M128.3,699.2Q182.9,622.4 242.6,644.3"/><path d="M117,629.9Q203.8,659.1 290.7,683.5"/><path d="M130.8,700Q185.1,623 244.9,645.2"/><path d="M118.7,629Q205.4,658.1 292.2,682.7"/><path d="M133.3,700.8Q187.4,623.7 247.1,646"/><path d="M120.5,628.2Q206.9,657.2 293.8,682"/><path d="M135.8,701.6Q189.7,624.4 249.4,646.9"/><path d="M122.2,627.3Q208.4,656.4 295.3,681.3"/><path d="M138.3,702.3Q192,625.1 251.7,647.7"/><path d="M124,626.6Q210,655.6 296.9,680.6"/><path d="M140.8,703.1Q194.3,625.8 254,648.5"/><path d="M125.7,625.8Q211.5,654.8 298.4,680"/><path d="M143.4,703.8Q196.7,626.5 256.3,649.3"/><path d="M127.4,625.1Q213,654.1 299.9,679.4"/><path d="M145.9,704.5Q199,627.2 258.6,650.2"/><path d="M129.1,624.4Q214.5,653.5 301.4,678.8"/><path d="M148.4,705.2Q201.4,628 261,651"/><path d="M130.8,623.8Q216.1,652.9 303,678.3"/><path d="M151,705.9Q203.8,628.8 263.3,651.8"/><path d="M132.5,623.2Q217.6,652.4 304.5,677.8"/><path d="M153.6,706.6Q206.2,629.6 265.7,652.6"/><path d="M134.2,622.6Q219.1,651.9 305.9,677.3"/><path d="M156.1,707.3Q208.7,630.4 268,653.3"/><path d="M135.8,622.1Q220.6,651.4 307.4,676.8"/><path d="M158.7,708Q211.1,631.2 270.4,654.1"/><path d="M137.5,621.5Q222.1,651.1 308.9,676.3"/><path d="M161.3,708.6Q213.6,632 272.8,654.9"/><path d="M139.1,621Q223.7,650.7 310.4,675.9"/><path d="M163.9,709.2Q216.1,632.8 275.2,655.7"/><path d="M140.7,620.6Q225.2,650.5 311.8,675.5"/><path d="M166.5,709.8Q218.6,633.7 277.6,656.4"/><path d="M142.3,620.1Q226.7,650.2 313.3,675.2"/><path d="M169.1,710.4Q221.1,634.6 280.1,657.2"/><path d="M143.9,619.7Q228.2,650.1 314.7,674.8"/><path d="M171.7,711Q223.6,635.5 282.5,657.9"/><path d="M145.5,619.4Q229.7,649.9 316.1,674.5"/><path d="M174.3,711.6Q226.2,636.4 285,658.6"/><path d="M147.1,619Q231.2,649.8 317.6,674.2"/><path d="M176.9,712.2Q228.7,637.3 287.4,659.4"/><path d="M148.7,618.7Q232.7,649.8 319,674"/><path d="M179.5,712.7Q231.3,638.3 289.9,660.1"/><path d="M150.2,618.4Q234.2,649.8 320.4,673.7"/><path d="M182.2,713.2Q233.9,639.2 292.4,660.8"/><path d="M151.8,618.1Q235.6,649.8 321.8,673.5"/><path d="M184.8,713.8Q236.6,640.2 294.9,661.5"/><path d="M153.3,617.9Q237.1,649.9 323.2,673.3"/><path d="M187.5,714.3Q239.2,641.2 297.4,662.1"/><path d="M154.8,617.7Q238.6,650 324.6,673.1"/><path d="M190.1,714.7Q241.9,642.2 300,662.8"/><path d="M156.3,617.5Q240.1,650.2 325.9,672.9"/><path d="M192.8,715.2Q244.5,643.2 302.5,663.5"/><path d="M157.8,617.3Q241.6,650.4 327.3,672.8"/><path d="M195.4,715.6Q247.2,644.3 305.1,664.1"/><path d="M159.3,617.2Q243,650.7 328.6,672.7"/><path d="M198.1,716.1Q250,645.4 307.6,664.8"/><path d="M160.8,617.1Q244.5,651 330,672.6"/><path d="M200.8,716.5Q252.7,646.5 310.2,665.4"/><path d="M162.3,617Q246,651.3 331.3,672.5"/><path d="M203.5,716.9Q255.5,647.6 312.8,666"/><path d="M163.7,616.9Q247.4,651.6 332.7,672.5"/><path d="M206.2,717.2Q258.2,648.7 315.4,666.7"/><path d="M165.2,616.8Q248.9,652 334,672.4"/><path d="M208.8,717.6Q261,649.8 318,667.3"/><path d="M166.6,616.8Q250.3,652.5 335.3,672.4"/><path d="M211.5,717.9Q263.8,651 320.7,667.8"/><path d="M168,616.8Q251.7,653 336.6,672.4"/><path d="M214.2,718.3Q266.7,652.2 323.3,668.4"/><path d="M169.5,616.8Q253.2,653.5 337.9,672.4"/><path d="M217,718.6Q269.5,653.4 326,669"/><path d="M170.9,616.8Q254.6,654 339.2,672.4"/><path d="M219.7,718.8Q272.4,654.6 328.6,669.5"/><path d="M172.2,616.9Q256,654.6 340.5,672.5"/><path d="M222.4,719.1Q275.3,655.8 331.3,670.1"/><path d="M173.6,617Q257.5,655.2 341.7,672.6"/><path d="M225.1,719.3Q278.2,657.1 334,670.6"/><path d="M175,617.1Q258.9,655.8 343,672.7"/><path d="M227.8,719.5Q281.1,658.4 336.7,671.1"/><path d="M176.4,617.2Q260.3,656.5 344.3,672.8"/><path d="M230.5,719.7Q284.1,659.7 339.4,671.6"/><path d="M177.7,617.3Q261.7,657.2 345.5,672.9"/><path d="M233.3,719.9Q287,661 342.1,672.1"/><path d="M179,617.4Q263.1,657.9 346.7,673"/><path d="M236,720.1Q290,662.3 344.9,672.6"/><path d="M180.4,617.6Q264.5,658.7 348,673.2"/><path d="M238.8,720.2Q293,663.7 347.6,673.1"/><path d="M181.7,617.8Q265.9,659.4 349.2,673.3"/><path d="M241.5,720.3Q296.1,665.1 350.4,673.5"/><path d="M183,618Q267.3,660.2 350.4,673.5"/></g>
<ellipse cx="59.5" cy="675.3" rx="2.8" ry="1.9" fill="#ffb4bc" stroke="#b07070" stroke-width="0.4"/>
<ellipse cx="183.1" cy="617.2" rx="2.8" ry="1.9" fill="#ffb4bc" stroke="#b07070" stroke-width="0.4"/>
<ellipse cx="242" cy="719" rx="2.8" ry="1.9" fill="#e60000" stroke="#701010" stroke-width="0.4"/>
<ellipse cx="351.5" cy="667.9" rx="2.8" ry="1.9" fill="#e60000" stroke="#701010" stroke-width="0.4"/>
<ellipse cx="209.3" cy="644.2" rx="2.8" ry="1.9" fill="#e60000" stroke="#701010" stroke-width="0.4"/>
<ellipse cx="209.3" cy="648" rx="2.8" ry="1.9" fill="#e60000" stroke="#701010" stroke-width="0.4"/>
<path d="M209.3,648L209.3,655" stroke="#222" stroke-width="0.5"/>
<g font-size="6.4" font-weight="bold" fill="#000" stroke="#000" stroke-width="0.35"><text x="52.4" y="625.8" text-anchor="end" textLength="9.4" lengthAdjust="spacingAndGlyphs">160</text><text x="53.8" y="642.6" text-anchor="end" textLength="9.4" lengthAdjust="spacingAndGlyphs">159</text><text x="55.2" y="659.5" text-anchor="end" textLength="9.4" lengthAdjust="spacingAndGlyphs">158</text><text x="56.6" y="676.3" text-anchor="end" textLength="9.4" lengthAdjust="spacingAndGlyphs">157</text><text x="58" y="693.1" text-anchor="end" textLength="9.4" lengthAdjust="spacingAndGlyphs">156</text><text x="59.4" y="710" text-anchor="end" textLength="9.4" lengthAdjust="spacingAndGlyphs">155</text><text x="60.8" y="726.8" text-anchor="end" textLength="9.4" lengthAdjust="spacingAndGlyphs">154</text><text x="63.7" y="764.9" text-anchor="end" textLength="11.7" lengthAdjust="spacingAndGlyphs">1.00</text><text x="107.2" y="774.6" text-anchor="end" textLength="11.7" lengthAdjust="spacingAndGlyphs">0.50</text><text x="150.7" y="784.3" text-anchor="end" textLength="11.7" lengthAdjust="spacingAndGlyphs">0.00</text><text x="194.2" y="794" text-anchor="end" textLength="13.7" lengthAdjust="spacingAndGlyphs">-0.50</text><text x="237.7" y="803.7" text-anchor="end" textLength="13.7" lengthAdjust="spacingAndGlyphs">-1.00</text><text x="244.6" y="803.9" textLength="13.7" lengthAdjust="spacingAndGlyphs">-1.00</text><text x="270.9" y="790" textLength="13.7" lengthAdjust="spacingAndGlyphs">-0.50</text><text x="297.1" y="776.1" textLength="11.7" lengthAdjust="spacingAndGlyphs">0.00</text><text x="323.4" y="762.2" textLength="11.7" lengthAdjust="spacingAndGlyphs">0.50</text><text x="349.6" y="748.3" textLength="11.7" lengthAdjust="spacingAndGlyphs">1.00</text></g>
<g font-size="9" fill="#111" stroke="#000" stroke-width="0.5"><text x="74" y="803.4" textLength="69" lengthAdjust="spacingAndGlyphs">D: Ultrasonic time</text><text x="317" y="787.5" textLength="74" lengthAdjust="spacingAndGlyphs" xml:space="preserve">B: Solid–liquid ratio</text><text transform="translate(11.2,737.5) rotate(-90)" textLength="83.0" lengthAdjust="spacingAndGlyphs">Total Extraction Yield</text></g>
<text x="176.6" y="849.8" text-anchor="middle" font-family="'Liberation Serif',serif" font-size="20" fill="#000">(<tspan font-weight="bold">E</tspan>)</text>
</g>
<g id="pF">
<polygon points="465,769 650,799 721,740 556,719" fill="#ffff00"/>
<path d="M501.7,773.3Q522,755 530,733.3" fill="none" stroke="#30e0c0" stroke-width="0.7"/>
<path d="M572,721.7Q585,745 622,756.7Q650,764 688.7,763.3" fill="none" stroke="#30e0c0" stroke-width="0.7"/>
<path d="M465,769L556,719L721,740" fill="none" stroke="#555" stroke-width="0.5"/>
<path d="M479.2,632.4L485.7,726.5M597.2,610.2L597.2,696.7M503.8,623.6L508.9,714.9M641.5,614.5L639.2,701.7M528.4,614.8L532.1,703.3M685.8,618.8L681.2,706.7M553,606L556,719M730,623L721,740M454.6,641.2L553,606L730,623M455.9,657.3L553.4,620.2L728.9,637.7M457.2,673.5L553.8,634.6L727.7,652.6M458.5,689.6L554.1,648.8L726.6,667.3M459.9,705.8L554.5,663.1L725.5,682.1M461.2,721.9L554.9,677.4L724.3,696.9M462.5,738.1L555.3,691.7L723.2,711.7" fill="none" stroke="#3c3c3c" stroke-width="0.75"/>
<path d="M454.6,641.2L465,769L650,799L721,740" fill="none" stroke="#111" stroke-width="0.75"/>
<path d="M454.6,641.2l-1.6,0.4M455.9,657.3l-1.6,0.4M457.2,673.5l-1.6,0.4M458.5,689.6l-1.6,0.4M459.9,705.8l-1.6,0.4M461.2,721.9l-1.6,0.4M462.5,738.1l-1.6,0.4M465,769l-1.3,1.0M650,799l1.3,1.0M511.2,776.5l-1.3,1.0M667.8,784.2l1.3,1.0M557.5,784l-1.3,1.0M685.5,769.5l1.3,1.0M603.8,791.5l-1.3,1.0M703.2,754.8l1.3,1.0M650,799l-1.3,1.0M721,740l1.3,1.0" fill="none" stroke="#000" stroke-width="1.3"/>
<g fill="currentColor" stroke="currentColor" stroke-width="0.6"><polygon color="#37a500" points="551.3,643.4 559.6,641.4 564.2,637.9 556,640"/><polygon color="#2ba100" points="546.7,646.8 555,644.8 559.6,641.4 551.3,643.4"/><polygon color="#56b200" points="559.6,641.4 567.9,639.5 572.4,636.1 564.2,637.9"/><polygon color="#1f9e00" points="542,650.1 550.4,648.1 555,644.8 546.7,646.8"/><polygon color="#48af00" points="555,644.8 563.3,642.9 567.9,639.5 559.6,641.4"/><polygon color="#77bf00" points="567.9,639.5 576.2,637.9 580.7,634.4 572.4,636.1"/><polygon color="#149b00" points="537.3,653.4 545.8,651.4 550.4,648.1 542,650.1"/><polygon color="#3bad00" points="550.4,648.1 558.8,646.3 563.3,642.9 555,644.8"/><polygon color="#68bc00" points="563.3,642.9 571.7,641.3 576.2,637.9 567.9,639.5"/><polygon color="#99cc00" points="576.2,637.9 584.6,636.4 589,632.9 580.7,634.4"/><polygon color="#0b9800" points="532.6,656.6 541.2,654.6 545.8,651.4 537.3,653.4"/><polygon color="#2faa00" points="545.8,651.4 554.3,649.6 558.8,646.3 550.4,648.1"/><polygon color="#59ba00" points="558.8,646.3 567.3,644.7 571.7,641.3 563.3,642.9"/><polygon color="#89ca00" points="571.7,641.3 580.2,639.9 584.6,636.4 576.2,637.9"/><polygon color="#bed900" points="584.6,636.4 593,635.2 597.4,631.6 589,632.9"/><polygon color="#029600" points="527.9,659.8 536.5,657.8 541.2,654.6 532.6,656.6"/><polygon color="#24a800" points="541.2,654.6 549.7,652.9 554.3,649.6 545.8,651.4"/><polygon color="#4cb900" points="554.3,649.6 562.8,648 567.3,644.7 558.8,646.3"/><polygon color="#7ac800" points="567.3,644.7 575.7,643.3 580.2,639.9 571.7,641.3"/><polygon color="#acd700" points="580.2,639.9 588.6,638.6 593,635.2 584.6,636.4"/><polygon color="#e3e600" points="593,635.2 601.5,634.1 605.8,630.5 597.4,631.6"/><polygon color="#009306" points="523.2,662.9 531.9,661 536.5,657.8 527.9,659.8"/><polygon color="#1aa600" points="536.5,657.8 545.2,656.1 549.7,652.9 541.2,654.6"/><polygon color="#40b700" points="549.7,652.9 558.3,651.3 562.8,648 554.3,649.6"/><polygon color="#6bc700" points="562.8,648 571.3,646.6 575.7,643.3 567.3,644.7"/><polygon color="#9bd600" points="575.7,643.3 584.2,642.1 588.6,638.6 580.2,639.9"/><polygon color="#d0e500" points="588.6,638.6 597.1,637.6 601.5,634.1 593,635.2"/><polygon color="#f4de00" points="601.5,634.1 610,633.2 614.3,629.6 605.8,630.5"/><polygon color="#00920d" points="518.5,666 527.3,664.1 531.9,661 523.2,662.9"/><polygon color="#10a500" points="531.9,661 540.6,659.3 545.2,656.1 536.5,657.8"/><polygon color="#34b500" points="545.2,656.1 553.8,654.6 558.3,651.3 549.7,652.9"/><polygon color="#5dc500" points="558.3,651.3 566.9,650 571.3,646.6 562.8,648"/><polygon color="#8bd500" points="571.3,646.6 579.9,645.5 584.2,642.1 575.7,643.3"/><polygon color="#bee400" points="584.2,642.1 592.8,641.1 597.1,637.6 588.6,638.6"/><polygon color="#f3f100" points="597.1,637.6 605.6,636.8 610,633.2 601.5,634.1"/><polygon color="#ffd000" points="610,633.2 618.5,632.6 622.8,628.9 614.3,629.6"/><polygon color="#009014" points="513.7,669 522.6,667.2 527.3,664.1 518.5,666"/><polygon color="#07a300" points="527.3,664.1 536,662.4 540.6,659.3 531.9,661"/><polygon color="#29b400" points="540.6,659.3 549.3,657.8 553.8,654.6 545.2,656.1"/><polygon color="#50c400" points="553.8,654.6 562.5,653.3 566.9,650 558.3,651.3"/><polygon color="#7cd400" points="566.9,650 575.5,648.9 579.9,645.5 571.3,646.6"/><polygon color="#ace300" points="579.9,645.5 588.4,644.6 592.8,641.1 584.2,642.1"/><polygon color="#e1f200" points="592.8,641.1 601.3,640.3 605.6,636.8 597.1,637.6"/><polygon color="#ffe500" points="605.6,636.8 614.2,636.2 618.5,632.6 610,633.2"/><polygon color="#ffba00" points="618.5,632.6 627.1,632.1 631.4,628.3 622.8,628.9"/><polygon color="#008f1b" points="509,672 518,670.2 522.6,667.2 513.7,669"/><polygon color="#00a101" points="522.6,667.2 531.5,665.5 536,662.4 527.3,664.1"/><polygon color="#1fb200" points="536,662.4 544.8,661 549.3,657.8 540.6,659.3"/><polygon color="#44c200" points="549.3,657.8 558,656.5 562.5,653.3 553.8,654.6"/><polygon color="#6dd200" points="562.5,653.3 571.1,652.2 575.5,648.9 566.9,650"/><polygon color="#9ce200" points="575.5,648.9 584.1,648 588.4,644.6 579.9,645.5"/><polygon color="#cef100" points="588.4,644.6 597.1,643.8 601.3,640.3 592.8,641.1"/><polygon color="#fffa00" points="601.3,640.3 609.9,639.8 614.2,636.2 605.6,636.8"/><polygon color="#ffd000" points="614.2,636.2 622.8,635.8 627.1,632.1 618.5,632.6"/><polygon color="#ffa700" points="627.1,632.1 635.7,631.8 640,628 631.4,628.3"/><polygon color="#008e21" points="504.2,674.9 513.3,673.1 518,670.2 509,672"/><polygon color="#00a008" points="518,670.2 526.9,668.6 531.5,665.5 522.6,667.2"/><polygon color="#15b100" points="531.5,665.5 540.3,664.1 544.8,661 536,662.4"/><polygon color="#38c100" points="544.8,661 553.6,659.7 558,656.5 549.3,657.8"/><polygon color="#60d100" points="558,656.5 566.8,655.5 571.1,652.2 562.5,653.3"/><polygon color="#8ce100" points="571.1,652.2 579.8,651.3 584.1,648 575.5,648.9"/><polygon color="#bcf000" points="584.1,648 592.8,647.3 597.1,643.8 588.4,644.6"/><polygon color="#efff00" points="597.1,643.8 605.7,643.3 609.9,639.8 601.3,640.3"/><polygon color="#ffe600" points="609.9,639.8 618.6,639.4 622.8,635.8 614.2,636.2"/><polygon color="#ffbe00" points="622.8,635.8 631.5,635.6 635.7,631.8 627.1,632.1"/><polygon color="#ff9500" points="635.7,631.8 644.4,631.7 648.7,627.8 640,628"/><polygon color="#008d27" points="499.5,677.8 508.6,676 513.3,673.1 504.2,674.9"/><polygon color="#009f10" points="513.3,673.1 522.3,671.6 526.9,668.6 518,670.2"/><polygon color="#0cb000" points="526.9,668.6 535.9,667.2 540.3,664.1 531.5,665.5"/><polygon color="#2dc000" points="540.3,664.1 549.2,662.9 553.6,659.7 544.8,661"/><polygon color="#53d000" points="553.6,659.7 562.4,658.7 566.8,655.5 558,656.5"/><polygon color="#7ce000" points="566.8,655.5 575.5,654.7 579.8,651.3 571.1,652.2"/><polygon color="#aaef00" points="579.8,651.3 588.5,650.7 592.8,647.3 584.1,648"/><polygon color="#dcfe00" points="592.8,647.3 601.5,646.8 605.7,643.3 597.1,643.8"/><polygon color="#fffb00" points="605.7,643.3 614.3,643 618.6,639.4 609.9,639.8"/><polygon color="#ffd500" points="618.6,639.4 627.2,639.3 631.5,635.6 622.8,635.8"/><polygon color="#ffae00" points="631.5,635.6 640.2,635.6 644.4,631.7 635.7,631.8"/><polygon color="#ff8700" points="644.4,631.7 653.1,631.8 657.4,627.9 648.7,627.8"/><polygon color="#008c2c" points="494.7,680.6 503.9,678.9 508.6,676 499.5,677.8"/><polygon color="#009e16" points="508.6,676 517.8,674.5 522.3,671.6 513.3,673.1"/><polygon color="#03ae00" points="522.3,671.6 531.4,670.2 535.9,667.2 526.9,668.6"/><polygon color="#23bf00" points="535.9,667.2 544.8,666 549.2,662.9 540.3,664.1"/><polygon color="#46cf00" points="549.2,662.9 558.1,662 562.4,658.7 553.6,659.7"/><polygon color="#6ede00" points="562.4,658.7 571.2,658 575.5,654.7 566.8,655.5"/><polygon color="#99ee00" points="575.5,654.7 584.3,654.1 588.5,650.7 579.8,651.3"/><polygon color="#c8fd00" points="588.5,650.7 597.2,650.3 601.5,646.8 592.8,647.3"/><polygon color="#eeff00" points="601.5,646.8 610.1,646.6 614.3,643 605.7,643.3"/><polygon color="#ffea00" points="614.3,643 623,642.9 627.2,639.3 618.6,639.4"/><polygon color="#ffc600" points="627.2,639.3 635.9,639.3 640.2,635.6 631.5,635.6"/><polygon color="#ffa000" points="640.2,635.6 648.9,635.8 653.1,631.8 644.4,631.7"/><polygon color="#ff7a00" points="653.1,631.8 661.9,632.2 666.2,628.1 657.4,627.9"/><polygon color="#008b30" points="489.9,683.4 499.3,681.7 503.9,678.9 494.7,680.6"/><polygon color="#009c1c" points="503.9,678.9 513.2,677.4 517.8,674.5 508.6,676"/><polygon color="#00ad03" points="517.8,674.5 526.9,673.2 531.4,670.2 522.3,671.6"/><polygon color="#19be00" points="531.4,670.2 540.4,669.1 544.8,666 535.9,667.2"/><polygon color="#3bce00" points="544.8,666 553.7,665.1 558.1,662 549.2,662.9"/><polygon color="#60dd00" points="558.1,662 566.9,661.2 571.2,658 562.4,658.7"/><polygon color="#89ed00" points="571.2,658 580,657.4 584.3,654.1 575.5,654.7"/><polygon color="#b6fc00" points="584.3,654.1 593,653.7 597.2,650.3 588.5,650.7"/><polygon color="#dbff00" points="597.2,650.3 606,650.1 610.1,646.6 601.5,646.8"/><polygon color="#feff00" points="610.1,646.6 618.8,646.6 623,642.9 614.3,643"/><polygon color="#ffdc00" points="623,642.9 631.7,643.1 635.9,639.3 627.2,639.3"/><polygon color="#ffb900" points="635.9,639.3 644.7,639.6 648.9,635.8 640.2,635.6"/><polygon color="#ff9500" points="648.9,635.8 657.6,636.2 661.9,632.2 653.1,631.8"/><polygon color="#ff7000" points="661.9,632.2 670.7,632.7 675,628.5 666.2,628.1"/><polygon color="#008a35" points="485.1,686.1 494.6,684.5 499.3,681.7 489.9,683.4"/><polygon color="#009b22" points="499.3,681.7 508.6,680.3 513.2,677.4 503.9,678.9"/><polygon color="#00ac0b" points="513.2,677.4 522.4,676.2 526.9,673.2 517.8,674.5"/><polygon color="#10bd00" points="526.9,673.2 536,672.2 540.4,669.1 531.4,670.2"/><polygon color="#30cc00" points="540.4,669.1 549.4,668.3 553.7,665.1 544.8,666"/><polygon color="#53dc00" points="553.7,665.1 562.7,664.4 566.9,661.2 558.1,662"/><polygon color="#7aec00" points="566.9,661.2 575.8,660.7 580,657.4 571.2,658"/><polygon color="#a4fb00" points="580,657.4 588.8,657.1 593,653.7 584.3,654.1"/><polygon color="#c9ff00" points="593,653.7 601.8,653.6 606,650.1 597.2,650.3"/><polygon color="#eaff00" points="606,650.1 614.7,650.1 618.8,646.6 610.1,646.6"/><polygon color="#fff200" points="618.8,646.6 627.6,646.8 631.7,643.1 623,642.9"/><polygon color="#ffd100" points="631.7,643.1 640.5,643.4 644.7,639.6 635.9,639.3"/><polygon color="#ffaf00" points="644.7,639.6 653.4,640.1 657.6,636.2 648.9,635.8"/><polygon color="#ff8c00" points="657.6,636.2 666.4,636.8 670.7,632.7 661.9,632.2"/><polygon color="#ff6800" points="670.7,632.7 679.5,633.4 683.9,629.1 675,628.5"/><polygon color="#008938" points="480.3,688.8 489.9,687.2 494.6,684.5 485.1,686.1"/><polygon color="#009b27" points="494.6,684.5 504,683.1 508.6,680.3 499.3,681.7"/><polygon color="#00ab11" points="508.6,680.3 517.9,679.1 522.4,676.2 513.2,677.4"/><polygon color="#08bb00" points="522.4,676.2 531.5,675.2 536,672.2 526.9,673.2"/><polygon color="#26cb00" points="536,672.2 545,671.4 549.4,668.3 540.4,669.1"/><polygon color="#47db00" points="549.4,668.3 558.4,667.6 562.7,664.4 553.7,665.1"/><polygon color="#6cea00" points="562.7,664.4 571.6,664 575.8,660.7 566.9,661.2"/><polygon color="#94f900" points="575.8,660.7 584.6,660.5 588.8,657.1 580,657.4"/><polygon color="#b7ff00" points="588.8,657.1 597.6,657 601.8,653.6 593,653.7"/><polygon color="#d7ff00" points="601.8,653.6 610.6,653.7 614.7,650.1 606,650.1"/><polygon color="#f6ff00" points="614.7,650.1 623.4,650.4 627.6,646.8 618.8,646.6"/><polygon color="#ffe700" points="627.6,646.8 636.3,647.2 640.5,643.4 631.7,643.1"/><polygon color="#ffc800" points="640.5,643.4 649.2,644 653.4,640.1 644.7,639.6"/><polygon color="#ffa800" points="653.4,640.1 662.2,640.8 666.4,636.8 657.6,636.2"/><polygon color="#ff8600" points="666.4,636.8 675.3,637.6 679.5,633.4 670.7,632.7"/><polygon color="#ff6300" points="679.5,633.4 688.4,634.3 692.8,629.9 683.9,629.1"/><polygon color="#00893c" points="475.5,691.4 485.2,689.9 489.9,687.2 480.3,688.8"/><polygon color="#009a2c" points="489.9,687.2 499.4,685.9 504,683.1 494.6,684.5"/><polygon color="#00aa18" points="504,683.1 513.4,682 517.9,679.1 508.6,680.3"/><polygon color="#00ba00" points="517.9,679.1 527.1,678.2 531.5,675.2 522.4,676.2"/><polygon color="#1cca00" points="531.5,675.2 540.7,674.4 545,671.4 536,672.2"/><polygon color="#3cda00" points="545,671.4 554.1,670.8 558.4,667.6 549.4,668.3"/><polygon color="#5fe900" points="558.4,667.6 567.4,667.2 571.6,664 562.7,664.4"/><polygon color="#84f800" points="571.6,664 580.5,663.8 584.6,660.5 575.8,660.7"/><polygon color="#a7ff00" points="584.6,660.5 593.5,660.4 597.6,657 588.8,657.1"/><polygon color="#c5ff00" points="597.6,657 606.4,657.2 610.6,653.7 601.8,653.6"/><polygon color="#e3ff00" points="610.6,653.7 619.3,654 623.4,650.4 614.7,650.1"/><polygon color="#fffd00" points="623.4,650.4 632.2,650.9 636.3,647.2 627.6,646.8"/><polygon color="#ffe000" points="636.3,647.2 645.1,647.8 649.2,644 640.5,643.4"/><polygon color="#ffc200" points="649.2,644 658,644.8 662.2,640.8 653.4,640.1"/><polygon color="#ffa300" points="662.2,640.8 671,641.7 675.3,637.6 666.4,636.8"/><polygon color="#ff8200" points="675.3,637.6 684.1,638.6 688.4,634.3 679.5,633.4"/><polygon color="#ff5f00" points="688.4,634.3 697.4,635.4 701.8,630.9 692.8,629.9"/><polygon color="#00883f" points="470.7,693.9 480.4,692.5 485.2,689.9 475.5,691.4"/><polygon color="#009930" points="485.2,689.9 494.8,688.7 499.4,685.9 489.9,687.2"/><polygon color="#00aa1d" points="499.4,685.9 508.9,684.8 513.4,682 504,683.1"/><polygon color="#00b906" points="513.4,682 522.7,681.1 527.1,678.2 517.9,679.1"/><polygon color="#13c900" points="527.1,678.2 536.4,677.4 540.7,674.4 531.5,675.2"/><polygon color="#31d800" points="540.7,674.4 549.9,673.9 554.1,670.8 545,671.4"/><polygon color="#52e700" points="554.1,670.8 563.2,670.4 567.4,667.2 558.4,667.6"/><polygon color="#75f600" points="567.4,667.2 576.3,667 580.5,663.8 571.6,664"/><polygon color="#97ff00" points="580.5,663.8 589.4,663.8 593.5,660.4 584.6,660.5"/><polygon color="#b4ff00" points="593.5,660.4 602.4,660.6 606.4,657.2 597.6,657"/><polygon color="#d0ff00" points="606.4,657.2 615.3,657.5 619.3,654 610.6,653.7"/><polygon color="#ebff00" points="619.3,654 628.1,654.5 632.2,650.9 623.4,650.4"/><polygon color="#fff600" points="632.2,650.9 641,651.6 645.1,647.8 636.3,647.2"/><polygon color="#ffda00" points="645.1,647.8 653.9,648.7 658,644.8 649.2,644"/><polygon color="#ffbe00" points="658,644.8 666.8,645.7 671,641.7 662.2,640.8"/><polygon color="#ffa000" points="671,641.7 679.9,642.8 684.1,638.6 675.3,637.6"/><polygon color="#ff8000" points="684.1,638.6 693,639.8 697.4,635.4 688.4,634.3"/><polygon color="#ff5e00" points="697.4,635.4 706.3,636.7 710.8,632.1 701.8,630.9"/><polygon color="#008841" points="465.8,696.4 475.7,695.1 480.4,692.5 470.7,693.9"/><polygon color="#009834" points="480.4,692.5 490.2,691.4 494.8,688.7 485.2,689.9"/><polygon color="#00a922" points="494.8,688.7 504.4,687.6 508.9,684.8 499.4,685.9"/><polygon color="#00b90d" points="508.9,684.8 518.3,684 522.7,681.1 513.4,682"/><polygon color="#0bc800" points="522.7,681.1 532.1,680.4 536.4,677.4 527.1,678.2"/><polygon color="#27d700" points="536.4,677.4 545.6,676.9 549.9,673.9 540.7,674.4"/><polygon color="#46e600" points="549.9,673.9 559,673.5 563.2,670.4 554.1,670.8"/><polygon color="#67f500" points="563.2,670.4 572.2,670.2 576.3,667 567.4,667.2"/><polygon color="#88ff00" points="576.3,667 585.3,667.1 589.4,663.8 580.5,663.8"/><polygon color="#a3ff00" points="589.4,663.8 598.3,664 602.4,660.6 593.5,660.4"/><polygon color="#beff00" points="602.4,660.6 611.2,661 615.3,657.5 606.4,657.2"/><polygon color="#d8ff00" points="615.3,657.5 624.1,658.1 628.1,654.5 619.3,654"/><polygon color="#f1ff00" points="628.1,654.5 636.9,655.3 641,651.6 632.2,650.9"/><polygon color="#fff200" points="641,651.6 649.8,652.5 653.9,648.7 645.1,647.8"/><polygon color="#ffd800" points="653.9,648.7 662.7,649.7 666.8,645.7 658,644.8"/><polygon color="#ffbd00" points="666.8,645.7 675.7,647 679.9,642.8 671,641.7"/><polygon color="#ffa000" points="679.9,642.8 688.7,644.1 693,639.8 684.1,638.6"/><polygon color="#ff8100" points="693,639.8 702,641.2 706.3,636.7 697.4,635.4"/><polygon color="#ff6000" points="706.3,636.7 715.4,638.2 719.9,633.4 710.8,632.1"/><polygon color="#008744" points="461,698.9 471,697.7 475.7,695.1 465.8,696.4"/><polygon color="#009838" points="475.7,695.1 485.5,694 490.2,691.4 480.4,692.5"/><polygon color="#00a827" points="490.2,691.4 499.8,690.4 504.4,687.6 494.8,688.7"/><polygon color="#00b813" points="504.4,687.6 513.9,686.8 518.3,684 508.9,684.8"/><polygon color="#04c700" points="518.3,684 527.7,683.3 532.1,680.4 522.7,681.1"/><polygon color="#1ed600" points="532.1,680.4 541.4,679.9 545.6,676.9 536.4,677.4"/><polygon color="#3be500" points="545.6,676.9 554.8,676.6 559,673.5 549.9,673.9"/><polygon color="#5af300" points="559,673.5 568.1,673.4 572.2,670.2 563.2,670.4"/><polygon color="#7aff00" points="572.2,670.2 581.2,670.3 585.3,667.1 576.3,667"/><polygon color="#94ff00" points="585.3,667.1 594.3,667.4 598.3,664 589.4,663.8"/><polygon color="#adff00" points="598.3,664 607.2,664.5 611.2,661 602.4,660.6"/><polygon color="#c5ff00" points="611.2,661 620.1,661.7 624.1,658.1 615.3,657.5"/><polygon color="#ddff00" points="624.1,658.1 632.9,658.9 636.9,655.3 628.1,654.5"/><polygon color="#f5ff00" points="636.9,655.3 645.7,656.3 649.8,652.5 641,651.6"/><polygon color="#fff000" points="649.8,652.5 658.6,653.6 662.7,649.7 653.9,648.7"/><polygon color="#ffd800" points="662.7,649.7 671.5,651 675.7,647 666.8,645.7"/><polygon color="#ffbe00" points="675.7,647 684.5,648.4 688.7,644.1 679.9,642.8"/><polygon color="#ffa200" points="688.7,644.1 697.6,645.7 702,641.2 693,639.8"/><polygon color="#ff8400" points="702,641.2 710.9,642.9 715.4,638.2 706.3,636.7"/><polygon color="#ff6300" points="715.4,638.2 724.4,639.9 729,635 719.9,633.4"/><polygon color="#00973a" points="471,697.7 480.9,696.6 485.5,694 475.7,695.1"/><polygon color="#00a72b" points="485.5,694 495.3,693.1 499.8,690.4 490.2,691.4"/><polygon color="#00b718" points="499.8,690.4 509.5,689.7 513.9,686.8 504.4,687.6"/><polygon color="#00c602" points="513.9,686.8 523.4,686.2 527.7,683.3 518.3,684"/><polygon color="#15d400" points="527.7,683.3 537.1,682.9 541.4,679.9 532.1,680.4"/><polygon color="#31e300" points="541.4,679.9 550.7,679.7 554.8,676.6 545.6,676.9"/><polygon color="#4ef100" points="554.8,676.6 564,676.6 568.1,673.4 559,673.5"/><polygon color="#6cff00" points="568.1,673.4 577.2,673.6 581.2,670.3 572.2,670.2"/><polygon color="#85ff00" points="581.2,670.3 590.2,670.7 594.3,667.4 585.3,667.1"/><polygon color="#9dff00" points="594.3,667.4 603.2,667.9 607.2,664.5 598.3,664"/><polygon color="#b4ff00" points="607.2,664.5 616.1,665.2 620.1,661.7 611.2,661"/><polygon color="#caff00" points="620.1,661.7 628.9,662.5 632.9,658.9 624.1,658.1"/><polygon color="#e0ff00" points="632.9,658.9 641.7,660 645.7,656.3 636.9,655.3"/><polygon color="#f6ff00" points="645.7,656.3 654.6,657.5 658.6,653.6 649.8,652.5"/><polygon color="#fff100" points="658.6,653.6 667.4,655 671.5,651 662.7,649.7"/><polygon color="#ffda00" points="671.5,651 680.4,652.5 684.5,648.4 675.7,647"/><polygon color="#ffc200" points="684.5,648.4 693.4,650 697.6,645.7 688.7,644.1"/><polygon color="#ffa700" points="697.6,645.7 706.6,647.4 710.9,642.9 702,641.2"/><polygon color="#ff8a00" points="710.9,642.9 720,644.7 724.4,639.9 715.4,638.2"/><polygon color="#00a72f" points="480.9,696.6 490.8,695.8 495.3,693.1 485.5,694"/><polygon color="#00b61d" points="495.3,693.1 505.1,692.4 509.5,689.7 499.8,690.4"/><polygon color="#00c509" points="509.5,689.7 519.1,689.1 523.4,686.2 513.9,686.8"/><polygon color="#0ed300" points="523.4,686.2 532.9,685.9 537.1,682.9 527.7,683.3"/><polygon color="#27e100" points="537.1,682.9 546.5,682.7 550.7,679.7 541.4,679.9"/><polygon color="#42ef00" points="550.7,679.7 559.9,679.7 564,676.6 554.8,676.6"/><polygon color="#5ffe00" points="564,676.6 573.2,676.7 577.2,673.6 568.1,673.4"/><polygon color="#77ff00" points="577.2,673.6 586.3,673.9 590.2,670.7 581.2,670.3"/><polygon color="#8eff00" points="590.2,670.7 599.2,671.2 603.2,667.9 594.3,667.4"/><polygon color="#a3ff00" points="603.2,667.9 612.1,668.6 616.1,665.2 607.2,664.5"/><polygon color="#b8ff00" points="616.1,665.2 625,666.1 628.9,662.5 620.1,661.7"/><polygon color="#ccff00" points="628.9,662.5 637.8,663.6 641.7,660 632.9,658.9"/><polygon color="#e0ff00" points="641.7,660 650.6,661.3 654.6,657.5 645.7,656.3"/><polygon color="#f4ff00" points="654.6,657.5 663.4,658.9 667.4,655 658.6,653.6"/><polygon color="#fff500" points="667.4,655 676.3,656.6 680.4,652.5 671.5,651"/><polygon color="#ffdf00" points="680.4,652.5 689.2,654.3 693.4,650 684.5,648.4"/><polygon color="#ffc800" points="693.4,650 702.3,651.9 706.6,647.4 697.6,645.7"/><polygon color="#ffaf00" points="706.6,647.4 715.6,649.4 720,644.7 710.9,642.9"/><polygon color="#00b522" points="490.8,695.8 500.7,695.2 505.1,692.4 495.3,693.1"/><polygon color="#00c30e" points="505.1,692.4 514.8,691.9 519.1,689.1 509.5,689.7"/><polygon color="#06d200" points="519.1,689.1 528.7,688.8 532.9,685.9 523.4,686.2"/><polygon color="#1ee000" points="532.9,685.9 542.4,685.7 546.5,682.7 537.1,682.9"/><polygon color="#38ed00" points="546.5,682.7 555.8,682.7 559.9,679.7 550.7,679.7"/><polygon color="#53fb00" points="559.9,679.7 569.1,679.9 573.2,676.7 564,676.6"/><polygon color="#6bff00" points="573.2,676.7 582.3,677.1 586.3,673.9 577.2,673.6"/><polygon color="#80ff00" points="586.3,673.9 595.3,674.5 599.2,671.2 590.2,670.7"/><polygon color="#94ff00" points="599.2,671.2 608.2,672 612.1,668.6 603.2,667.9"/><polygon color="#a7ff00" points="612.1,668.6 621.1,669.6 625,666.1 616.1,665.2"/><polygon color="#b9ff00" points="625,666.1 633.9,667.2 637.8,663.6 628.9,662.5"/><polygon color="#cbff00" points="637.8,663.6 646.6,665 650.6,661.3 641.7,660"/><polygon color="#ddff00" points="650.6,661.3 659.4,662.8 663.4,658.9 654.6,657.5"/><polygon color="#efff00" points="663.4,658.9 672.2,660.6 676.3,656.6 667.4,655"/><polygon color="#fffb00" points="676.3,656.6 685.1,658.4 689.2,654.3 680.4,652.5"/><polygon color="#ffe700" points="689.2,654.3 698.1,656.2 702.3,651.9 693.4,650"/><polygon color="#ffd100" points="702.3,651.9 711.2,653.9 715.6,649.4 706.6,647.4"/><polygon color="#00c213" points="500.7,695.2 510.5,694.7 514.8,691.9 505.1,692.4"/><polygon color="#00d000" points="514.8,691.9 524.5,691.6 528.7,688.8 519.1,689.1"/><polygon color="#16de00" points="528.7,688.8 538.2,688.7 542.4,685.7 532.9,685.9"/><polygon color="#2eeb00" points="542.4,685.7 551.8,685.8 555.8,682.7 546.5,682.7"/><polygon color="#48f900" points="555.8,682.7 565.2,683 569.1,679.9 559.9,679.7"/><polygon color="#5fff00" points="569.1,679.9 578.3,680.3 582.3,677.1 573.2,676.7"/><polygon color="#73ff00" points="582.3,677.1 591.4,677.8 595.3,674.5 586.3,673.9"/><polygon color="#86ff00" points="595.3,674.5 604.3,675.3 608.2,672 599.2,671.2"/><polygon color="#97ff00" points="608.2,672 617.2,673 621.1,669.6 612.1,668.6"/><polygon color="#a8ff00" points="621.1,669.6 630,670.8 633.9,667.2 625,666.1"/><polygon color="#b8ff00" points="633.9,667.2 642.7,668.6 646.6,665 637.8,663.6"/><polygon color="#c8ff00" points="646.6,665 655.5,666.5 659.4,662.8 650.6,661.3"/><polygon color="#d7ff00" points="659.4,662.8 668.2,664.5 672.2,660.6 663.4,658.9"/><polygon color="#e7ff00" points="672.2,660.6 681.1,662.5 685.1,658.4 676.3,656.6"/><polygon color="#f9ff00" points="685.1,658.4 694,660.5 698.1,656.2 689.2,654.3"/><polygon color="#fff200" points="698.1,656.2 707,658.4 711.2,653.9 702.3,651.9"/><polygon color="#00cf05" points="510.5,694.7 520.3,694.5 524.5,691.6 514.8,691.9"/><polygon color="#0fdc00" points="524.5,691.6 534.1,691.6 538.2,688.7 528.7,688.8"/><polygon color="#26e900" points="538.2,688.7 547.8,688.7 551.8,685.8 542.4,685.7"/><polygon color="#3df600" points="551.8,685.8 561.2,686 565.2,683 555.8,682.7"/><polygon color="#54ff00" points="565.2,683 574.4,683.4 578.3,680.3 569.1,679.9"/><polygon color="#67ff00" points="578.3,680.3 587.5,681 591.4,677.8 582.3,677.1"/><polygon color="#78ff00" points="591.4,677.8 600.5,678.6 604.3,675.3 595.3,674.5"/><polygon color="#89ff00" points="604.3,675.3 613.4,676.4 617.2,673 608.2,672"/><polygon color="#98ff00" points="617.2,673 626.1,674.2 630,670.8 621.1,669.6"/><polygon color="#a6ff00" points="630,670.8 638.9,672.2 642.7,668.6 633.9,667.2"/><polygon color="#b4ff00" points="642.7,668.6 651.6,670.2 655.5,666.5 646.6,665"/><polygon color="#c1ff00" points="655.5,666.5 664.3,668.3 668.2,664.5 659.4,662.8"/><polygon color="#cfff00" points="668.2,664.5 677.1,666.5 681.1,662.5 672.2,660.6"/><polygon color="#ddff00" points="681.1,662.5 689.9,664.6 694,660.5 685.1,658.4"/><polygon color="#edff00" points="694,660.5 702.8,662.7 707,658.4 698.1,656.2"/><polygon color="#09da00" points="520.3,694.5 530,694.4 534.1,691.6 524.5,691.6"/><polygon color="#1ee700" points="534.1,691.6 543.7,691.7 547.8,688.7 538.2,688.7"/><polygon color="#34f400" points="547.8,688.7 557.2,689 561.2,686 551.8,685.8"/><polygon color="#4aff00" points="561.2,686 570.5,686.5 574.4,683.4 565.2,683"/><polygon color="#5cff00" points="574.4,683.4 583.7,684.1 587.5,681 578.3,680.3"/><polygon color="#6cff00" points="587.5,681 596.7,681.8 600.5,678.6 591.4,677.8"/><polygon color="#7bff00" points="600.5,678.6 609.6,679.7 613.4,676.4 604.3,675.3"/><polygon color="#89ff00" points="613.4,676.4 622.4,677.6 626.1,674.2 617.2,673"/><polygon color="#96ff00" points="626.1,674.2 635.1,675.7 638.9,672.2 630,670.8"/><polygon color="#a2ff00" points="638.9,672.2 647.8,673.9 651.6,670.2 642.7,668.6"/><polygon color="#adff00" points="651.6,670.2 660.5,672.1 664.3,668.3 655.5,666.5"/><polygon color="#b8ff00" points="664.3,668.3 673.2,670.4 677.1,666.5 668.2,664.5"/><polygon color="#c4ff00" points="677.1,666.5 685.9,668.7 689.9,664.6 681.1,662.5"/><polygon color="#d0ff00" points="689.9,664.6 698.8,667 702.8,662.7 694,660.5"/><polygon color="#17e500" points="530,694.4 539.7,694.6 543.7,691.7 534.1,691.6"/><polygon color="#2bf100" points="543.7,691.7 553.3,692 557.2,689 547.8,688.7"/><polygon color="#40fd00" points="557.2,689 566.7,689.6 570.5,686.5 561.2,686"/><polygon color="#51ff00" points="570.5,686.5 579.9,687.2 583.7,684.1 574.4,683.4"/><polygon color="#61ff00" points="583.7,684.1 592.9,685 596.7,681.8 587.5,681"/><polygon color="#6fff00" points="596.7,681.8 605.8,682.9 609.6,679.7 600.5,678.6"/><polygon color="#7bff00" points="609.6,679.7 618.6,681 622.4,677.6 613.4,676.4"/><polygon color="#87ff00" points="622.4,677.6 631.3,679.1 635.1,675.7 626.1,674.2"/><polygon color="#91ff00" points="635.1,675.7 644,677.4 647.8,673.9 638.9,672.2"/><polygon color="#9aff00" points="647.8,673.9 656.7,675.7 660.5,672.1 651.6,670.2"/><polygon color="#a3ff00" points="660.5,672.1 669.3,674.2 673.2,670.4 664.3,668.3"/><polygon color="#acff00" points="673.2,670.4 682,672.6 685.9,668.7 677.1,666.5"/><polygon color="#b6ff00" points="685.9,668.7 694.8,671.1 698.8,667 689.9,664.6"/><polygon color="#24ee00" points="539.7,694.6 549.4,694.9 553.3,692 543.7,691.7"/><polygon color="#37fa00" points="553.3,692 562.8,692.6 566.7,689.6 557.2,689"/><polygon color="#48ff00" points="566.7,689.6 576.1,690.3 579.9,687.2 570.5,686.5"/><polygon color="#57ff00" points="579.9,687.2 589.2,688.1 592.9,685 583.7,684.1"/><polygon color="#64ff00" points="592.9,685 602.1,686.1 605.8,682.9 596.7,681.8"/><polygon color="#6fff00" points="605.8,682.9 614.9,684.3 618.6,681 609.6,679.7"/><polygon color="#79ff00" points="618.6,681 627.6,682.5 631.3,679.1 622.4,677.6"/><polygon color="#81ff00" points="631.3,679.1 640.3,680.9 644,677.4 635.1,675.7"/><polygon color="#89ff00" points="644,677.4 652.9,679.3 656.7,675.7 647.8,673.9"/><polygon color="#90ff00" points="656.7,675.7 665.5,677.9 669.3,674.2 660.5,672.1"/><polygon color="#97ff00" points="669.3,674.2 678.2,676.5 682,672.6 673.2,670.4"/><polygon color="#9eff00" points="682,672.6 690.8,675.1 694.8,671.1 685.9,668.7"/><polygon color="#2ff700" points="549.4,694.9 559,695.5 562.8,692.6 553.3,692"/><polygon color="#40ff00" points="562.8,692.6 572.3,693.3 576.1,690.3 566.7,689.6"/><polygon color="#4eff00" points="576.1,690.3 585.4,691.2 589.2,688.1 579.9,687.2"/><polygon color="#59ff00" points="589.2,688.1 598.4,689.3 602.1,686.1 592.9,685"/><polygon color="#64ff00" points="602.1,686.1 611.3,687.5 614.9,684.3 605.8,682.9"/><polygon color="#6cff00" points="614.9,684.3 624,685.8 627.6,682.5 618.6,681"/><polygon color="#73ff00" points="627.6,682.5 636.6,684.3 640.3,680.9 631.3,679.1"/><polygon color="#79ff00" points="640.3,680.9 649.2,682.8 652.9,679.3 644,677.4"/><polygon color="#7eff00" points="652.9,679.3 661.8,681.5 665.5,677.9 656.7,675.7"/><polygon color="#83ff00" points="665.5,677.9 674.4,680.2 678.2,676.5 669.3,674.2"/><polygon color="#87ff00" points="678.2,676.5 687,679 690.8,675.1 682,672.6"/><polygon color="#39ff00" points="559,695.5 568.6,696.3 572.3,693.3 562.8,692.6"/><polygon color="#45ff00" points="572.3,693.3 581.8,694.2 585.4,691.2 576.1,690.3"/><polygon color="#50ff00" points="585.4,691.2 594.8,692.4 598.4,689.3 589.2,688.1"/><polygon color="#5aff00" points="598.4,689.3 607.7,690.6 611.3,687.5 602.1,686.1"/><polygon color="#61ff00" points="611.3,687.5 620.4,689 624,685.8 614.9,684.3"/><polygon color="#67ff00" points="624,685.8 633,687.6 636.6,684.3 627.6,682.5"/><polygon color="#6bff00" points="636.6,684.3 645.6,686.2 649.2,682.8 640.3,680.9"/><polygon color="#6fff00" points="649.2,682.8 658.2,685 661.8,681.5 652.9,679.3"/><polygon color="#71ff00" points="661.8,681.5 670.7,683.9 674.4,680.2 665.5,677.9"/><polygon color="#73ff00" points="674.4,680.2 683.2,682.8 687,679 678.2,676.5"/><polygon color="#3eff00" points="568.6,696.3 578.1,697.2 581.8,694.2 572.3,693.3"/><polygon color="#48ff00" points="581.8,694.2 591.2,695.4 594.8,692.4 585.4,691.2"/><polygon color="#51ff00" points="594.8,692.4 604.1,693.7 607.7,690.6 598.4,689.3"/><polygon color="#57ff00" points="607.7,690.6 616.9,692.2 620.4,689 611.3,687.5"/><polygon color="#5cff00" points="620.4,689 629.5,690.8 633,687.6 624,685.8"/><polygon color="#5fff00" points="633,687.6 642.1,689.6 645.6,686.2 636.6,684.3"/><polygon color="#60ff00" points="645.6,686.2 654.6,688.4 658.2,685 649.2,682.8"/><polygon color="#61ff00" points="658.2,685 667.1,687.4 670.7,683.9 661.8,681.5"/><polygon color="#61ff00" points="670.7,683.9 679.6,686.5 683.2,682.8 674.4,680.2"/><polygon color="#42ff00" points="578.1,697.2 587.6,698.4 591.2,695.4 581.8,694.2"/><polygon color="#49ff00" points="591.2,695.4 600.6,696.7 604.1,693.7 594.8,692.4"/><polygon color="#4fff00" points="604.1,693.7 613.4,695.3 616.9,692.2 607.7,690.6"/><polygon color="#52ff00" points="616.9,692.2 626,694 629.5,690.8 620.4,689"/><polygon color="#54ff00" points="629.5,690.8 638.6,692.8 642.1,689.6 633,687.6"/><polygon color="#54ff00" points="642.1,689.6 651.1,691.8 654.6,688.4 645.6,686.2"/><polygon color="#53ff00" points="654.6,688.4 663.5,690.9 667.1,687.4 658.2,685"/><polygon color="#51ff00" points="667.1,687.4 676,690.1 679.6,686.5 670.7,683.9"/><polygon color="#43ff00" points="587.6,698.4 597.1,699.7 600.6,696.7 591.2,695.4"/><polygon color="#47ff00" points="600.6,696.7 609.9,698.3 613.4,695.3 604.1,693.7"/><polygon color="#4aff00" points="613.4,695.3 622.6,697.1 626,694 616.9,692.2"/><polygon color="#4bff00" points="626,694 635.2,696 638.6,692.8 629.5,690.8"/><polygon color="#49ff00" points="638.6,692.8 647.6,695 651.1,691.8 642.1,689.6"/><polygon color="#47ff00" points="651.1,691.8 660.1,694.2 663.5,690.9 654.6,688.4"/><polygon color="#43ff00" points="663.5,690.9 672.4,693.5 676,690.1 667.1,687.4"/><polygon color="#42ff00" points="597.1,699.7 606.5,701.3 609.9,698.3 600.6,696.7"/><polygon color="#43ff00" points="609.9,698.3 619.2,700.1 622.6,697.1 613.4,695.3"/><polygon color="#43ff00" points="622.6,697.1 631.8,699 635.2,696 626,694"/><polygon color="#41ff00" points="635.2,696 644.3,698.2 647.6,695 638.6,692.8"/><polygon color="#3cff00" points="647.6,695 656.6,697.5 660.1,694.2 651.1,691.8"/><polygon color="#37ff00" points="660.1,694.2 669,696.9 672.4,693.5 663.5,690.9"/><polygon color="#3eff00" points="606.5,701.3 615.9,703 619.2,700.1 609.9,698.3"/><polygon color="#3dff00" points="619.2,700.1 628.5,702 631.8,699 622.6,697.1"/><polygon color="#39ff00" points="631.8,699 640.9,701.2 644.3,698.2 635.2,696"/><polygon color="#34ff00" points="644.3,698.2 653.3,700.6 656.6,697.5 647.6,695"/><polygon color="#2dff00" points="656.6,697.5 665.6,700.1 669,696.9 660.1,694.2"/><polygon color="#38ff00" points="615.9,703 625.2,705 628.5,702 619.2,700.1"/><polygon color="#34ff00" points="628.5,702 637.7,704.2 640.9,701.2 631.8,699"/><polygon color="#2dff00" points="640.9,701.2 650.1,703.7 653.3,700.6 644.3,698.2"/><polygon color="#25ff00" points="653.3,700.6 662.4,703.3 665.6,700.1 656.6,697.5"/><polygon color="#30ff00" points="625.2,705 634.5,707.1 637.7,704.2 628.5,702"/><polygon color="#29ff00" points="637.7,704.2 646.9,706.6 650.1,703.7 640.9,701.2"/><polygon color="#1fff00" points="650.1,703.7 659.2,706.3 662.4,703.3 653.3,700.6"/><polygon color="#26ff00" points="634.5,707.1 643.8,709.5 646.9,706.6 637.7,704.2"/><polygon color="#1bff00" points="646.9,706.6 656,709.2 659.2,706.3 650.1,703.7"/><polygon color="#19ff00" points="643.8,709.5 653,712 656,709.2 646.9,706.6"/></g>
<g fill="none" stroke="#000" stroke-opacity="0.6" stroke-width="0.85"><path d="M461,698.9Q509.5,674.5 556,640"/><path d="M461,698.9Q561,685.5 653,712"/><path d="M463.2,698.6Q511.5,674.1 557.8,639.5"/><path d="M462.6,698.1Q562.2,684.5 654,711.1"/><path d="M465.5,698.3Q513.5,673.6 559.7,639.1"/><path d="M464.2,697.3Q563.5,683.4 655,710.2"/><path d="M467.7,698Q515.5,673.2 561.5,638.6"/><path d="M465.8,696.5Q564.7,682.3 656,709.2"/><path d="M470,697.8Q517.5,672.7 563.4,638.1"/><path d="M467.4,695.6Q565.9,681.2 657,708.3"/><path d="M472.3,697.5Q519.5,672.3 565.2,637.7"/><path d="M469,694.8Q567.1,680.2 658.1,707.3"/><path d="M474.6,697.3Q521.5,671.9 567.1,637.2"/><path d="M470.5,694Q568.3,679.1 659.1,706.4"/><path d="M476.9,697Q523.6,671.4 569,636.8"/><path d="M472.1,693.2Q569.5,678 660.1,705.4"/><path d="M479.2,696.8Q525.6,671.1 571,636.4"/><path d="M473.7,692.4Q570.7,677 661.1,704.4"/><path d="M481.5,696.6Q527.7,670.7 572.9,636"/><path d="M475.2,691.5Q571.9,675.9 662.2,703.4"/><path d="M483.9,696.4Q529.8,670.3 574.9,635.6"/><path d="M476.7,690.7Q573.1,674.9 663.2,702.5"/><path d="M486.2,696.2Q531.9,669.9 576.8,635.2"/><path d="M478.3,689.9Q574.3,673.8 664.2,701.5"/><path d="M488.6,696Q534,669.6 578.8,634.8"/><path d="M479.8,689Q575.5,672.8 665.3,700.5"/><path d="M491,695.8Q536.1,669.2 580.8,634.4"/><path d="M481.3,688.2Q576.6,671.8 666.3,699.5"/><path d="M493.4,695.6Q538.3,668.9 582.9,634"/><path d="M482.8,687.4Q577.8,670.7 667.4,698.5"/><path d="M495.8,695.4Q540.4,668.6 584.9,633.6"/><path d="M484.3,686.6Q579,669.7 668.4,697.4"/><path d="M498.2,695.3Q542.6,668.3 586.9,633.3"/><path d="M485.8,685.7Q580.1,668.7 669.5,696.4"/><path d="M500.7,695.2Q544.8,668 589,632.9"/><path d="M487.3,684.9Q581.3,667.7 670.5,695.4"/><path d="M503.1,695Q546.9,667.8 591.1,632.6"/><path d="M488.7,684.1Q582.5,666.7 671.6,694.4"/><path d="M505.6,694.9Q549.1,667.5 593.2,632.2"/><path d="M490.2,683.2Q583.6,665.7 672.6,693.3"/><path d="M508.1,694.8Q551.3,667.3 595.3,631.9"/><path d="M491.6,682.4Q584.8,664.6 673.7,692.3"/><path d="M510.6,694.7Q553.6,667.1 597.4,631.6"/><path d="M493.1,681.6Q585.9,663.6 674.8,691.2"/><path d="M513.1,694.6Q555.8,666.9 599.6,631.3"/><path d="M494.5,680.7Q587,662.6 675.8,690.2"/><path d="M515.6,694.6Q558.1,666.7 601.7,631"/><path d="M495.9,679.9Q588.2,661.7 676.9,689.1"/><path d="M518.1,694.5Q560.3,666.5 603.9,630.7"/><path d="M497.4,679Q589.3,660.7 678,688.1"/><path d="M520.6,694.5Q562.6,666.4 606.1,630.5"/><path d="M498.8,678.2Q590.4,659.7 679,687"/><path d="M523.2,694.4Q564.9,666.2 608.3,630.2"/><path d="M500.2,677.4Q591.5,658.7 680.1,686"/><path d="M525.8,694.4Q567.2,666.1 610.6,630"/><path d="M501.6,676.5Q592.6,657.7 681.2,684.9"/><path d="M528.3,694.4Q569.5,666 612.8,629.7"/><path d="M503,675.7Q593.7,656.8 682.2,683.8"/><path d="M530.9,694.4Q571.8,665.9 615.1,629.5"/><path d="M504.3,674.9Q594.8,655.8 683.3,682.7"/><path d="M533.5,694.5Q574.1,665.9 617.3,629.3"/><path d="M505.7,674Q595.9,654.8 684.4,681.6"/><path d="M536.1,694.5Q576.5,665.8 619.6,629.1"/><path d="M507.1,673.2Q597,653.9 685.5,680.6"/><path d="M538.8,694.6Q578.9,665.8 622,628.9"/><path d="M508.4,672.4Q598.1,652.9 686.5,679.5"/><path d="M541.4,694.6Q581.2,665.8 624.3,628.8"/><path d="M509.8,671.5Q599.2,652 687.6,678.4"/><path d="M544,694.7Q583.6,665.8 626.6,628.6"/><path d="M511.1,670.7Q600.3,651 688.7,677.3"/><path d="M546.7,694.8Q586,665.8 629,628.5"/><path d="M512.4,669.9Q601.4,650.1 689.8,676.2"/><path d="M549.4,694.9Q588.4,665.9 631.4,628.3"/><path d="M513.7,669Q602.4,649.1 690.8,675.1"/><path d="M552.1,695.1Q590.8,666 633.8,628.2"/><path d="M515.1,668.2Q603.5,648.2 691.9,674"/><path d="M554.8,695.2Q593.3,666.1 636.2,628.1"/><path d="M516.4,667.4Q604.6,647.3 693,672.9"/><path d="M557.5,695.4Q595.7,666.2 638.6,628"/><path d="M517.7,666.5Q605.6,646.4 694.1,671.8"/><path d="M560.2,695.6Q598.2,666.3 641.1,628"/><path d="M518.9,665.7Q606.7,645.4 695.2,670.7"/><path d="M562.9,695.8Q600.6,666.5 643.5,627.9"/><path d="M520.2,664.9Q607.7,644.5 696.2,669.6"/><path d="M565.7,696Q603.1,666.7 646,627.9"/><path d="M521.5,664.1Q608.7,643.6 697.3,668.5"/><path d="M568.4,696.2Q605.6,666.9 648.5,627.8"/><path d="M522.8,663.2Q609.8,642.7 698.4,667.3"/><path d="M571.2,696.5Q608.1,667.1 651,627.8"/><path d="M524,662.4Q610.8,641.8 699.5,666.2"/><path d="M574,696.8Q610.6,667.4 653.6,627.8"/><path d="M525.3,661.6Q611.8,640.9 700.5,665.1"/><path d="M576.7,697.1Q613.2,667.6 656.1,627.9"/><path d="M526.5,660.8Q612.8,640 701.6,664"/><path d="M579.5,697.4Q615.7,667.9 658.7,627.9"/><path d="M527.7,659.9Q613.9,639.1 702.7,662.9"/><path d="M582.3,697.7Q618.3,668.3 661.3,628"/><path d="M529,659.1Q614.9,638.3 703.8,661.8"/><path d="M585.2,698Q620.8,668.6 663.9,628"/><path d="M530.2,658.3Q615.9,637.4 704.8,660.6"/><path d="M588,698.4Q623.4,669 666.5,628.1"/><path d="M531.4,657.5Q616.9,636.5 705.9,659.5"/><path d="M590.8,698.8Q626,669.4 669.2,628.2"/><path d="M532.6,656.7Q617.9,635.6 707,658.4"/><path d="M593.7,699.2Q628.6,669.8 671.8,628.3"/><path d="M533.8,655.8Q618.8,634.8 708,657.3"/><path d="M596.6,699.6Q631.2,670.3 674.5,628.5"/><path d="M535,655Q619.8,633.9 709.1,656.2"/><path d="M599.4,700.1Q633.8,670.8 677.2,628.7"/><path d="M536.1,654.2Q620.8,633.1 710.2,655"/><path d="M602.3,700.6Q636.4,671.3 679.9,628.8"/><path d="M537.3,653.4Q621.8,632.2 711.2,653.9"/><path d="M605.2,701Q639.1,671.8 682.7,629"/><path d="M538.5,652.6Q622.7,631.4 712.3,652.8"/><path d="M608.1,701.6Q641.8,672.4 685.4,629.2"/><path d="M539.6,651.8Q623.7,630.5 713.4,651.7"/><path d="M611.1,702.1Q644.4,673 688.2,629.5"/><path d="M540.8,651Q624.7,629.7 714.4,650.6"/><path d="M614,702.6Q647.1,673.6 691,629.7"/><path d="M541.9,650.2Q625.6,628.9 715.5,649.4"/><path d="M616.9,703.2Q649.8,674.2 693.8,630"/><path d="M543,649.4Q626.6,628 716.5,648.3"/><path d="M619.9,703.8Q652.5,674.9 696.6,630.3"/><path d="M544.2,648.6Q627.5,627.2 717.6,647.2"/><path d="M622.8,704.4Q655.2,675.6 699.5,630.6"/><path d="M545.3,647.8Q628.4,626.4 718.6,646.1"/><path d="M625.8,705.1Q657.9,676.4 702.3,631"/><path d="M546.4,647Q629.4,625.6 719.7,645"/><path d="M628.8,705.8Q660.7,677.2 705.2,631.3"/><path d="M547.5,646.2Q630.3,624.8 720.7,643.9"/><path d="M631.8,706.5Q663.4,678 708.1,631.7"/><path d="M548.6,645.4Q631.2,624 721.8,642.7"/><path d="M634.8,707.2Q666.2,678.8 711.1,632.1"/><path d="M549.7,644.7Q632.1,623.2 722.8,641.6"/><path d="M637.8,707.9Q669,679.7 714,632.5"/><path d="M550.7,643.9Q633,622.4 723.9,640.5"/><path d="M640.8,708.7Q671.8,680.6 717,633"/><path d="M551.8,643.1Q633.9,621.6 724.9,639.4"/><path d="M643.8,709.5Q674.5,681.5 719.9,633.5"/><path d="M552.9,642.3Q634.8,620.8 725.9,638.3"/><path d="M646.9,710.3Q677.4,682.5 722.9,633.9"/><path d="M553.9,641.5Q635.7,620 726.9,637.2"/><path d="M649.9,711.1Q680.2,683.5 726,634.5"/><path d="M555,640.8Q636.6,619.3 728,636.1"/><path d="M653,712Q683,684.5 729,635"/><path d="M556,640Q637.5,618.5 729,635"/></g>
<ellipse cx="459.2" cy="700.4" rx="2.8" ry="1.9" fill="#ffb4bc" stroke="#b07070" stroke-width="0.4"/>
<ellipse cx="653" cy="717" rx="2.8" ry="1.9" fill="#ffb4bc" stroke="#b07070" stroke-width="0.4"/>
<ellipse cx="554" cy="631" rx="2.8" ry="1.9" fill="#e60000" stroke="#701010" stroke-width="0.4"/>
<ellipse cx="730" cy="627" rx="2.8" ry="1.9" fill="#e60000" stroke="#701010" stroke-width="0.4"/>
<ellipse cx="598.3" cy="652.4" rx="2.8" ry="1.9" fill="#e60000" stroke="#701010" stroke-width="0.4"/>
<ellipse cx="598.3" cy="656.5" rx="2.8" ry="1.9" fill="#e60000" stroke="#701010" stroke-width="0.4"/>
<path d="M554,631L555,640" stroke="#222" stroke-width="0.5"/>
<path d="M730,627L729,635" stroke="#222" stroke-width="0.5"/>
<path d="M653,712L653,717" stroke="#222" stroke-width="0.5"/>
<path d="M598.3,657L598.3,664" stroke="#222" stroke-width="0.5"/>
<g font-size="6.4" font-weight="bold" fill="#000" stroke="#000" stroke-width="0.35"><text x="451" y="640.4" text-anchor="end" textLength="9.4" lengthAdjust="spacingAndGlyphs">160</text><text x="452.3" y="656.5" text-anchor="end" textLength="9.4" lengthAdjust="spacingAndGlyphs">159</text><text x="453.6" y="672.7" text-anchor="end" textLength="9.4" lengthAdjust="spacingAndGlyphs">158</text><text x="454.9" y="688.8" text-anchor="end" textLength="9.4" lengthAdjust="spacingAndGlyphs">157</text><text x="456.3" y="705" text-anchor="end" textLength="9.4" lengthAdjust="spacingAndGlyphs">156</text><text x="457.6" y="721.1" text-anchor="end" textLength="9.4" lengthAdjust="spacingAndGlyphs">155</text><text x="458.9" y="737.3" text-anchor="end" textLength="9.4" lengthAdjust="spacingAndGlyphs">154</text><text x="461.7" y="774.9" text-anchor="end" textLength="13.7" lengthAdjust="spacingAndGlyphs">-1.00</text><text x="507.9" y="782.4" text-anchor="end" textLength="13.7" lengthAdjust="spacingAndGlyphs">-0.50</text><text x="554.2" y="789.9" text-anchor="end" textLength="11.7" lengthAdjust="spacingAndGlyphs">0.00</text><text x="600.5" y="797.4" text-anchor="end" textLength="11.7" lengthAdjust="spacingAndGlyphs">0.50</text><text x="646.7" y="804.9" text-anchor="end" textLength="11.7" lengthAdjust="spacingAndGlyphs">1.00</text><text x="653.6" y="805.1" textLength="13.7" lengthAdjust="spacingAndGlyphs">-1.00</text><text x="671.4" y="790.4" textLength="13.7" lengthAdjust="spacingAndGlyphs">-0.50</text><text x="689.1" y="775.6" textLength="11.7" lengthAdjust="spacingAndGlyphs">0.00</text><text x="706.9" y="760.9" textLength="11.7" lengthAdjust="spacingAndGlyphs">0.50</text><text x="724.6" y="746.1" textLength="11.7" lengthAdjust="spacingAndGlyphs">1.00</text></g>
<g font-size="8.4" fill="#111" stroke="#000" stroke-width="0.5"><text x="492" y="810.5" textLength="64" lengthAdjust="spacingAndGlyphs">C: Crushed mesh</text><text x="713" y="783.5" textLength="66" lengthAdjust="spacingAndGlyphs" xml:space="preserve">D: Ultrasonic time</text><text transform="translate(411.2,747) rotate(-90)" textLength="79" lengthAdjust="spacingAndGlyphs">Total Extraction Yield</text></g>
<text x="604.6" y="849.8" text-anchor="middle" font-family="'Liberation Serif',serif" font-size="20" fill="#000">(<tspan font-weight="bold">F</tspan>)</text>
</g>
</svg>
</body></html>
